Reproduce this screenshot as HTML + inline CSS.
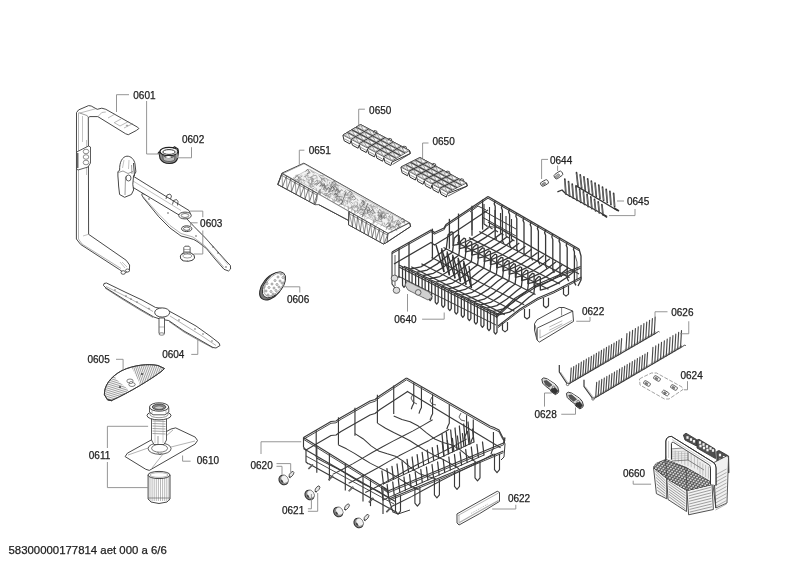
<!DOCTYPE html>
<html><head><meta charset="utf-8">
<style>
html,body{margin:0;padding:0;background:#fff;}
body{width:800px;height:566px;overflow:hidden;position:relative;}
svg{position:absolute;left:0;top:0;will-change:transform;}
text{font-family:"Liberation Sans",sans-serif;font-size:10px;fill:#222;stroke:#222;stroke-width:0.25px;}
.ft{font-size:11.4px;}
</style></head><body>
<svg width="800" height="566" viewBox="0 0 800 566">
<polygon points="76.5,112.6 78.6,109.9 88.6,105.6 91.2,106 97.2,109.3 101.8,108.2 105.8,109.3 137.6,127.2 138.9,128.5 136.3,130.5 128.3,134.7 125.7,133.8 97.8,116.6 89.9,116.6 88.3,117.5 88.6,234.3 126.2,260.3 129.6,265 129.4,271 124,273 119.8,269.8 80.6,244.4 76.4,239" stroke="#333" stroke-width="0.9" fill="#fff" stroke-linejoin="round" />
<polyline points="78.6,112.6 87.2,115.6 88.3,117.5" stroke="#555" stroke-width="0.6" fill="none" stroke-linejoin="round" />
<polyline points="80,113 96.5,108.5" stroke="#777" stroke-width="0.5" fill="none" stroke-linejoin="round" />
<polyline points="98,116.5 101.8,112.5 105.8,112" stroke="#777" stroke-width="0.5" fill="none" stroke-linejoin="round" />
<line x1="108" y1="118" x2="115" y2="114" stroke="#777" stroke-width="0.5" />
<line x1="114.5" y1="122.5" x2="121" y2="119" stroke="#777" stroke-width="0.5" />
<line x1="120" y1="126" x2="128.5" y2="121.5" stroke="#777" stroke-width="0.5" />
<line x1="114" y1="122.5" x2="120" y2="126" stroke="#777" stroke-width="0.5" />
<line x1="124" y1="128" x2="133" y2="123.5" stroke="#777" stroke-width="0.5" />
<ellipse cx="127" cy="125.5" rx="0.7" ry="0.5" stroke="#555" stroke-width="0.5" fill="none" />
<line x1="78.5" y1="113" x2="78.5" y2="239" stroke="#666" stroke-width="0.5" />
<line x1="82.5" y1="116" x2="82.5" y2="142" stroke="#888" stroke-width="0.5" />
<line x1="86.5" y1="140" x2="86.5" y2="175" stroke="#888" stroke-width="0.5" />
<polyline points="83,236 88.6,234.3" stroke="#888" stroke-width="0.5" fill="none" stroke-linejoin="round" />
<polyline points="78.5,239 82,244 121,268.5" stroke="#666" stroke-width="0.5" fill="none" stroke-linejoin="round" />
<line x1="120" y1="262" x2="125" y2="268" stroke="#888" stroke-width="0.5" />
<line x1="122" y1="262" x2="127" y2="267" stroke="#888" stroke-width="0.5" />
<ellipse cx="123.2" cy="272.5" rx="2.2" ry="1.8" stroke="#333" stroke-width="0.8" fill="#fff" />
<ellipse cx="127.5" cy="270.5" rx="2" ry="1.5" stroke="#333" stroke-width="0.7" fill="#fff" />
<polygon points="76.6,152 88.5,146 90.5,147 90.5,163 88,167 78,170 76.6,169" stroke="#333" stroke-width="0.8" fill="#fff" stroke-linejoin="round" />
<ellipse cx="86" cy="151.5" rx="2.8" ry="2.3" stroke="#444" stroke-width="0.6" fill="#fff" />
<ellipse cx="86" cy="157" rx="2.8" ry="2.3" stroke="#444" stroke-width="0.6" fill="#fff" />
<ellipse cx="86" cy="162.5" rx="2.8" ry="2.3" stroke="#444" stroke-width="0.6" fill="#fff" />
<line x1="77.8" y1="153" x2="77.8" y2="168" stroke="#444" stroke-width="1.2" />
<path d="M159,152.5 L160,158.5 C162,162.5 166,163.5 169.5,163.5 C173,163.5 176.5,162 177.5,158.5 L178.5,152 Z" stroke="#222" stroke-width="1.1" fill="#8a8a8a" stroke-linejoin="round" stroke-linecap="round" />
<ellipse cx="169" cy="151.5" rx="9" ry="4.2" stroke="#222" stroke-width="1.2" fill="#fff" />
<ellipse cx="169" cy="152" rx="6.2" ry="2.4" stroke="#333" stroke-width="1.0" fill="#fff" />
<path d="M163,155.5 C165,158.5 173,158.5 175,155.5 L174.5,160 C172,162 166,162 163.5,160 Z" stroke="#333" stroke-width="0.6" fill="#bbb" stroke-linejoin="round" stroke-linecap="round" />
<ellipse cx="168.5" cy="157" rx="2.5" ry="1" stroke="none" stroke-width="0" fill="#fff" />
<polyline points="173,148 174.5,146.8 178,149 178.5,152" stroke="#222" stroke-width="1.1" fill="none" stroke-linejoin="round" />
<polyline points="158,154 158.5,152 160.5,150.5" stroke="#222" stroke-width="1.0" fill="none" stroke-linejoin="round" />
<line x1="176" y1="149" x2="177.5" y2="158" stroke="#ccc" stroke-width="0.8" />
<polygon points="142.2,193.4 150.9,196.3 165,204 179.5,211.8 187,219 193.8,226.3 205,237.5 219.3,253.4 227,262 230.4,265.5 230.6,269 228.5,271 224,269.3 215,259 206.5,248.6 198,242 193.8,239.5 187,237.5 181,236 170,228 158.8,216.8 150,206 143.5,198 141.8,195" stroke="#333" stroke-width="0.9" fill="#fff" stroke-linejoin="round" />
<polyline points="143.5,197 150.5,205 159.5,215 170,225.5 181,233.5 193,237 205,246 214,256 224,267.5" stroke="#666" stroke-width="0.5" fill="none" stroke-linejoin="round" />
<polyline points="197,230 208,241 220,255 228,265" stroke="#888" stroke-width="0.45" fill="none" stroke-linejoin="round" />
<ellipse cx="149" cy="199" rx="0.7" ry="0.6" stroke="#555" stroke-width="0.5" fill="none" />
<ellipse cx="168" cy="213" rx="0.7" ry="0.6" stroke="#555" stroke-width="0.5" fill="none" />
<ellipse cx="196" cy="236" rx="0.7" ry="0.6" stroke="#555" stroke-width="0.5" fill="none" />
<ellipse cx="213" cy="247" rx="0.7" ry="0.6" stroke="#555" stroke-width="0.5" fill="none" />
<ellipse cx="218" cy="253" rx="0.7" ry="0.6" stroke="#555" stroke-width="0.5" fill="none" />
<ellipse cx="226" cy="267" rx="0.7" ry="0.6" stroke="#555" stroke-width="0.5" fill="none" />
<polygon points="131,174.8 146.1,184.2 189,210.5 190.5,214 187,217 178,214.4 129,185" stroke="#333" stroke-width="0.9" fill="#fff" stroke-linejoin="round" />
<line x1="133" y1="181" x2="181" y2="210.5" stroke="#888" stroke-width="0.5" />
<polyline points="166,199 167,195 170,194 171.5,196 170.5,199" stroke="#333" stroke-width="0.8" fill="none" stroke-linejoin="round" />
<polyline points="172.5,204.5 173.5,200.5 176.5,199.5 178,201.5 177.5,205.5" stroke="#333" stroke-width="0.8" fill="none" stroke-linejoin="round" />
<ellipse cx="185" cy="215.5" rx="6.3" ry="3.4" stroke="#333" stroke-width="0.9" fill="#fff" />
<ellipse cx="185" cy="215.5" rx="3.8" ry="2" stroke="#444" stroke-width="0.7" fill="#fff" />
<ellipse cx="186.7" cy="228.7" rx="5.2" ry="2.9" stroke="#333" stroke-width="0.9" fill="#fff" />
<ellipse cx="186.7" cy="228.7" rx="3.2" ry="1.7" stroke="#444" stroke-width="0.8" fill="#fff" />
<path d="M119.6,170 C119.3,162 122.5,156.5 126.9,156.2 C131,156 134.3,159.5 135,164 L135.9,172 L133.5,176 L132.8,184.4 L133.6,190 L131.4,194.5 L124.6,197.3 L119.6,194.5 L118.6,186 L118.4,182 L117.9,176 L117.9,172 Z" stroke="#333" stroke-width="0.9" fill="#fff" stroke-linejoin="round" stroke-linecap="round" />
<polyline points="118.2,172.5 123,171 128,173.5 133,171.5" stroke="#555" stroke-width="0.6" fill="none" stroke-linejoin="round" />
<polyline points="125.5,176.5 125,195" stroke="#555" stroke-width="0.6" fill="none" stroke-linejoin="round" />
<polyline points="124,160 122.5,168" stroke="#888" stroke-width="0.5" fill="none" stroke-linejoin="round" />
<polyline points="129,160 128.5,169" stroke="#888" stroke-width="0.5" fill="none" stroke-linejoin="round" />
<line x1="133.5" y1="163" x2="134.5" y2="176" stroke="#444" stroke-width="1.0" />
<line x1="131.5" y1="165" x2="132" y2="174" stroke="#666" stroke-width="0.6" />
<ellipse cx="128.5" cy="178" rx="2.5" ry="3" stroke="#333" stroke-width="0.8" fill="#fff" />
<polygon points="183.8,247.5 185,246.2 189,246.2 190.1,247.5 190.1,254 183.8,254" stroke="#333" stroke-width="0.8" fill="#fff" stroke-linejoin="round" />
<line x1="183.8" y1="249.5" x2="190.1" y2="249.5" stroke="#666" stroke-width="0.5" />
<line x1="183.8" y1="251.5" x2="190.1" y2="251.5" stroke="#666" stroke-width="0.5" />
<polygon points="180.3,256 182,253.5 186,252.8 191,253 194,255 194.6,258 192.5,260.3 188,261.3 183,260.8 180.8,259" stroke="#333" stroke-width="0.9" fill="#fff" stroke-linejoin="round" />
<ellipse cx="187.3" cy="256" rx="4.5" ry="2" stroke="#555" stroke-width="0.6" fill="#fff" />
<line x1="193.9" y1="257" x2="194.7" y2="257" stroke="#333" stroke-width="0.7" />
<line x1="192" y1="259.26" x2="192.56" y2="259.62" stroke="#333" stroke-width="0.7" />
<line x1="187.4" y1="260.2" x2="187.4" y2="260.7" stroke="#333" stroke-width="0.7" />
<line x1="182.8" y1="259.26" x2="182.24" y2="259.62" stroke="#333" stroke-width="0.7" />
<line x1="180.9" y1="257" x2="180.1" y2="257" stroke="#333" stroke-width="0.7" />
<line x1="182.8" y1="254.74" x2="182.24" y2="254.38" stroke="#333" stroke-width="0.7" />
<line x1="187.4" y1="253.8" x2="187.4" y2="253.3" stroke="#333" stroke-width="0.7" />
<line x1="192" y1="254.74" x2="192.56" y2="254.38" stroke="#333" stroke-width="0.7" />
<ellipse cx="272" cy="286.3" rx="16" ry="9.3" stroke="#2a2a2a" stroke-width="1.0" fill="#777" transform="rotate(-51 272 286.3)" />
<ellipse cx="274" cy="284.8" rx="15.2" ry="8.6" stroke="#333" stroke-width="0.9" fill="#fff" transform="rotate(-51 274 284.8)" />
<ellipse cx="274.3" cy="284.6" rx="13.6" ry="7.4" stroke="#666" stroke-width="0.5" fill="#fff" transform="rotate(-51 274.3 284.6)" />
<ellipse cx="266" cy="291" rx="1" ry="1" stroke="#555" stroke-width="0.55" fill="#fff" />
<ellipse cx="269" cy="287.5" rx="1" ry="1" stroke="#555" stroke-width="0.55" fill="#fff" />
<ellipse cx="272" cy="284" rx="1" ry="1" stroke="#555" stroke-width="0.55" fill="#fff" />
<ellipse cx="275" cy="280.5" rx="1" ry="1" stroke="#555" stroke-width="0.55" fill="#fff" />
<ellipse cx="278" cy="277" rx="1" ry="1" stroke="#555" stroke-width="0.55" fill="#fff" />
<ellipse cx="281" cy="274" rx="1" ry="1" stroke="#555" stroke-width="0.55" fill="#fff" />
<ellipse cx="268" cy="295" rx="1" ry="1" stroke="#555" stroke-width="0.55" fill="#fff" />
<ellipse cx="271" cy="291.5" rx="1" ry="1" stroke="#555" stroke-width="0.55" fill="#fff" />
<ellipse cx="274" cy="288" rx="1" ry="1" stroke="#555" stroke-width="0.55" fill="#fff" />
<ellipse cx="277" cy="284.5" rx="1" ry="1" stroke="#555" stroke-width="0.55" fill="#fff" />
<ellipse cx="280" cy="281" rx="1" ry="1" stroke="#555" stroke-width="0.55" fill="#fff" />
<ellipse cx="283" cy="277.5" rx="1" ry="1" stroke="#555" stroke-width="0.55" fill="#fff" />
<ellipse cx="273" cy="294" rx="1" ry="1" stroke="#555" stroke-width="0.55" fill="#fff" />
<ellipse cx="276" cy="290.5" rx="1" ry="1" stroke="#555" stroke-width="0.55" fill="#fff" />
<ellipse cx="279" cy="287" rx="1" ry="1" stroke="#555" stroke-width="0.55" fill="#fff" />
<ellipse cx="282" cy="283" rx="1" ry="1" stroke="#555" stroke-width="0.55" fill="#fff" />
<ellipse cx="264" cy="287" rx="1" ry="1" stroke="#555" stroke-width="0.55" fill="#fff" />
<ellipse cx="267" cy="283.5" rx="1" ry="1" stroke="#555" stroke-width="0.55" fill="#fff" />
<polygon points="104,283.5 106.5,283 125,292 142,300 155.6,307.5 162,308.5 169,311 180,317 196,326 210,336 219,343 220,345.5 216,348 213,347.5 200,340 184,331 168.8,320.6 160,319 153.8,317 140,309 122,298 106,288 103.5,285.5" stroke="#333" stroke-width="0.9" fill="#fff" stroke-linejoin="round" />
<polyline points="106,286.5 124,295.5 140,304 153,311.5" stroke="#666" stroke-width="0.5" fill="none" stroke-linejoin="round" />
<polyline points="170,316 186,326 202,336 216,345.5" stroke="#666" stroke-width="0.5" fill="none" stroke-linejoin="round" />
<polyline points="105,288 122,299 140,310 153,317.5" stroke="#444" stroke-width="0.6" fill="none" stroke-linejoin="round" />
<polyline points="169,321.5 184,332 200,341 213,348" stroke="#444" stroke-width="0.6" fill="none" stroke-linejoin="round" />
<ellipse cx="115" cy="290" rx="0.6" ry="0.5" stroke="#555" stroke-width="0.5" fill="none" />
<ellipse cx="126" cy="296" rx="0.6" ry="0.5" stroke="#555" stroke-width="0.5" fill="none" />
<ellipse cx="131" cy="299" rx="0.6" ry="0.5" stroke="#555" stroke-width="0.5" fill="none" />
<ellipse cx="137" cy="302" rx="0.6" ry="0.5" stroke="#555" stroke-width="0.5" fill="none" />
<ellipse cx="149" cy="308.5" rx="0.6" ry="0.5" stroke="#555" stroke-width="0.5" fill="none" />
<ellipse cx="179" cy="320" rx="0.6" ry="0.5" stroke="#555" stroke-width="0.5" fill="none" />
<ellipse cx="195" cy="329" rx="0.6" ry="0.5" stroke="#555" stroke-width="0.5" fill="none" />
<ellipse cx="203" cy="334" rx="0.6" ry="0.5" stroke="#555" stroke-width="0.5" fill="none" />
<ellipse cx="212" cy="341" rx="0.6" ry="0.5" stroke="#555" stroke-width="0.5" fill="none" />
<ellipse cx="162.2" cy="312.5" rx="7.5" ry="4.6" stroke="#333" stroke-width="0.9" fill="#fff" />
<polygon points="159,318 164.5,318 164.5,333 163.5,334.5 160,334.5 159,333" stroke="#333" stroke-width="0.8" fill="#fff" stroke-linejoin="round" />
<line x1="159" y1="327" x2="164.5" y2="327" stroke="#666" stroke-width="0.5" />
<ellipse cx="161.7" cy="334" rx="2.7" ry="1.2" stroke="#333" stroke-width="0.6" fill="#fff" />
<path d="M104.4,394.4 C104,386 110,377 122,370.5 C134,365 148,363.5 158,365.5 L164.4,368.5 L162,371 C150,380 130,392 111.9,400.4 L108,400 Z" stroke="#333" stroke-width="0.9" fill="#fff" stroke-linejoin="round" stroke-linecap="round" />
<defs><clipPath id="fpclip"><path d="M104.4,394.4 C104,386 110,377 122,370.5 C134,365 148,363.5 158,365.5 L164.4,368.5 L162,371 C150,380 130,392 111.9,400.4 L108,400 Z"/></clipPath></defs>
<defs><clipPath id="fpR"><polygon points="128,360 170,360 170,400 143,400 139,382"/></clipPath><clipPath id="fpL"><polygon points="95,360 110,360 116,379 131,392 131,405 95,405"/></clipPath></defs>
<g clip-path="url(#fpclip)"><g clip-path="url(#fpR)">
<line x1="115" y1="362" x2="125" y2="392" stroke="#808080" stroke-width="0.75" />
<line x1="116.9" y1="362" x2="126.9" y2="392" stroke="#808080" stroke-width="0.75" />
<line x1="118.8" y1="362" x2="128.8" y2="392" stroke="#808080" stroke-width="0.75" />
<line x1="120.7" y1="362" x2="130.7" y2="392" stroke="#808080" stroke-width="0.75" />
<line x1="122.6" y1="362" x2="132.6" y2="392" stroke="#808080" stroke-width="0.75" />
<line x1="124.5" y1="362" x2="134.5" y2="392" stroke="#808080" stroke-width="0.75" />
<line x1="126.4" y1="362" x2="136.4" y2="392" stroke="#808080" stroke-width="0.75" />
<line x1="128.3" y1="362" x2="138.3" y2="392" stroke="#808080" stroke-width="0.75" />
<line x1="130.2" y1="362" x2="140.2" y2="392" stroke="#808080" stroke-width="0.75" />
<line x1="132.1" y1="362" x2="142.1" y2="392" stroke="#808080" stroke-width="0.75" />
<line x1="134" y1="362" x2="144" y2="392" stroke="#808080" stroke-width="0.75" />
<line x1="135.9" y1="362" x2="145.9" y2="392" stroke="#808080" stroke-width="0.75" />
<line x1="137.8" y1="362" x2="147.8" y2="392" stroke="#808080" stroke-width="0.75" />
<line x1="139.7" y1="362" x2="149.7" y2="392" stroke="#808080" stroke-width="0.75" />
<line x1="141.6" y1="362" x2="151.6" y2="392" stroke="#808080" stroke-width="0.75" />
<line x1="143.5" y1="362" x2="153.5" y2="392" stroke="#808080" stroke-width="0.75" />
<line x1="145.4" y1="362" x2="155.4" y2="392" stroke="#808080" stroke-width="0.75" />
<line x1="147.3" y1="362" x2="157.3" y2="392" stroke="#808080" stroke-width="0.75" />
<line x1="149.2" y1="362" x2="159.2" y2="392" stroke="#808080" stroke-width="0.75" />
<line x1="151.1" y1="362" x2="161.1" y2="392" stroke="#808080" stroke-width="0.75" />
<line x1="153" y1="362" x2="163" y2="392" stroke="#808080" stroke-width="0.75" />
<line x1="154.9" y1="362" x2="164.9" y2="392" stroke="#808080" stroke-width="0.75" />
<line x1="156.8" y1="362" x2="166.8" y2="392" stroke="#808080" stroke-width="0.75" />
<line x1="158.7" y1="362" x2="168.7" y2="392" stroke="#808080" stroke-width="0.75" />
<line x1="160.6" y1="362" x2="170.6" y2="392" stroke="#808080" stroke-width="0.75" />
<line x1="162.5" y1="362" x2="172.5" y2="392" stroke="#808080" stroke-width="0.75" />
<line x1="164.4" y1="362" x2="174.4" y2="392" stroke="#808080" stroke-width="0.75" />
<line x1="166.3" y1="362" x2="176.3" y2="392" stroke="#808080" stroke-width="0.75" />
<line x1="168.2" y1="362" x2="178.2" y2="392" stroke="#808080" stroke-width="0.75" />
<line x1="170.1" y1="362" x2="180.1" y2="392" stroke="#808080" stroke-width="0.75" />
<line x1="172" y1="362" x2="182" y2="392" stroke="#808080" stroke-width="0.75" />
<line x1="173.9" y1="362" x2="183.9" y2="392" stroke="#808080" stroke-width="0.75" />
<line x1="175.8" y1="362" x2="185.8" y2="392" stroke="#808080" stroke-width="0.75" />
<line x1="177.7" y1="362" x2="187.7" y2="392" stroke="#808080" stroke-width="0.75" />
<line x1="179.6" y1="362" x2="189.6" y2="392" stroke="#808080" stroke-width="0.75" />
<line x1="181.5" y1="362" x2="191.5" y2="392" stroke="#808080" stroke-width="0.75" />
<line x1="183.4" y1="362" x2="193.4" y2="392" stroke="#808080" stroke-width="0.75" />
<line x1="185.3" y1="362" x2="195.3" y2="392" stroke="#808080" stroke-width="0.75" />
<line x1="187.2" y1="362" x2="197.2" y2="392" stroke="#808080" stroke-width="0.75" />
<line x1="189.1" y1="362" x2="199.1" y2="392" stroke="#808080" stroke-width="0.75" />
</g><g clip-path="url(#fpL)">
<line x1="100" y1="362.5" x2="128" y2="354.5" stroke="#808080" stroke-width="0.75" />
<line x1="100" y1="364.4" x2="128" y2="356.4" stroke="#808080" stroke-width="0.75" />
<line x1="100" y1="366.3" x2="128" y2="358.3" stroke="#808080" stroke-width="0.75" />
<line x1="100" y1="368.2" x2="128" y2="360.2" stroke="#808080" stroke-width="0.75" />
<line x1="100" y1="370.1" x2="128" y2="362.1" stroke="#808080" stroke-width="0.75" />
<line x1="100" y1="372" x2="128" y2="364" stroke="#808080" stroke-width="0.75" />
<line x1="100" y1="373.9" x2="128" y2="365.9" stroke="#808080" stroke-width="0.75" />
<line x1="100" y1="375.8" x2="128" y2="367.8" stroke="#808080" stroke-width="0.75" />
<line x1="100" y1="377.7" x2="128" y2="369.7" stroke="#808080" stroke-width="0.75" />
<line x1="100" y1="379.6" x2="128" y2="371.6" stroke="#808080" stroke-width="0.75" />
<line x1="100" y1="381.5" x2="128" y2="373.5" stroke="#808080" stroke-width="0.75" />
<line x1="100" y1="383.4" x2="128" y2="375.4" stroke="#808080" stroke-width="0.75" />
<line x1="100" y1="385.3" x2="128" y2="377.3" stroke="#808080" stroke-width="0.75" />
<line x1="100" y1="387.2" x2="128" y2="379.2" stroke="#808080" stroke-width="0.75" />
<line x1="100" y1="389.1" x2="128" y2="381.1" stroke="#808080" stroke-width="0.75" />
<line x1="100" y1="391" x2="128" y2="383" stroke="#808080" stroke-width="0.75" />
<line x1="100" y1="392.9" x2="128" y2="384.9" stroke="#808080" stroke-width="0.75" />
<line x1="100" y1="394.8" x2="128" y2="386.8" stroke="#808080" stroke-width="0.75" />
<line x1="100" y1="396.7" x2="128" y2="388.7" stroke="#808080" stroke-width="0.75" />
<line x1="100" y1="398.6" x2="128" y2="390.6" stroke="#808080" stroke-width="0.75" />
<line x1="100" y1="400.5" x2="128" y2="392.5" stroke="#808080" stroke-width="0.75" />
<line x1="100" y1="402.4" x2="128" y2="394.4" stroke="#808080" stroke-width="0.75" />
<line x1="100" y1="404.3" x2="128" y2="396.3" stroke="#808080" stroke-width="0.75" />
<line x1="100" y1="406.2" x2="128" y2="398.2" stroke="#808080" stroke-width="0.75" />
<line x1="100" y1="408.1" x2="128" y2="400.1" stroke="#808080" stroke-width="0.75" />
<line x1="100" y1="410" x2="128" y2="402" stroke="#808080" stroke-width="0.75" />
<line x1="100" y1="411.9" x2="128" y2="403.9" stroke="#808080" stroke-width="0.75" />
<line x1="100" y1="413.8" x2="128" y2="405.8" stroke="#808080" stroke-width="0.75" />
<line x1="100" y1="415.7" x2="128" y2="407.7" stroke="#808080" stroke-width="0.75" />
<line x1="100" y1="417.6" x2="128" y2="409.6" stroke="#808080" stroke-width="0.75" />
</g></g>
<path d="M104.4,394.4 C104,386 110,377 122,370.5 C134,365 148,363.5 158,365.5 L164.4,368.5 L162,371 C150,380 130,392 111.9,400.4 L108,400 Z" stroke="#333" stroke-width="0.9" fill="none" stroke-linejoin="round" stroke-linecap="round" />
<ellipse cx="130" cy="381" rx="3.2" ry="2" stroke="#333" stroke-width="0.6" fill="#fff" />
<ellipse cx="132" cy="384.5" rx="3.2" ry="2" stroke="#333" stroke-width="0.6" fill="#fff" />
<ellipse cx="131" cy="382.5" rx="1.5" ry="1" stroke="#333" stroke-width="0.5" fill="#fff" />
<ellipse cx="142" cy="374" rx="0.8" ry="0.6" stroke="#333" stroke-width="0.6" fill="#333" />
<ellipse cx="120" cy="387" rx="0.8" ry="0.6" stroke="#333" stroke-width="0.6" fill="#333" />
<polyline points="108,399.5 112,401" stroke="#333" stroke-width="1" fill="none" stroke-linejoin="round" />
<polygon points="125.1,456.6 127.4,453.2 171,429 175.7,427.9 195.2,437.1 197.5,440.5 195.2,444 149.3,470.4 145.8,469.3" stroke="#333" stroke-width="0.9" fill="#fff" stroke-linejoin="round" />
<ellipse cx="159.6" cy="448.6" rx="11.5" ry="5.7" stroke="#333" stroke-width="0.8" fill="#fff" />
<ellipse cx="159.6" cy="448.3" rx="8" ry="3.9" stroke="#444" stroke-width="0.7" fill="#fff" />
<line x1="128" y1="455" x2="148" y2="448" stroke="#666" stroke-width="0.5" />
<line x1="171" y1="447" x2="195" y2="441" stroke="#666" stroke-width="0.5" />
<line x1="163" y1="454" x2="152" y2="468" stroke="#666" stroke-width="0.5" />
<line x1="158" y1="443" x2="173" y2="430" stroke="#666" stroke-width="0.5" />
<polyline points="157.5,452 160,455 161.5,453" stroke="#444" stroke-width="0.6" fill="none" stroke-linejoin="round" />
<polygon points="151.5,418 166.5,418 166.5,440 164,444.5 154,444.5 151.5,440" stroke="#333" stroke-width="0.8" fill="#fff" stroke-linejoin="round" />
<line x1="152.5" y1="421" x2="165.5" y2="421.5" stroke="#666" stroke-width="0.6" />
<line x1="152.5" y1="423.5" x2="165.5" y2="424" stroke="#666" stroke-width="0.6" />
<line x1="152.5" y1="426" x2="165.5" y2="426.5" stroke="#666" stroke-width="0.6" />
<line x1="152.5" y1="428.5" x2="165.5" y2="429" stroke="#666" stroke-width="0.6" />
<line x1="152.5" y1="431" x2="165.5" y2="431.5" stroke="#666" stroke-width="0.6" />
<line x1="152.5" y1="433.5" x2="165.5" y2="434" stroke="#666" stroke-width="0.6" />
<line x1="155" y1="418" x2="155" y2="443" stroke="#999" stroke-width="0.5" />
<line x1="163" y1="418" x2="163" y2="443" stroke="#999" stroke-width="0.5" />
<polyline points="158,436 158,444" stroke="#555" stroke-width="0.6" fill="none" stroke-linejoin="round" />
<ellipse cx="159" cy="415.5" rx="12" ry="4.4" stroke="#333" stroke-width="0.9" fill="#fff" />
<ellipse cx="159" cy="414.5" rx="9" ry="3.2" stroke="#555" stroke-width="0.6" fill="#fff" />
<polygon points="149.5,407.5 149.5,412 153,414.8 165,414.8 168.8,412 168.8,407.5" stroke="#333" stroke-width="0.8" fill="#fff" stroke-linejoin="round" />
<line x1="152" y1="409" x2="152" y2="413.5" stroke="#777" stroke-width="0.5" />
<line x1="166" y1="409" x2="166" y2="413.5" stroke="#777" stroke-width="0.5" />
<ellipse cx="159.1" cy="407" rx="9.6" ry="4.2" stroke="#333" stroke-width="0.9" fill="#fff" />
<ellipse cx="159.1" cy="407" rx="6.8" ry="2.9" stroke="#333" stroke-width="0.8" fill="#888" />
<ellipse cx="159.1" cy="407.6" rx="4.2" ry="1.7" stroke="#444" stroke-width="0.5" fill="#ccc" />
<polygon points="148.1,475 148.1,499 151,502 159,503.5 167,502 170,499 170,475" stroke="#333" stroke-width="0.9" fill="#fff" stroke-linejoin="round" />
<line x1="150" y1="476" x2="150" y2="501" stroke="#888" stroke-width="0.6" />
<line x1="152.1" y1="476" x2="152.1" y2="501" stroke="#888" stroke-width="0.6" />
<line x1="154.2" y1="476" x2="154.2" y2="501" stroke="#888" stroke-width="0.6" />
<line x1="156.3" y1="476" x2="156.3" y2="501" stroke="#888" stroke-width="0.6" />
<line x1="158.4" y1="476" x2="158.4" y2="501" stroke="#888" stroke-width="0.6" />
<line x1="160.5" y1="476" x2="160.5" y2="501" stroke="#888" stroke-width="0.6" />
<line x1="162.6" y1="476" x2="162.6" y2="501" stroke="#888" stroke-width="0.6" />
<line x1="164.7" y1="476" x2="164.7" y2="501" stroke="#888" stroke-width="0.6" />
<line x1="166.8" y1="476" x2="166.8" y2="501" stroke="#888" stroke-width="0.6" />
<line x1="168.9" y1="476" x2="168.9" y2="501" stroke="#888" stroke-width="0.6" />
<ellipse cx="159" cy="475" rx="11" ry="3.6" stroke="#333" stroke-width="0.9" fill="#fff" />
<ellipse cx="159" cy="475" rx="9" ry="2.4" stroke="#666" stroke-width="0.5" fill="#fff" />
<line x1="148.1" y1="498" x2="170" y2="498" stroke="#555" stroke-width="0.6" />
<polygon points="343,135 360.5,124.5 409.5,150.5 410.3,153.5 392,162 390.77,165.55 385.06,162.52 383.83,157.67 383.83,157.67 382.61,161.22 376.89,158.18 375.67,153.33 375.67,153.33 374.44,156.88 368.73,153.85 367.5,149 367.5,149 366.27,152.55 360.56,149.52 359.33,144.67 359.33,144.67 358.11,148.22 352.39,145.18 351.17,140.33 351.17,140.33 349.94,143.88 344.23,140.85 343,136" stroke="#2e2e2e" stroke-width="1.0" fill="#fff" stroke-linejoin="round" />
<polygon points="343,135 360.5,124.5 409.5,150.5 392,161" stroke="#444" stroke-width="0.8" fill="#fafafa" stroke-linejoin="round" />
<polygon points="344.88,135.26 350.6,138.29 347.94,133.42" stroke="#777" stroke-width="0.5" fill="#ececec" stroke-linejoin="round" />
<polygon points="353.66,136.45 350.6,138.29 347.94,133.42" stroke="#777" stroke-width="0.5" fill="#fff" stroke-linejoin="round" />
<polygon points="349.26,132.63 354.97,135.66 352.32,130.79" stroke="#777" stroke-width="0.5" fill="#ececec" stroke-linejoin="round" />
<polygon points="358.04,133.83 354.97,135.66 352.32,130.79" stroke="#777" stroke-width="0.5" fill="#fff" stroke-linejoin="round" />
<polygon points="353.63,130.01 359.35,133.04 356.69,128.17" stroke="#777" stroke-width="0.5" fill="#ececec" stroke-linejoin="round" />
<polygon points="362.41,131.2 359.35,133.04 356.69,128.17" stroke="#777" stroke-width="0.5" fill="#fff" stroke-linejoin="round" />
<polygon points="358.01,127.38 363.72,130.41 361.07,125.54" stroke="#777" stroke-width="0.5" fill="#ececec" stroke-linejoin="round" />
<polygon points="366.79,128.58 363.72,130.41 361.07,125.54" stroke="#777" stroke-width="0.5" fill="#fff" stroke-linejoin="round" />
<polygon points="353.05,139.59 358.76,142.62 356.11,137.75" stroke="#777" stroke-width="0.5" fill="#ececec" stroke-linejoin="round" />
<polygon points="361.83,140.79 358.76,142.62 356.11,137.75" stroke="#777" stroke-width="0.5" fill="#fff" stroke-linejoin="round" />
<polygon points="357.42,136.96 363.14,140 360.49,135.13" stroke="#777" stroke-width="0.5" fill="#ececec" stroke-linejoin="round" />
<polygon points="366.2,138.16 363.14,140 360.49,135.13" stroke="#777" stroke-width="0.5" fill="#fff" stroke-linejoin="round" />
<polygon points="361.8,134.34 367.51,137.37 364.86,132.5" stroke="#777" stroke-width="0.5" fill="#ececec" stroke-linejoin="round" />
<polygon points="370.58,135.54 367.51,137.37 364.86,132.5" stroke="#777" stroke-width="0.5" fill="#fff" stroke-linejoin="round" />
<polygon points="366.17,131.71 371.89,134.75 369.24,129.88" stroke="#777" stroke-width="0.5" fill="#ececec" stroke-linejoin="round" />
<polygon points="374.95,132.91 371.89,134.75 369.24,129.88" stroke="#777" stroke-width="0.5" fill="#fff" stroke-linejoin="round" />
<polygon points="361.21,143.92 366.93,146.96 364.28,142.09" stroke="#777" stroke-width="0.5" fill="#ececec" stroke-linejoin="round" />
<polygon points="369.99,145.12 366.93,146.96 364.28,142.09" stroke="#777" stroke-width="0.5" fill="#fff" stroke-linejoin="round" />
<polygon points="365.59,141.3 371.31,144.33 368.65,139.46" stroke="#777" stroke-width="0.5" fill="#ececec" stroke-linejoin="round" />
<polygon points="374.37,142.49 371.31,144.33 368.65,139.46" stroke="#777" stroke-width="0.5" fill="#fff" stroke-linejoin="round" />
<polygon points="369.96,138.67 375.68,141.71 373.03,136.84" stroke="#777" stroke-width="0.5" fill="#ececec" stroke-linejoin="round" />
<polygon points="378.74,139.87 375.68,141.71 373.03,136.84" stroke="#777" stroke-width="0.5" fill="#fff" stroke-linejoin="round" />
<polygon points="374.34,136.05 380.06,139.08 377.4,134.21" stroke="#777" stroke-width="0.5" fill="#ececec" stroke-linejoin="round" />
<polygon points="383.12,137.24 380.06,139.08 377.4,134.21" stroke="#777" stroke-width="0.5" fill="#fff" stroke-linejoin="round" />
<polygon points="369.38,148.26 375.1,151.29 372.44,146.42" stroke="#777" stroke-width="0.5" fill="#ececec" stroke-linejoin="round" />
<polygon points="378.16,149.45 375.1,151.29 372.44,146.42" stroke="#777" stroke-width="0.5" fill="#fff" stroke-linejoin="round" />
<polygon points="373.76,145.63 379.47,148.66 376.82,143.79" stroke="#777" stroke-width="0.5" fill="#ececec" stroke-linejoin="round" />
<polygon points="382.54,146.83 379.47,148.66 376.82,143.79" stroke="#777" stroke-width="0.5" fill="#fff" stroke-linejoin="round" />
<polygon points="378.13,143.01 383.85,146.04 381.19,141.17" stroke="#777" stroke-width="0.5" fill="#ececec" stroke-linejoin="round" />
<polygon points="386.91,144.2 383.85,146.04 381.19,141.17" stroke="#777" stroke-width="0.5" fill="#fff" stroke-linejoin="round" />
<polygon points="382.51,140.38 388.22,143.41 385.57,138.54" stroke="#777" stroke-width="0.5" fill="#ececec" stroke-linejoin="round" />
<polygon points="391.29,141.58 388.22,143.41 385.57,138.54" stroke="#777" stroke-width="0.5" fill="#fff" stroke-linejoin="round" />
<polygon points="377.55,152.59 383.26,155.62 380.61,150.75" stroke="#777" stroke-width="0.5" fill="#ececec" stroke-linejoin="round" />
<polygon points="386.33,153.79 383.26,155.62 380.61,150.75" stroke="#777" stroke-width="0.5" fill="#fff" stroke-linejoin="round" />
<polygon points="381.92,149.96 387.64,153 384.99,148.13" stroke="#777" stroke-width="0.5" fill="#ececec" stroke-linejoin="round" />
<polygon points="390.7,151.16 387.64,153 384.99,148.13" stroke="#777" stroke-width="0.5" fill="#fff" stroke-linejoin="round" />
<polygon points="386.3,147.34 392.01,150.37 389.36,145.5" stroke="#777" stroke-width="0.5" fill="#ececec" stroke-linejoin="round" />
<polygon points="395.08,148.54 392.01,150.37 389.36,145.5" stroke="#777" stroke-width="0.5" fill="#fff" stroke-linejoin="round" />
<polygon points="390.67,144.71 396.39,147.75 393.74,142.88" stroke="#777" stroke-width="0.5" fill="#ececec" stroke-linejoin="round" />
<polygon points="399.45,145.91 396.39,147.75 393.74,142.88" stroke="#777" stroke-width="0.5" fill="#fff" stroke-linejoin="round" />
<polygon points="385.71,156.92 391.43,159.96 388.78,155.09" stroke="#777" stroke-width="0.5" fill="#ececec" stroke-linejoin="round" />
<polygon points="394.49,158.12 391.43,159.96 388.78,155.09" stroke="#777" stroke-width="0.5" fill="#fff" stroke-linejoin="round" />
<polygon points="390.09,154.3 395.81,157.33 393.15,152.46" stroke="#777" stroke-width="0.5" fill="#ececec" stroke-linejoin="round" />
<polygon points="398.87,155.49 395.81,157.33 393.15,152.46" stroke="#777" stroke-width="0.5" fill="#fff" stroke-linejoin="round" />
<polygon points="394.46,151.67 400.18,154.71 397.53,149.84" stroke="#777" stroke-width="0.5" fill="#ececec" stroke-linejoin="round" />
<polygon points="403.24,152.87 400.18,154.71 397.53,149.84" stroke="#777" stroke-width="0.5" fill="#fff" stroke-linejoin="round" />
<polygon points="398.84,149.05 404.56,152.08 401.9,147.21" stroke="#777" stroke-width="0.5" fill="#ececec" stroke-linejoin="round" />
<polygon points="407.62,150.24 404.56,152.08 401.9,147.21" stroke="#777" stroke-width="0.5" fill="#fff" stroke-linejoin="round" />
<line x1="351.17" y1="139.33" x2="368.67" y2="128.83" stroke="#3a3a3a" stroke-width="1.05" />
<line x1="359.33" y1="143.67" x2="376.83" y2="133.17" stroke="#3a3a3a" stroke-width="1.05" />
<line x1="367.5" y1="148" x2="385" y2="137.5" stroke="#3a3a3a" stroke-width="1.05" />
<line x1="375.67" y1="152.33" x2="393.17" y2="141.83" stroke="#3a3a3a" stroke-width="1.05" />
<line x1="383.83" y1="156.67" x2="401.33" y2="146.17" stroke="#3a3a3a" stroke-width="1.05" />
<line x1="347.38" y1="132.38" x2="396.38" y2="158.38" stroke="#3a3a3a" stroke-width="1.05" />
<line x1="351.75" y1="129.75" x2="400.75" y2="155.75" stroke="#3a3a3a" stroke-width="1.05" />
<line x1="356.12" y1="127.12" x2="405.12" y2="153.12" stroke="#3a3a3a" stroke-width="1.05" />
<polyline points="344.63,138.87 349.53,141.47" stroke="#555" stroke-width="0.6" fill="none" stroke-linejoin="round" />
<polyline points="352.8,143.2 357.7,145.8" stroke="#555" stroke-width="0.6" fill="none" stroke-linejoin="round" />
<polyline points="360.97,147.53 365.87,150.13" stroke="#555" stroke-width="0.6" fill="none" stroke-linejoin="round" />
<polyline points="369.13,151.87 374.03,154.47" stroke="#555" stroke-width="0.6" fill="none" stroke-linejoin="round" />
<polyline points="377.3,156.2 382.2,158.8" stroke="#555" stroke-width="0.6" fill="none" stroke-linejoin="round" />
<polyline points="385.47,160.53 390.37,163.13" stroke="#555" stroke-width="0.6" fill="none" stroke-linejoin="round" />
<polyline points="373.2,132.8 374.2,130.5 376.7,131.1 377.2,133.1" stroke="#333" stroke-width="0.8" fill="none" stroke-linejoin="round" />
<polyline points="387.9,140.6 388.9,138.3 391.4,138.9 391.9,140.9" stroke="#333" stroke-width="0.8" fill="none" stroke-linejoin="round" />
<polyline points="402.6,148.4 403.6,146.1 406.1,146.7 406.6,148.7" stroke="#333" stroke-width="0.8" fill="none" stroke-linejoin="round" />
<polyline points="409.5,150.5 410.3,153.5 392.5,164.5" stroke="#333" stroke-width="0.8" fill="none" stroke-linejoin="round" />
<polygon points="401,167 420,157.5 466.5,183 467.3,186 447.5,193.5 446.34,197.06 440.91,194.09 439.75,189.25 439.75,189.25 438.59,192.81 433.16,189.84 432,185 432,185 430.84,188.56 425.41,185.59 424.25,180.75 424.25,180.75 423.09,184.31 417.66,181.34 416.5,176.5 416.5,176.5 415.34,180.06 409.91,177.09 408.75,172.25 408.75,172.25 407.59,175.81 402.16,172.84 401,168" stroke="#2e2e2e" stroke-width="1.0" fill="#fff" stroke-linejoin="round" />
<polygon points="401,167 420,157.5 466.5,183 447.5,192.5" stroke="#444" stroke-width="0.8" fill="#fafafa" stroke-linejoin="round" />
<polygon points="402.88,167.28 408.3,170.26 406.2,165.62" stroke="#777" stroke-width="0.5" fill="#ececec" stroke-linejoin="round" />
<polygon points="411.62,168.59 408.3,170.26 406.2,165.62" stroke="#777" stroke-width="0.5" fill="#fff" stroke-linejoin="round" />
<polygon points="407.62,164.91 413.05,167.88 410.95,163.24" stroke="#777" stroke-width="0.5" fill="#ececec" stroke-linejoin="round" />
<polygon points="416.38,166.22 413.05,167.88 410.95,163.24" stroke="#777" stroke-width="0.5" fill="#fff" stroke-linejoin="round" />
<polygon points="412.38,162.53 417.8,165.51 415.7,160.87" stroke="#777" stroke-width="0.5" fill="#ececec" stroke-linejoin="round" />
<polygon points="421.12,163.84 417.8,165.51 415.7,160.87" stroke="#777" stroke-width="0.5" fill="#fff" stroke-linejoin="round" />
<polygon points="417.12,160.16 422.55,163.13 420.45,158.49" stroke="#777" stroke-width="0.5" fill="#ececec" stroke-linejoin="round" />
<polygon points="425.88,161.47 422.55,163.13 420.45,158.49" stroke="#777" stroke-width="0.5" fill="#fff" stroke-linejoin="round" />
<polygon points="410.62,171.53 416.05,174.51 413.95,169.87" stroke="#777" stroke-width="0.5" fill="#ececec" stroke-linejoin="round" />
<polygon points="419.38,172.84 416.05,174.51 413.95,169.87" stroke="#777" stroke-width="0.5" fill="#fff" stroke-linejoin="round" />
<polygon points="415.38,169.16 420.8,172.13 418.7,167.49" stroke="#777" stroke-width="0.5" fill="#ececec" stroke-linejoin="round" />
<polygon points="424.12,170.47 420.8,172.13 418.7,167.49" stroke="#777" stroke-width="0.5" fill="#fff" stroke-linejoin="round" />
<polygon points="420.12,166.78 425.55,169.76 423.45,165.12" stroke="#777" stroke-width="0.5" fill="#ececec" stroke-linejoin="round" />
<polygon points="428.88,168.09 425.55,169.76 423.45,165.12" stroke="#777" stroke-width="0.5" fill="#fff" stroke-linejoin="round" />
<polygon points="424.88,164.41 430.3,167.38 428.2,162.74" stroke="#777" stroke-width="0.5" fill="#ececec" stroke-linejoin="round" />
<polygon points="433.62,165.72 430.3,167.38 428.2,162.74" stroke="#777" stroke-width="0.5" fill="#fff" stroke-linejoin="round" />
<polygon points="418.38,175.78 423.8,178.76 421.7,174.12" stroke="#777" stroke-width="0.5" fill="#ececec" stroke-linejoin="round" />
<polygon points="427.12,177.09 423.8,178.76 421.7,174.12" stroke="#777" stroke-width="0.5" fill="#fff" stroke-linejoin="round" />
<polygon points="423.12,173.41 428.55,176.38 426.45,171.74" stroke="#777" stroke-width="0.5" fill="#ececec" stroke-linejoin="round" />
<polygon points="431.88,174.72 428.55,176.38 426.45,171.74" stroke="#777" stroke-width="0.5" fill="#fff" stroke-linejoin="round" />
<polygon points="427.88,171.03 433.3,174.01 431.2,169.37" stroke="#777" stroke-width="0.5" fill="#ececec" stroke-linejoin="round" />
<polygon points="436.62,172.34 433.3,174.01 431.2,169.37" stroke="#777" stroke-width="0.5" fill="#fff" stroke-linejoin="round" />
<polygon points="432.62,168.66 438.05,171.63 435.95,166.99" stroke="#777" stroke-width="0.5" fill="#ececec" stroke-linejoin="round" />
<polygon points="441.38,169.97 438.05,171.63 435.95,166.99" stroke="#777" stroke-width="0.5" fill="#fff" stroke-linejoin="round" />
<polygon points="426.12,180.03 431.55,183.01 429.45,178.37" stroke="#777" stroke-width="0.5" fill="#ececec" stroke-linejoin="round" />
<polygon points="434.88,181.34 431.55,183.01 429.45,178.37" stroke="#777" stroke-width="0.5" fill="#fff" stroke-linejoin="round" />
<polygon points="430.88,177.66 436.3,180.63 434.2,175.99" stroke="#777" stroke-width="0.5" fill="#ececec" stroke-linejoin="round" />
<polygon points="439.62,178.97 436.3,180.63 434.2,175.99" stroke="#777" stroke-width="0.5" fill="#fff" stroke-linejoin="round" />
<polygon points="435.62,175.28 441.05,178.26 438.95,173.62" stroke="#777" stroke-width="0.5" fill="#ececec" stroke-linejoin="round" />
<polygon points="444.38,176.59 441.05,178.26 438.95,173.62" stroke="#777" stroke-width="0.5" fill="#fff" stroke-linejoin="round" />
<polygon points="440.38,172.91 445.8,175.88 443.7,171.24" stroke="#777" stroke-width="0.5" fill="#ececec" stroke-linejoin="round" />
<polygon points="449.12,174.22 445.8,175.88 443.7,171.24" stroke="#777" stroke-width="0.5" fill="#fff" stroke-linejoin="round" />
<polygon points="433.88,184.28 439.3,187.26 437.2,182.62" stroke="#777" stroke-width="0.5" fill="#ececec" stroke-linejoin="round" />
<polygon points="442.62,185.59 439.3,187.26 437.2,182.62" stroke="#777" stroke-width="0.5" fill="#fff" stroke-linejoin="round" />
<polygon points="438.62,181.91 444.05,184.88 441.95,180.24" stroke="#777" stroke-width="0.5" fill="#ececec" stroke-linejoin="round" />
<polygon points="447.38,183.22 444.05,184.88 441.95,180.24" stroke="#777" stroke-width="0.5" fill="#fff" stroke-linejoin="round" />
<polygon points="443.38,179.53 448.8,182.51 446.7,177.87" stroke="#777" stroke-width="0.5" fill="#ececec" stroke-linejoin="round" />
<polygon points="452.12,180.84 448.8,182.51 446.7,177.87" stroke="#777" stroke-width="0.5" fill="#fff" stroke-linejoin="round" />
<polygon points="448.12,177.16 453.55,180.13 451.45,175.49" stroke="#777" stroke-width="0.5" fill="#ececec" stroke-linejoin="round" />
<polygon points="456.88,178.47 453.55,180.13 451.45,175.49" stroke="#777" stroke-width="0.5" fill="#fff" stroke-linejoin="round" />
<polygon points="441.62,188.53 447.05,191.51 444.95,186.87" stroke="#777" stroke-width="0.5" fill="#ececec" stroke-linejoin="round" />
<polygon points="450.38,189.84 447.05,191.51 444.95,186.87" stroke="#777" stroke-width="0.5" fill="#fff" stroke-linejoin="round" />
<polygon points="446.38,186.16 451.8,189.13 449.7,184.49" stroke="#777" stroke-width="0.5" fill="#ececec" stroke-linejoin="round" />
<polygon points="455.12,187.47 451.8,189.13 449.7,184.49" stroke="#777" stroke-width="0.5" fill="#fff" stroke-linejoin="round" />
<polygon points="451.12,183.78 456.55,186.76 454.45,182.12" stroke="#777" stroke-width="0.5" fill="#ececec" stroke-linejoin="round" />
<polygon points="459.88,185.09 456.55,186.76 454.45,182.12" stroke="#777" stroke-width="0.5" fill="#fff" stroke-linejoin="round" />
<polygon points="455.88,181.41 461.3,184.38 459.2,179.74" stroke="#777" stroke-width="0.5" fill="#ececec" stroke-linejoin="round" />
<polygon points="464.62,182.72 461.3,184.38 459.2,179.74" stroke="#777" stroke-width="0.5" fill="#fff" stroke-linejoin="round" />
<line x1="408.75" y1="171.25" x2="427.75" y2="161.75" stroke="#3a3a3a" stroke-width="1.05" />
<line x1="416.5" y1="175.5" x2="435.5" y2="166" stroke="#3a3a3a" stroke-width="1.05" />
<line x1="424.25" y1="179.75" x2="443.25" y2="170.25" stroke="#3a3a3a" stroke-width="1.05" />
<line x1="432" y1="184" x2="451" y2="174.5" stroke="#3a3a3a" stroke-width="1.05" />
<line x1="439.75" y1="188.25" x2="458.75" y2="178.75" stroke="#3a3a3a" stroke-width="1.05" />
<line x1="405.75" y1="164.62" x2="452.25" y2="190.12" stroke="#3a3a3a" stroke-width="1.05" />
<line x1="410.5" y1="162.25" x2="457" y2="187.75" stroke="#3a3a3a" stroke-width="1.05" />
<line x1="415.25" y1="159.88" x2="461.75" y2="185.38" stroke="#3a3a3a" stroke-width="1.05" />
<polyline points="402.55,170.85 407.2,173.4" stroke="#555" stroke-width="0.6" fill="none" stroke-linejoin="round" />
<polyline points="410.3,175.1 414.95,177.65" stroke="#555" stroke-width="0.6" fill="none" stroke-linejoin="round" />
<polyline points="418.05,179.35 422.7,181.9" stroke="#555" stroke-width="0.6" fill="none" stroke-linejoin="round" />
<polyline points="425.8,183.6 430.45,186.15" stroke="#555" stroke-width="0.6" fill="none" stroke-linejoin="round" />
<polyline points="433.55,187.85 438.2,190.4" stroke="#555" stroke-width="0.6" fill="none" stroke-linejoin="round" />
<polyline points="441.3,192.1 445.95,194.65" stroke="#555" stroke-width="0.6" fill="none" stroke-linejoin="round" />
<polyline points="431.95,165.65 432.95,163.35 435.45,163.95 435.95,165.95" stroke="#333" stroke-width="0.8" fill="none" stroke-linejoin="round" />
<polyline points="445.9,173.3 446.9,171 449.4,171.6 449.9,173.6" stroke="#333" stroke-width="0.8" fill="none" stroke-linejoin="round" />
<polyline points="459.85,180.95 460.85,178.65 463.35,179.25 463.85,181.25" stroke="#333" stroke-width="0.8" fill="none" stroke-linejoin="round" />
<polyline points="466.5,183 467.3,186 448,196" stroke="#333" stroke-width="0.8" fill="none" stroke-linejoin="round" />
<polygon points="277.6,184.5 282,173.1 303.9,163.15 409.75,223 410.6,226.5 387,242.25 383.5,244 348.5,224.75 348.5,220.4 318.75,204.6 315.25,204.6 313.5,203.75" stroke="#333" stroke-width="0.9" fill="#fff" stroke-linejoin="round" />
<polygon points="283,173.5 304,163.7 409,222.8 388,233.5" stroke="#666" stroke-width="0.6" fill="#fff" stroke-linejoin="round" />
<polygon points="293,178 309,169 405,221 391,230" stroke="#999" stroke-width="0.5" fill="#f2f2f2" stroke-linejoin="round" />
<line x1="327.05" y1="193.48" x2="326.04" y2="195.45" stroke="#777" stroke-width="0.6" />
<line x1="329.72" y1="196.49" x2="329.67" y2="198.61" stroke="#aaa" stroke-width="0.6" />
<line x1="337.63" y1="197.58" x2="337.28" y2="199.73" stroke="#777" stroke-width="0.6" />
<line x1="394.75" y1="221.59" x2="394.18" y2="223.7" stroke="#aaa" stroke-width="0.6" />
<line x1="301.38" y1="178.59" x2="300.95" y2="180.95" stroke="#aaa" stroke-width="0.6" />
<line x1="308.99" y1="184.44" x2="311.51" y2="188.11" stroke="#888" stroke-width="0.6" />
<line x1="312.12" y1="178.22" x2="314.03" y2="179.49" stroke="#777" stroke-width="0.6" />
<line x1="357.51" y1="201.78" x2="357.55" y2="205.37" stroke="#999" stroke-width="0.6" />
<line x1="352.54" y1="193.9" x2="353.7" y2="196.39" stroke="#888" stroke-width="0.6" />
<line x1="365.07" y1="212.15" x2="364.24" y2="215.63" stroke="#999" stroke-width="0.6" />
<line x1="368.67" y1="213.34" x2="366.32" y2="213.49" stroke="#aaa" stroke-width="0.6" />
<line x1="314.53" y1="183.5" x2="311.33" y2="184.18" stroke="#777" stroke-width="0.6" />
<line x1="376.22" y1="212.6" x2="373.5" y2="213.72" stroke="#999" stroke-width="0.6" />
<line x1="359.84" y1="203.69" x2="360.46" y2="208.17" stroke="#999" stroke-width="0.6" />
<line x1="349.46" y1="196.68" x2="353.49" y2="197.45" stroke="#aaa" stroke-width="0.6" />
<line x1="326.84" y1="189.33" x2="325.8" y2="191.11" stroke="#aaa" stroke-width="0.6" />
<line x1="337.18" y1="190.99" x2="337.23" y2="193.64" stroke="#999" stroke-width="0.6" />
<line x1="309.57" y1="182.5" x2="311.12" y2="186.84" stroke="#777" stroke-width="0.6" />
<line x1="315.6" y1="183.04" x2="317.15" y2="184.88" stroke="#aaa" stroke-width="0.6" />
<line x1="381.64" y1="220.42" x2="382.45" y2="223.39" stroke="#aaa" stroke-width="0.6" />
<line x1="388.98" y1="226.44" x2="391.28" y2="227.86" stroke="#888" stroke-width="0.6" />
<line x1="307.46" y1="171.15" x2="309.85" y2="172.69" stroke="#888" stroke-width="0.6" />
<line x1="339.66" y1="196.46" x2="338.65" y2="201.22" stroke="#777" stroke-width="0.6" />
<line x1="350.89" y1="193.91" x2="346.9" y2="194.52" stroke="#aaa" stroke-width="0.6" />
<line x1="338" y1="195.15" x2="338.19" y2="198.35" stroke="#888" stroke-width="0.6" />
<line x1="302.91" y1="179.62" x2="305.55" y2="181.1" stroke="#777" stroke-width="0.6" />
<line x1="311.99" y1="178.22" x2="311.43" y2="183.04" stroke="#777" stroke-width="0.6" />
<line x1="303.19" y1="179.78" x2="304.67" y2="183.4" stroke="#999" stroke-width="0.6" />
<line x1="359.04" y1="205.05" x2="362.28" y2="206.28" stroke="#aaa" stroke-width="0.6" />
<line x1="344.77" y1="200.17" x2="348.59" y2="202.03" stroke="#999" stroke-width="0.6" />
<line x1="350.32" y1="196.66" x2="350.18" y2="199.27" stroke="#999" stroke-width="0.6" />
<line x1="315.9" y1="180.73" x2="319.47" y2="181.04" stroke="#777" stroke-width="0.6" />
<line x1="365.04" y1="211.85" x2="366.06" y2="214.14" stroke="#888" stroke-width="0.6" />
<line x1="356.83" y1="198.68" x2="358.19" y2="200.98" stroke="#888" stroke-width="0.6" />
<line x1="383.77" y1="212.55" x2="381.94" y2="214.51" stroke="#aaa" stroke-width="0.6" />
<line x1="328.29" y1="196.23" x2="331.12" y2="196.48" stroke="#999" stroke-width="0.6" />
<line x1="321.43" y1="182.62" x2="323.5" y2="186.53" stroke="#999" stroke-width="0.6" />
<line x1="391.73" y1="224.38" x2="393.79" y2="226.09" stroke="#888" stroke-width="0.6" />
<line x1="333.49" y1="191.22" x2="329.67" y2="191.4" stroke="#777" stroke-width="0.6" />
<line x1="349.81" y1="197.06" x2="347.99" y2="198.38" stroke="#777" stroke-width="0.6" />
<line x1="393.25" y1="218.27" x2="390.82" y2="220.69" stroke="#888" stroke-width="0.6" />
<line x1="345.15" y1="194.84" x2="349.81" y2="196.14" stroke="#aaa" stroke-width="0.6" />
<line x1="349.59" y1="195.39" x2="351.98" y2="196.05" stroke="#888" stroke-width="0.6" />
<line x1="305.12" y1="174.12" x2="305.55" y2="178.06" stroke="#aaa" stroke-width="0.6" />
<line x1="362.56" y1="209.02" x2="362.19" y2="211.39" stroke="#777" stroke-width="0.6" />
<line x1="381.8" y1="213.03" x2="385.83" y2="214.38" stroke="#888" stroke-width="0.6" />
<line x1="348.7" y1="192.71" x2="346.45" y2="194.08" stroke="#999" stroke-width="0.6" />
<line x1="321.66" y1="184.55" x2="319.46" y2="186.57" stroke="#aaa" stroke-width="0.6" />
<line x1="375.62" y1="220.83" x2="372.41" y2="224.25" stroke="#aaa" stroke-width="0.6" />
<line x1="386.66" y1="213.11" x2="388.91" y2="214.09" stroke="#777" stroke-width="0.6" />
<line x1="389.6" y1="216.4" x2="388.16" y2="220.48" stroke="#888" stroke-width="0.6" />
<line x1="317.3" y1="182.7" x2="314.92" y2="185.49" stroke="#999" stroke-width="0.6" />
<line x1="367.64" y1="208.7" x2="367.87" y2="213.03" stroke="#777" stroke-width="0.6" />
<line x1="321.65" y1="188.43" x2="318.99" y2="190.74" stroke="#777" stroke-width="0.6" />
<line x1="380.69" y1="209.31" x2="381.37" y2="213.08" stroke="#888" stroke-width="0.6" />
<line x1="367.5" y1="209.95" x2="367.14" y2="213.37" stroke="#888" stroke-width="0.6" />
<line x1="374.32" y1="206.47" x2="371.59" y2="206.97" stroke="#888" stroke-width="0.6" />
<line x1="377.28" y1="220.45" x2="380.37" y2="221.69" stroke="#777" stroke-width="0.6" />
<line x1="365.05" y1="209.05" x2="367.33" y2="210.85" stroke="#777" stroke-width="0.6" />
<line x1="383.1" y1="223.26" x2="380.6" y2="226.35" stroke="#888" stroke-width="0.6" />
<line x1="319.93" y1="189.93" x2="320.36" y2="194.14" stroke="#777" stroke-width="0.6" />
<line x1="339.44" y1="194.32" x2="334.94" y2="194.47" stroke="#888" stroke-width="0.6" />
<line x1="376.72" y1="205.78" x2="377.69" y2="208.9" stroke="#999" stroke-width="0.6" />
<line x1="335.31" y1="188.06" x2="338.97" y2="188.29" stroke="#aaa" stroke-width="0.6" />
<line x1="367.52" y1="211.1" x2="367.36" y2="213.99" stroke="#777" stroke-width="0.6" />
<line x1="318.55" y1="175.6" x2="322.04" y2="178.65" stroke="#777" stroke-width="0.6" />
<line x1="319.64" y1="191.45" x2="317.48" y2="193.25" stroke="#888" stroke-width="0.6" />
<line x1="385.54" y1="212.98" x2="383" y2="217.1" stroke="#aaa" stroke-width="0.6" />
<line x1="322.07" y1="177.49" x2="321.17" y2="181.5" stroke="#777" stroke-width="0.6" />
<line x1="332.7" y1="185.31" x2="336.63" y2="187.87" stroke="#999" stroke-width="0.6" />
<line x1="393.92" y1="221.08" x2="392.09" y2="222.4" stroke="#888" stroke-width="0.6" />
<line x1="313.22" y1="173.7" x2="313.66" y2="176.69" stroke="#aaa" stroke-width="0.6" />
<line x1="387.6" y1="223.78" x2="390.89" y2="225.19" stroke="#888" stroke-width="0.6" />
<line x1="398.63" y1="218.06" x2="400.36" y2="219.92" stroke="#999" stroke-width="0.6" />
<line x1="362.44" y1="205.91" x2="365.1" y2="207.92" stroke="#888" stroke-width="0.6" />
<line x1="331.94" y1="184.83" x2="329.82" y2="184.87" stroke="#777" stroke-width="0.6" />
<line x1="372.85" y1="211.16" x2="375.69" y2="213.08" stroke="#aaa" stroke-width="0.6" />
<line x1="316.34" y1="176.16" x2="317.08" y2="179.56" stroke="#aaa" stroke-width="0.6" />
<line x1="392.42" y1="225.69" x2="394.52" y2="227.37" stroke="#888" stroke-width="0.6" />
<line x1="384.7" y1="214.92" x2="383.36" y2="217.84" stroke="#999" stroke-width="0.6" />
<line x1="400.97" y1="221.52" x2="404.85" y2="221.7" stroke="#999" stroke-width="0.6" />
<line x1="336.05" y1="199.9" x2="334.49" y2="202.63" stroke="#999" stroke-width="0.6" />
<line x1="361.93" y1="202.9" x2="364.46" y2="203.26" stroke="#999" stroke-width="0.6" />
<line x1="340.67" y1="198.81" x2="335.79" y2="199.4" stroke="#999" stroke-width="0.6" />
<line x1="331.93" y1="182.02" x2="333.66" y2="184.56" stroke="#777" stroke-width="0.6" />
<line x1="327.15" y1="194.68" x2="329.69" y2="197.73" stroke="#888" stroke-width="0.6" />
<line x1="342.54" y1="204.2" x2="344.07" y2="205.88" stroke="#aaa" stroke-width="0.6" />
<line x1="356.35" y1="204.97" x2="358.64" y2="208.11" stroke="#777" stroke-width="0.6" />
<line x1="358.23" y1="203.69" x2="355.42" y2="206.49" stroke="#aaa" stroke-width="0.6" />
<line x1="378.33" y1="211.26" x2="378.38" y2="214.11" stroke="#888" stroke-width="0.6" />
<line x1="310.58" y1="172.76" x2="306.92" y2="174.05" stroke="#888" stroke-width="0.6" />
<line x1="392.84" y1="218.54" x2="391.9" y2="222.87" stroke="#777" stroke-width="0.6" />
<line x1="382.37" y1="215.72" x2="378.55" y2="217.05" stroke="#888" stroke-width="0.6" />
<line x1="302" y1="182.05" x2="299.96" y2="186.48" stroke="#aaa" stroke-width="0.6" />
<line x1="382.91" y1="216.44" x2="381.4" y2="220.01" stroke="#888" stroke-width="0.6" />
<line x1="341" y1="203.41" x2="337.58" y2="205.93" stroke="#777" stroke-width="0.6" />
<line x1="358.58" y1="211.69" x2="356.71" y2="213.72" stroke="#777" stroke-width="0.6" />
<line x1="379.28" y1="219.89" x2="377.34" y2="221.75" stroke="#aaa" stroke-width="0.6" />
<line x1="347.15" y1="200.24" x2="347.42" y2="204.28" stroke="#777" stroke-width="0.6" />
<line x1="362.95" y1="204.3" x2="365.32" y2="204.89" stroke="#999" stroke-width="0.6" />
<line x1="367.03" y1="205.64" x2="366.14" y2="207.87" stroke="#aaa" stroke-width="0.6" />
<line x1="303.21" y1="178.74" x2="301.12" y2="182.23" stroke="#aaa" stroke-width="0.6" />
<line x1="329.47" y1="188.48" x2="329.84" y2="191.85" stroke="#777" stroke-width="0.6" />
<line x1="398.04" y1="224.71" x2="399.3" y2="226.58" stroke="#aaa" stroke-width="0.6" />
<line x1="302.04" y1="174.78" x2="297.9" y2="177.41" stroke="#aaa" stroke-width="0.6" />
<line x1="395.83" y1="226.2" x2="391.2" y2="227.45" stroke="#777" stroke-width="0.6" />
<line x1="352.09" y1="206.96" x2="351.72" y2="211.81" stroke="#888" stroke-width="0.6" />
<line x1="361.47" y1="203.69" x2="362.97" y2="205.49" stroke="#999" stroke-width="0.6" />
<line x1="329.62" y1="181.95" x2="329.71" y2="184.03" stroke="#777" stroke-width="0.6" />
<line x1="395.71" y1="221.26" x2="396.93" y2="225.26" stroke="#aaa" stroke-width="0.6" />
<line x1="331.55" y1="193.04" x2="329.79" y2="194.01" stroke="#999" stroke-width="0.6" />
<line x1="376.95" y1="220.55" x2="372.92" y2="221.5" stroke="#999" stroke-width="0.6" />
<line x1="318.82" y1="190.58" x2="320.38" y2="194.92" stroke="#777" stroke-width="0.6" />
<line x1="334.89" y1="192.9" x2="336.28" y2="194.54" stroke="#777" stroke-width="0.6" />
<line x1="308.58" y1="174.73" x2="307.58" y2="176.96" stroke="#999" stroke-width="0.6" />
<line x1="340.53" y1="197.84" x2="337.23" y2="200.69" stroke="#aaa" stroke-width="0.6" />
<line x1="391.21" y1="216.67" x2="389.32" y2="221.02" stroke="#888" stroke-width="0.6" />
<line x1="364.24" y1="214.97" x2="362" y2="217.47" stroke="#888" stroke-width="0.6" />
<line x1="360.37" y1="208.94" x2="365.09" y2="209.67" stroke="#888" stroke-width="0.6" />
<line x1="316.23" y1="183.15" x2="317.98" y2="185.29" stroke="#999" stroke-width="0.6" />
<line x1="336.43" y1="196.97" x2="336.64" y2="200.98" stroke="#777" stroke-width="0.6" />
<line x1="311.93" y1="185.25" x2="315.68" y2="188.11" stroke="#aaa" stroke-width="0.6" />
<line x1="353.69" y1="202.54" x2="355.83" y2="206.24" stroke="#aaa" stroke-width="0.6" />
<line x1="309.71" y1="183.53" x2="312.61" y2="184.38" stroke="#777" stroke-width="0.6" />
<line x1="329.95" y1="191.29" x2="327.8" y2="192.76" stroke="#777" stroke-width="0.6" />
<line x1="372.45" y1="213.27" x2="373.41" y2="216.71" stroke="#aaa" stroke-width="0.6" />
<line x1="331.11" y1="185.28" x2="331.13" y2="189.01" stroke="#999" stroke-width="0.6" />
<line x1="313.26" y1="180.01" x2="311.45" y2="184.23" stroke="#888" stroke-width="0.6" />
<line x1="316.26" y1="174.74" x2="317.65" y2="178.43" stroke="#aaa" stroke-width="0.6" />
<line x1="398.45" y1="219.97" x2="396.54" y2="220.77" stroke="#777" stroke-width="0.6" />
<line x1="346.24" y1="193.24" x2="342.23" y2="196.07" stroke="#aaa" stroke-width="0.6" />
<line x1="299.28" y1="174.49" x2="294.92" y2="175.51" stroke="#aaa" stroke-width="0.6" />
<line x1="391.77" y1="226.32" x2="394.09" y2="227.15" stroke="#777" stroke-width="0.6" />
<line x1="395.45" y1="220.46" x2="393.54" y2="224.3" stroke="#aaa" stroke-width="0.6" />
<line x1="313.63" y1="175.43" x2="316" y2="175.44" stroke="#777" stroke-width="0.6" />
<line x1="360.73" y1="208.83" x2="363.26" y2="209.91" stroke="#aaa" stroke-width="0.6" />
<line x1="363.1" y1="213.32" x2="366.58" y2="214.1" stroke="#888" stroke-width="0.6" />
<line x1="334.44" y1="196.17" x2="333.8" y2="198.1" stroke="#999" stroke-width="0.6" />
<line x1="394.55" y1="227.3" x2="397.01" y2="231.09" stroke="#888" stroke-width="0.6" />
<line x1="343.11" y1="200.6" x2="346.6" y2="204.02" stroke="#999" stroke-width="0.6" />
<line x1="301.5" y1="179.13" x2="297.82" y2="180.52" stroke="#777" stroke-width="0.6" />
<line x1="328.55" y1="185.37" x2="325.94" y2="186" stroke="#777" stroke-width="0.6" />
<line x1="371.68" y1="207.72" x2="373.02" y2="210.61" stroke="#777" stroke-width="0.6" />
<line x1="381.76" y1="212.8" x2="381.72" y2="215.41" stroke="#888" stroke-width="0.6" />
<line x1="336.16" y1="186.83" x2="338.15" y2="188.6" stroke="#999" stroke-width="0.6" />
<line x1="313.52" y1="178.06" x2="311.93" y2="182.47" stroke="#aaa" stroke-width="0.6" />
<line x1="343.96" y1="193.7" x2="341.55" y2="194.09" stroke="#aaa" stroke-width="0.6" />
<line x1="298.7" y1="180.61" x2="297.74" y2="183.71" stroke="#777" stroke-width="0.6" />
<line x1="318.07" y1="183.53" x2="316.25" y2="185.84" stroke="#777" stroke-width="0.6" />
<line x1="403.8" y1="221.49" x2="405.11" y2="223.68" stroke="#aaa" stroke-width="0.6" />
<line x1="306.71" y1="173.68" x2="307.88" y2="176.58" stroke="#999" stroke-width="0.6" />
<line x1="338.01" y1="200.03" x2="340.18" y2="200.57" stroke="#aaa" stroke-width="0.6" />
<line x1="388.38" y1="226.57" x2="385.78" y2="226.87" stroke="#999" stroke-width="0.6" />
<line x1="372.8" y1="215.2" x2="370.95" y2="216.5" stroke="#aaa" stroke-width="0.6" />
<line x1="320.63" y1="183.3" x2="321.13" y2="186.23" stroke="#aaa" stroke-width="0.6" />
<line x1="302.52" y1="175.88" x2="298.95" y2="178.27" stroke="#777" stroke-width="0.6" />
<line x1="336.88" y1="193.35" x2="335.1" y2="194.62" stroke="#888" stroke-width="0.6" />
<line x1="379.27" y1="208.77" x2="380.63" y2="211.24" stroke="#777" stroke-width="0.6" />
<line x1="329.78" y1="185.18" x2="331.32" y2="187.55" stroke="#777" stroke-width="0.6" />
<line x1="372.38" y1="210.16" x2="368.42" y2="212.94" stroke="#777" stroke-width="0.6" />
<line x1="299.11" y1="177.16" x2="299.49" y2="182.01" stroke="#aaa" stroke-width="0.6" />
<line x1="383.57" y1="210.85" x2="381.57" y2="212.17" stroke="#aaa" stroke-width="0.6" />
<line x1="323.48" y1="180.29" x2="320.43" y2="183.56" stroke="#888" stroke-width="0.6" />
<line x1="357.36" y1="206.63" x2="359.01" y2="209.23" stroke="#777" stroke-width="0.6" />
<line x1="349.03" y1="201.09" x2="351.86" y2="202.65" stroke="#777" stroke-width="0.6" />
<line x1="348.39" y1="198.15" x2="351.27" y2="199.73" stroke="#777" stroke-width="0.6" />
<line x1="393.52" y1="226.98" x2="395.73" y2="227.58" stroke="#aaa" stroke-width="0.6" />
<line x1="403.5" y1="220.65" x2="405.55" y2="221.89" stroke="#aaa" stroke-width="0.6" />
<line x1="363.74" y1="204.19" x2="360.55" y2="207.42" stroke="#777" stroke-width="0.6" />
<line x1="373.66" y1="215.9" x2="375.45" y2="218.06" stroke="#999" stroke-width="0.6" />
<line x1="368.22" y1="214.59" x2="370.17" y2="216.51" stroke="#888" stroke-width="0.6" />
<line x1="334.58" y1="184.46" x2="336.4" y2="185.69" stroke="#999" stroke-width="0.6" />
<line x1="397.37" y1="225.04" x2="400.68" y2="227.98" stroke="#aaa" stroke-width="0.6" />
<line x1="391.55" y1="228.61" x2="391.9" y2="233.05" stroke="#aaa" stroke-width="0.6" />
<line x1="383.18" y1="225.18" x2="384.6" y2="227.06" stroke="#888" stroke-width="0.6" />
<line x1="364.1" y1="201.77" x2="365.92" y2="203.05" stroke="#888" stroke-width="0.6" />
<line x1="340.94" y1="199.01" x2="337.23" y2="202.12" stroke="#777" stroke-width="0.6" />
<line x1="365.92" y1="204.76" x2="366.88" y2="206.64" stroke="#999" stroke-width="0.6" />
<line x1="310.06" y1="183.52" x2="312.7" y2="186.24" stroke="#888" stroke-width="0.6" />
<line x1="384.61" y1="213" x2="385.49" y2="215.99" stroke="#999" stroke-width="0.6" />
<line x1="301.14" y1="181.77" x2="301.18" y2="185.22" stroke="#aaa" stroke-width="0.6" />
<line x1="309.18" y1="179.71" x2="308.57" y2="183.58" stroke="#777" stroke-width="0.6" />
<line x1="362.84" y1="208.38" x2="366.11" y2="212.12" stroke="#999" stroke-width="0.6" />
<line x1="334.73" y1="199.27" x2="331.49" y2="202.6" stroke="#aaa" stroke-width="0.6" />
<line x1="346.92" y1="191.88" x2="343.83" y2="191.91" stroke="#888" stroke-width="0.6" />
<line x1="337.45" y1="194.67" x2="334.21" y2="195.27" stroke="#888" stroke-width="0.6" />
<line x1="346.96" y1="192.65" x2="348.31" y2="197.1" stroke="#aaa" stroke-width="0.6" />
<line x1="370.64" y1="217.03" x2="373.03" y2="217.42" stroke="#aaa" stroke-width="0.6" />
<line x1="311.57" y1="177.03" x2="312.96" y2="180.26" stroke="#888" stroke-width="0.6" />
<line x1="329.58" y1="194.64" x2="331.46" y2="195.77" stroke="#aaa" stroke-width="0.6" />
<line x1="353.16" y1="196.26" x2="350.58" y2="196.53" stroke="#888" stroke-width="0.6" />
<line x1="375.68" y1="221.15" x2="372.84" y2="221.94" stroke="#aaa" stroke-width="0.6" />
<line x1="312.73" y1="176.08" x2="310.13" y2="179.96" stroke="#888" stroke-width="0.6" />
<line x1="362.94" y1="204.76" x2="365.73" y2="206.74" stroke="#888" stroke-width="0.6" />
<line x1="312.03" y1="171.72" x2="314.74" y2="173.17" stroke="#888" stroke-width="0.6" />
<line x1="328.45" y1="184.32" x2="326.44" y2="185" stroke="#777" stroke-width="0.6" />
<line x1="363.21" y1="209.81" x2="364.35" y2="212.98" stroke="#999" stroke-width="0.6" />
<line x1="361.14" y1="208.98" x2="363.38" y2="211.21" stroke="#999" stroke-width="0.6" />
<line x1="343.41" y1="197.29" x2="347.25" y2="197.57" stroke="#aaa" stroke-width="0.6" />
<line x1="345.33" y1="198.17" x2="343.71" y2="202.32" stroke="#888" stroke-width="0.6" />
<line x1="378.19" y1="216.54" x2="381.2" y2="217.19" stroke="#999" stroke-width="0.6" />
<line x1="308.98" y1="178.79" x2="308.91" y2="180.91" stroke="#888" stroke-width="0.6" />
<line x1="312.67" y1="175.68" x2="309.97" y2="177.95" stroke="#777" stroke-width="0.6" />
<line x1="379.67" y1="209.05" x2="377.66" y2="212.91" stroke="#777" stroke-width="0.6" />
<line x1="391.22" y1="213.6" x2="388.26" y2="216.92" stroke="#888" stroke-width="0.6" />
<line x1="319.84" y1="176.87" x2="322.58" y2="180.36" stroke="#888" stroke-width="0.6" />
<line x1="370.79" y1="207.19" x2="374.25" y2="210.07" stroke="#999" stroke-width="0.6" />
<line x1="322.62" y1="178.19" x2="325.51" y2="181.57" stroke="#888" stroke-width="0.6" />
<line x1="332.85" y1="182.54" x2="333.08" y2="186.31" stroke="#888" stroke-width="0.6" />
<line x1="324.84" y1="194.26" x2="326.92" y2="195.61" stroke="#999" stroke-width="0.6" />
<line x1="372.72" y1="205.28" x2="376.47" y2="207.49" stroke="#777" stroke-width="0.6" />
<line x1="368.99" y1="217.51" x2="364.57" y2="219.62" stroke="#aaa" stroke-width="0.6" />
<line x1="356.04" y1="201.65" x2="353.89" y2="202.48" stroke="#aaa" stroke-width="0.6" />
<line x1="370.71" y1="213.03" x2="371.89" y2="215.9" stroke="#888" stroke-width="0.6" />
<line x1="339.99" y1="189.85" x2="340.44" y2="192.34" stroke="#777" stroke-width="0.6" />
<line x1="330" y1="188.77" x2="332.75" y2="192.82" stroke="#999" stroke-width="0.6" />
<line x1="375.7" y1="209.39" x2="377.9" y2="211.24" stroke="#aaa" stroke-width="0.6" />
<line x1="339.45" y1="196.44" x2="342.88" y2="196.96" stroke="#777" stroke-width="0.6" />
<line x1="295.23" y1="179.14" x2="296.25" y2="181.22" stroke="#999" stroke-width="0.6" />
<line x1="351.51" y1="202.05" x2="352.92" y2="204" stroke="#999" stroke-width="0.6" />
<line x1="361.15" y1="206.17" x2="365.54" y2="208.15" stroke="#888" stroke-width="0.6" />
<line x1="368.91" y1="210.73" x2="371.29" y2="211.21" stroke="#999" stroke-width="0.6" />
<line x1="336.41" y1="196.52" x2="340.34" y2="196.67" stroke="#999" stroke-width="0.6" />
<line x1="359.85" y1="203.72" x2="358.73" y2="207.09" stroke="#aaa" stroke-width="0.6" />
<line x1="331.36" y1="182.79" x2="334.92" y2="183.29" stroke="#aaa" stroke-width="0.6" />
<line x1="313.68" y1="186.22" x2="311.46" y2="186.85" stroke="#888" stroke-width="0.6" />
<line x1="310.08" y1="183.6" x2="308.9" y2="186.92" stroke="#aaa" stroke-width="0.6" />
<line x1="375.22" y1="218.72" x2="376.86" y2="221.12" stroke="#777" stroke-width="0.6" />
<line x1="400.57" y1="223.17" x2="400.82" y2="226.78" stroke="#aaa" stroke-width="0.6" />
<line x1="386.42" y1="215.2" x2="386.88" y2="219.4" stroke="#aaa" stroke-width="0.6" />
<line x1="325.78" y1="178.15" x2="328.46" y2="181.03" stroke="#777" stroke-width="0.6" />
<line x1="337.37" y1="188.7" x2="334.76" y2="192.41" stroke="#777" stroke-width="0.6" />
<line x1="327.63" y1="186.85" x2="328.5" y2="191.12" stroke="#999" stroke-width="0.6" />
<line x1="336.28" y1="185.01" x2="334.15" y2="185.75" stroke="#777" stroke-width="0.6" />
<line x1="323.81" y1="178.69" x2="321.51" y2="179.93" stroke="#888" stroke-width="0.6" />
<line x1="370.86" y1="213.86" x2="368.09" y2="214.96" stroke="#888" stroke-width="0.6" />
<line x1="343.17" y1="190.06" x2="338.37" y2="191.27" stroke="#aaa" stroke-width="0.6" />
<line x1="347.26" y1="197.78" x2="349.34" y2="197.82" stroke="#888" stroke-width="0.6" />
<line x1="353.47" y1="204.89" x2="356.51" y2="207.28" stroke="#777" stroke-width="0.6" />
<line x1="350.94" y1="205.85" x2="353.26" y2="206.09" stroke="#888" stroke-width="0.6" />
<line x1="328.97" y1="194.66" x2="331.08" y2="194.85" stroke="#777" stroke-width="0.6" />
<line x1="372.07" y1="207.61" x2="375.76" y2="208.39" stroke="#999" stroke-width="0.6" />
<line x1="327.43" y1="179.77" x2="327" y2="183.74" stroke="#aaa" stroke-width="0.6" />
<line x1="306.74" y1="181.72" x2="308.72" y2="182.44" stroke="#777" stroke-width="0.6" />
<line x1="382.92" y1="215.22" x2="384.34" y2="217.02" stroke="#777" stroke-width="0.6" />
<line x1="379.93" y1="213.37" x2="381.74" y2="215.77" stroke="#999" stroke-width="0.6" />
<line x1="299.15" y1="176.78" x2="301.76" y2="179.99" stroke="#999" stroke-width="0.6" />
<line x1="393.12" y1="218.41" x2="392.04" y2="221.67" stroke="#999" stroke-width="0.6" />
<line x1="354.05" y1="209.87" x2="354.94" y2="213.06" stroke="#777" stroke-width="0.6" />
<line x1="337.77" y1="189.69" x2="337.46" y2="192.32" stroke="#777" stroke-width="0.6" />
<line x1="353.57" y1="205.29" x2="354.28" y2="208.79" stroke="#999" stroke-width="0.6" />
<line x1="381.85" y1="208.83" x2="385.32" y2="208.88" stroke="#aaa" stroke-width="0.6" />
<line x1="373.19" y1="206.72" x2="369.43" y2="207.11" stroke="#999" stroke-width="0.6" />
<line x1="352" y1="206.63" x2="347.98" y2="209.27" stroke="#888" stroke-width="0.6" />
<line x1="343.48" y1="202.92" x2="342.55" y2="204.96" stroke="#777" stroke-width="0.6" />
<line x1="359.78" y1="207.45" x2="360.75" y2="210.48" stroke="#777" stroke-width="0.6" />
<line x1="344.16" y1="194.14" x2="345.3" y2="196.82" stroke="#aaa" stroke-width="0.6" />
<line x1="388.43" y1="220.35" x2="390.16" y2="224.67" stroke="#888" stroke-width="0.6" />
<line x1="387.29" y1="225.94" x2="386.11" y2="229.83" stroke="#777" stroke-width="0.6" />
<line x1="332.15" y1="193.18" x2="336.15" y2="195.3" stroke="#999" stroke-width="0.6" />
<line x1="316.49" y1="182.87" x2="313.66" y2="185.31" stroke="#888" stroke-width="0.6" />
<line x1="335.59" y1="189.59" x2="333.55" y2="192.46" stroke="#999" stroke-width="0.6" />
<line x1="333.37" y1="187.35" x2="331.2" y2="188.51" stroke="#888" stroke-width="0.6" />
<line x1="398.69" y1="222.18" x2="397.72" y2="225.07" stroke="#888" stroke-width="0.6" />
<line x1="328.06" y1="193.36" x2="323.88" y2="193.68" stroke="#777" stroke-width="0.6" />
<line x1="319.44" y1="180.64" x2="321.45" y2="182.05" stroke="#888" stroke-width="0.6" />
<line x1="381.47" y1="212.73" x2="381.99" y2="215.27" stroke="#777" stroke-width="0.6" />
<line x1="334.19" y1="184.63" x2="334.42" y2="186.66" stroke="#aaa" stroke-width="0.6" />
<line x1="368.27" y1="209.55" x2="366.9" y2="212.66" stroke="#888" stroke-width="0.6" />
<line x1="329.64" y1="184.73" x2="332.37" y2="184.78" stroke="#aaa" stroke-width="0.6" />
<line x1="370.29" y1="209.17" x2="368.26" y2="213.23" stroke="#888" stroke-width="0.6" />
<line x1="368.99" y1="207.57" x2="369.42" y2="210.47" stroke="#777" stroke-width="0.6" />
<line x1="384.13" y1="222.35" x2="385.41" y2="226.28" stroke="#888" stroke-width="0.6" />
<line x1="324.07" y1="187.19" x2="324.61" y2="191.02" stroke="#aaa" stroke-width="0.6" />
<line x1="353.68" y1="199" x2="349.37" y2="200.82" stroke="#999" stroke-width="0.6" />
<line x1="374.88" y1="214.97" x2="375.03" y2="219.89" stroke="#777" stroke-width="0.6" />
<line x1="321" y1="189.1" x2="317.95" y2="192.88" stroke="#888" stroke-width="0.6" />
<line x1="345.4" y1="204.09" x2="344.56" y2="207.61" stroke="#aaa" stroke-width="0.6" />
<line x1="352.77" y1="198.88" x2="349.71" y2="200.71" stroke="#aaa" stroke-width="0.6" />
<line x1="372.36" y1="212.48" x2="369.81" y2="212.56" stroke="#777" stroke-width="0.6" />
<line x1="373.38" y1="210.39" x2="372.23" y2="212.89" stroke="#aaa" stroke-width="0.6" />
<line x1="332.37" y1="198.66" x2="333.2" y2="201.82" stroke="#999" stroke-width="0.6" />
<line x1="351.48" y1="207.19" x2="353.33" y2="209.8" stroke="#888" stroke-width="0.6" />
<line x1="403.9" y1="221.05" x2="404.19" y2="223.53" stroke="#777" stroke-width="0.6" />
<line x1="381.46" y1="214.39" x2="381.82" y2="218.06" stroke="#888" stroke-width="0.6" />
<line x1="374.94" y1="219.04" x2="372.7" y2="222.94" stroke="#aaa" stroke-width="0.6" />
<line x1="343.31" y1="199.69" x2="342.95" y2="202.04" stroke="#aaa" stroke-width="0.6" />
<line x1="340.77" y1="188.79" x2="342.86" y2="191.12" stroke="#999" stroke-width="0.6" />
<line x1="398.85" y1="223" x2="399.11" y2="227.41" stroke="#999" stroke-width="0.6" />
<line x1="338.08" y1="190.73" x2="339.93" y2="193.64" stroke="#777" stroke-width="0.6" />
<line x1="362.93" y1="209.02" x2="358.48" y2="210.03" stroke="#777" stroke-width="0.6" />
<line x1="310.29" y1="177.35" x2="312.82" y2="181.47" stroke="#999" stroke-width="0.6" />
<line x1="355.27" y1="210.79" x2="360.12" y2="210.96" stroke="#999" stroke-width="0.6" />
<line x1="319.08" y1="190.09" x2="321.51" y2="191.26" stroke="#aaa" stroke-width="0.6" />
<line x1="329.29" y1="194.64" x2="325.11" y2="195.94" stroke="#888" stroke-width="0.6" />
<line x1="362.9" y1="203.5" x2="360.64" y2="203.67" stroke="#999" stroke-width="0.6" />
<line x1="323.15" y1="182.03" x2="322.75" y2="186.23" stroke="#aaa" stroke-width="0.6" />
<line x1="360.5" y1="211.85" x2="363.53" y2="213.04" stroke="#888" stroke-width="0.6" />
<line x1="347.77" y1="197.59" x2="348" y2="202.3" stroke="#aaa" stroke-width="0.6" />
<line x1="319.72" y1="189.34" x2="318.42" y2="193.34" stroke="#888" stroke-width="0.6" />
<line x1="382.1" y1="217.51" x2="381.32" y2="221.43" stroke="#aaa" stroke-width="0.6" />
<line x1="336.13" y1="193.73" x2="333.92" y2="194" stroke="#999" stroke-width="0.6" />
<line x1="355.76" y1="210.82" x2="354.39" y2="214.63" stroke="#999" stroke-width="0.6" />
<line x1="373.59" y1="219.2" x2="373.81" y2="223.47" stroke="#888" stroke-width="0.6" />
<line x1="307.76" y1="173.3" x2="306.61" y2="176.08" stroke="#999" stroke-width="0.6" />
<line x1="338.37" y1="188.74" x2="337.57" y2="193.41" stroke="#999" stroke-width="0.6" />
<line x1="342.04" y1="196.83" x2="341.28" y2="201.24" stroke="#999" stroke-width="0.6" />
<line x1="335.36" y1="192.03" x2="337.83" y2="196.32" stroke="#999" stroke-width="0.6" />
<line x1="397.75" y1="222.81" x2="395.37" y2="224.63" stroke="#999" stroke-width="0.6" />
<line x1="364.75" y1="213.94" x2="362.5" y2="214.13" stroke="#777" stroke-width="0.6" />
<line x1="340.52" y1="193.75" x2="341.6" y2="197.31" stroke="#aaa" stroke-width="0.6" />
<line x1="322.54" y1="193.57" x2="326.48" y2="196.24" stroke="#777" stroke-width="0.6" />
<line x1="383.45" y1="210.84" x2="382.12" y2="214.46" stroke="#777" stroke-width="0.6" />
<line x1="324.21" y1="183.05" x2="324.78" y2="187.3" stroke="#777" stroke-width="0.6" />
<line x1="370.79" y1="204.69" x2="371.35" y2="206.92" stroke="#777" stroke-width="0.6" />
<line x1="341.7" y1="189.78" x2="338.82" y2="192.07" stroke="#999" stroke-width="0.6" />
<line x1="380.16" y1="221.18" x2="382.21" y2="221.41" stroke="#777" stroke-width="0.6" />
<line x1="349.62" y1="199.18" x2="345.93" y2="201.45" stroke="#aaa" stroke-width="0.6" />
<line x1="363.02" y1="199.65" x2="363.36" y2="201.66" stroke="#aaa" stroke-width="0.6" />
<line x1="365.91" y1="199.94" x2="364.73" y2="202.11" stroke="#aaa" stroke-width="0.6" />
<line x1="348.02" y1="205.79" x2="348.43" y2="210.46" stroke="#777" stroke-width="0.6" />
<line x1="334.99" y1="200.12" x2="332.47" y2="204.39" stroke="#777" stroke-width="0.6" />
<line x1="316.28" y1="188.26" x2="316.52" y2="191.07" stroke="#888" stroke-width="0.6" />
<line x1="348.41" y1="194.74" x2="345.41" y2="195.49" stroke="#888" stroke-width="0.6" />
<line x1="365.74" y1="215.19" x2="364.12" y2="218.98" stroke="#aaa" stroke-width="0.6" />
<line x1="371.66" y1="204.81" x2="369.58" y2="205.39" stroke="#777" stroke-width="0.6" />
<line x1="294.35" y1="178.46" x2="292.32" y2="182.42" stroke="#777" stroke-width="0.6" />
<line x1="335.87" y1="195.41" x2="334.37" y2="200.05" stroke="#aaa" stroke-width="0.6" />
<line x1="357.35" y1="206.82" x2="353.22" y2="207.49" stroke="#aaa" stroke-width="0.6" />
<line x1="361.46" y1="211.89" x2="358.97" y2="213.73" stroke="#888" stroke-width="0.6" />
<line x1="360.87" y1="206.98" x2="362.4" y2="211.06" stroke="#999" stroke-width="0.6" />
<line x1="378.07" y1="213.7" x2="379.4" y2="215.43" stroke="#999" stroke-width="0.6" />
<line x1="388.57" y1="216.69" x2="391.02" y2="216.81" stroke="#999" stroke-width="0.6" />
<line x1="364.78" y1="199.62" x2="367.04" y2="201.82" stroke="#aaa" stroke-width="0.6" />
<line x1="365.23" y1="201.23" x2="362.89" y2="202.85" stroke="#777" stroke-width="0.6" />
<line x1="328.63" y1="192.31" x2="332.82" y2="194.57" stroke="#777" stroke-width="0.6" />
<line x1="323.44" y1="191.74" x2="318.76" y2="193.41" stroke="#888" stroke-width="0.6" />
<line x1="332.99" y1="184.58" x2="329.66" y2="186.89" stroke="#aaa" stroke-width="0.6" />
<line x1="328.29" y1="195.27" x2="327.56" y2="199.6" stroke="#888" stroke-width="0.6" />
<line x1="380.61" y1="212.46" x2="377.69" y2="212.62" stroke="#777" stroke-width="0.6" />
<line x1="366.23" y1="209.05" x2="368.43" y2="210.72" stroke="#777" stroke-width="0.6" />
<line x1="377.21" y1="215.03" x2="381.46" y2="216.23" stroke="#777" stroke-width="0.6" />
<line x1="324.82" y1="184.89" x2="320.41" y2="186.37" stroke="#999" stroke-width="0.6" />
<line x1="348.57" y1="197.48" x2="350.71" y2="198.92" stroke="#888" stroke-width="0.6" />
<line x1="376.14" y1="217.3" x2="375.4" y2="220.28" stroke="#888" stroke-width="0.6" />
<line x1="331.45" y1="182.5" x2="331.54" y2="187.1" stroke="#999" stroke-width="0.6" />
<line x1="366.61" y1="203.82" x2="369.95" y2="205.6" stroke="#999" stroke-width="0.6" />
<line x1="329.87" y1="187.12" x2="332.37" y2="187.89" stroke="#aaa" stroke-width="0.6" />
<line x1="353.66" y1="206.59" x2="350.9" y2="207.25" stroke="#777" stroke-width="0.6" />
<line x1="396.58" y1="220.31" x2="392.46" y2="222.95" stroke="#999" stroke-width="0.6" />
<line x1="380.54" y1="218.83" x2="377.4" y2="218.88" stroke="#777" stroke-width="0.6" />
<line x1="306.86" y1="175.64" x2="303.76" y2="176.97" stroke="#777" stroke-width="0.6" />
<line x1="386.7" y1="217.12" x2="382.71" y2="218.11" stroke="#777" stroke-width="0.6" />
<line x1="326.95" y1="186.29" x2="324.86" y2="190.7" stroke="#aaa" stroke-width="0.6" />
<line x1="324.19" y1="179.85" x2="325.25" y2="182.34" stroke="#888" stroke-width="0.6" />
<line x1="324.61" y1="178.48" x2="322.47" y2="178.88" stroke="#777" stroke-width="0.6" />
<line x1="375.72" y1="221.11" x2="372.49" y2="223.68" stroke="#aaa" stroke-width="0.6" />
<line x1="300.77" y1="179.6" x2="297.31" y2="182.95" stroke="#999" stroke-width="0.6" />
<line x1="357.34" y1="204.7" x2="355.77" y2="207.73" stroke="#999" stroke-width="0.6" />
<line x1="320.11" y1="190.25" x2="320.26" y2="192.75" stroke="#888" stroke-width="0.6" />
<line x1="385.29" y1="211.76" x2="382.08" y2="212.9" stroke="#888" stroke-width="0.6" />
<line x1="373.55" y1="218.13" x2="371.62" y2="219.25" stroke="#999" stroke-width="0.6" />
<line x1="382.08" y1="222.95" x2="382.46" y2="225.21" stroke="#aaa" stroke-width="0.6" />
<line x1="384.54" y1="216.14" x2="384.99" y2="219.13" stroke="#888" stroke-width="0.6" />
<line x1="349.25" y1="197.18" x2="351.65" y2="198.33" stroke="#777" stroke-width="0.6" />
<line x1="317.72" y1="183.31" x2="314.6" y2="184.44" stroke="#888" stroke-width="0.6" />
<line x1="325.48" y1="188.15" x2="327.96" y2="189.47" stroke="#999" stroke-width="0.6" />
<line x1="328.35" y1="193.88" x2="328.44" y2="196.84" stroke="#aaa" stroke-width="0.6" />
<line x1="319.62" y1="175.13" x2="324.23" y2="175.96" stroke="#888" stroke-width="0.6" />
<line x1="360.3" y1="199.6" x2="364.27" y2="201.16" stroke="#999" stroke-width="0.6" />
<line x1="339.3" y1="198.11" x2="341.29" y2="199.96" stroke="#aaa" stroke-width="0.6" />
<line x1="335.18" y1="184.98" x2="339.3" y2="185.74" stroke="#999" stroke-width="0.6" />
<line x1="317.2" y1="179.75" x2="317.84" y2="183.21" stroke="#888" stroke-width="0.6" />
<line x1="348.35" y1="193.93" x2="345.53" y2="194.43" stroke="#999" stroke-width="0.6" />
<line x1="349.45" y1="192.43" x2="352.33" y2="194.78" stroke="#888" stroke-width="0.6" />
<line x1="383.12" y1="217.16" x2="385.01" y2="218.83" stroke="#777" stroke-width="0.6" />
<line x1="386.99" y1="213.1" x2="384.15" y2="216.31" stroke="#888" stroke-width="0.6" />
<line x1="322.74" y1="183.2" x2="320.04" y2="186.72" stroke="#999" stroke-width="0.6" />
<line x1="313.85" y1="187.93" x2="311.7" y2="190.33" stroke="#777" stroke-width="0.6" />
<line x1="349.01" y1="201.83" x2="351.49" y2="204.86" stroke="#aaa" stroke-width="0.6" />
<line x1="308.33" y1="179.01" x2="306.57" y2="180.64" stroke="#999" stroke-width="0.6" />
<line x1="326.07" y1="185.85" x2="323.96" y2="185.94" stroke="#999" stroke-width="0.6" />
<line x1="362.08" y1="200.17" x2="364.18" y2="204.49" stroke="#777" stroke-width="0.6" />
<line x1="316.1" y1="177.85" x2="312.24" y2="180.35" stroke="#999" stroke-width="0.6" />
<line x1="381.89" y1="210.7" x2="380.78" y2="215.26" stroke="#999" stroke-width="0.6" />
<line x1="392.13" y1="214.8" x2="392.19" y2="218.34" stroke="#888" stroke-width="0.6" />
<line x1="310.47" y1="170.37" x2="312.41" y2="172.02" stroke="#777" stroke-width="0.6" />
<line x1="332.11" y1="189.22" x2="330.07" y2="189.51" stroke="#888" stroke-width="0.6" />
<line x1="331.58" y1="184.06" x2="330.17" y2="187.14" stroke="#888" stroke-width="0.6" />
<line x1="363.36" y1="213.61" x2="359.55" y2="215.27" stroke="#777" stroke-width="0.6" />
<line x1="326.94" y1="188.01" x2="325.8" y2="192.14" stroke="#777" stroke-width="0.6" />
<line x1="311.35" y1="180.7" x2="314.78" y2="182.27" stroke="#888" stroke-width="0.6" />
<line x1="316.42" y1="180.5" x2="314.68" y2="182.28" stroke="#777" stroke-width="0.6" />
<line x1="390.37" y1="223.26" x2="391.49" y2="227.63" stroke="#777" stroke-width="0.6" />
<line x1="346.09" y1="190.1" x2="343.78" y2="192.05" stroke="#888" stroke-width="0.6" />
<line x1="385.43" y1="215.17" x2="382.17" y2="216.91" stroke="#999" stroke-width="0.6" />
<line x1="385.05" y1="212.75" x2="388.56" y2="213.35" stroke="#999" stroke-width="0.6" />
<line x1="323.97" y1="187.16" x2="322.72" y2="189.99" stroke="#888" stroke-width="0.6" />
<line x1="306.66" y1="177.7" x2="306.63" y2="179.77" stroke="#888" stroke-width="0.6" />
<line x1="340.25" y1="196.3" x2="336.89" y2="196.33" stroke="#777" stroke-width="0.6" />
<line x1="385.03" y1="212.12" x2="383.06" y2="212.87" stroke="#999" stroke-width="0.6" />
<line x1="391.79" y1="220.12" x2="390.06" y2="224.19" stroke="#777" stroke-width="0.6" />
<line x1="357.58" y1="208.05" x2="357.37" y2="211.34" stroke="#777" stroke-width="0.6" />
<line x1="325.89" y1="190.2" x2="324.83" y2="192.31" stroke="#999" stroke-width="0.6" />
<line x1="310.62" y1="177.08" x2="307.38" y2="177.79" stroke="#888" stroke-width="0.6" />
<line x1="392.78" y1="215.79" x2="392.1" y2="218.53" stroke="#777" stroke-width="0.6" />
<line x1="369.73" y1="213.92" x2="370.32" y2="217.96" stroke="#888" stroke-width="0.6" />
<line x1="359.69" y1="210.01" x2="357.62" y2="212.68" stroke="#999" stroke-width="0.6" />
<line x1="359.98" y1="205.64" x2="361.51" y2="207.9" stroke="#888" stroke-width="0.6" />
<line x1="320.03" y1="182.9" x2="316.86" y2="183.21" stroke="#999" stroke-width="0.6" />
<line x1="323.83" y1="177.87" x2="325.39" y2="180.4" stroke="#999" stroke-width="0.6" />
<line x1="336.15" y1="183.92" x2="338.74" y2="187.38" stroke="#888" stroke-width="0.6" />
<line x1="356.04" y1="201.21" x2="357.86" y2="204.73" stroke="#aaa" stroke-width="0.6" />
<line x1="379.84" y1="218.2" x2="377.22" y2="220.61" stroke="#888" stroke-width="0.6" />
<line x1="343.98" y1="193.66" x2="346.33" y2="194.77" stroke="#999" stroke-width="0.6" />
<line x1="380.91" y1="216.04" x2="378.03" y2="219.14" stroke="#aaa" stroke-width="0.6" />
<line x1="329.08" y1="186.3" x2="327.42" y2="190.06" stroke="#aaa" stroke-width="0.6" />
<line x1="378.4" y1="223.24" x2="375.62" y2="225.77" stroke="#aaa" stroke-width="0.6" />
<line x1="347.05" y1="189.73" x2="351.11" y2="191.79" stroke="#999" stroke-width="0.6" />
<line x1="387.19" y1="217.92" x2="388.43" y2="221.04" stroke="#aaa" stroke-width="0.6" />
<polyline points="326.67,189.81 328.67,187.31 330.67,190.31 328.17,191.81" stroke="#555" stroke-width="0.6" fill="none" stroke-linejoin="round" />
<polyline points="335.64,191.62 337.64,189.12 339.64,192.12 337.14,193.62" stroke="#555" stroke-width="0.6" fill="none" stroke-linejoin="round" />
<polyline points="360.95,203.13 362.95,200.63 364.95,203.63 362.45,205.13" stroke="#555" stroke-width="0.6" fill="none" stroke-linejoin="round" />
<polyline points="305.59,171.64 307.59,169.14 309.59,172.14 307.09,173.64" stroke="#555" stroke-width="0.6" fill="none" stroke-linejoin="round" />
<polyline points="395.33,226.04 397.33,223.54 399.33,226.54 396.83,228.04" stroke="#555" stroke-width="0.6" fill="none" stroke-linejoin="round" />
<polyline points="330.67,188.77 332.67,186.27 334.67,189.27 332.17,190.77" stroke="#555" stroke-width="0.6" fill="none" stroke-linejoin="round" />
<polyline points="377.96,215.83 379.96,213.33 381.96,216.33 379.46,217.83" stroke="#555" stroke-width="0.6" fill="none" stroke-linejoin="round" />
<polyline points="333.48,195.52 335.48,193.02 337.48,196.02 334.98,197.52" stroke="#555" stroke-width="0.6" fill="none" stroke-linejoin="round" />
<polyline points="378.26,217.75 380.26,215.25 382.26,218.25 379.76,219.75" stroke="#555" stroke-width="0.6" fill="none" stroke-linejoin="round" />
<polyline points="396.51,222.91 398.51,220.41 400.51,223.41 398.01,224.91" stroke="#555" stroke-width="0.6" fill="none" stroke-linejoin="round" />
<polyline points="321.83,187.69 323.83,185.19 325.83,188.19 323.33,189.69" stroke="#555" stroke-width="0.6" fill="none" stroke-linejoin="round" />
<polyline points="400.8,220.53 402.8,218.03 404.8,221.03 402.3,222.53" stroke="#555" stroke-width="0.6" fill="none" stroke-linejoin="round" />
<polyline points="387.04,227.48 389.04,224.98 391.04,227.98 388.54,229.48" stroke="#555" stroke-width="0.6" fill="none" stroke-linejoin="round" />
<polyline points="332.02,183.28 334.02,180.78 336.02,183.78 333.52,185.28" stroke="#555" stroke-width="0.6" fill="none" stroke-linejoin="round" />
<polyline points="330.64,188.76 332.64,186.26 334.64,189.26 332.14,190.76" stroke="#555" stroke-width="0.6" fill="none" stroke-linejoin="round" />
<polyline points="333.15,188.67 335.15,186.17 337.15,189.17 334.65,190.67" stroke="#555" stroke-width="0.6" fill="none" stroke-linejoin="round" />
<polyline points="348.33,193.3 350.33,190.8 352.33,193.8 349.83,195.3" stroke="#555" stroke-width="0.6" fill="none" stroke-linejoin="round" />
<polyline points="370.51,211.94 372.51,209.44 374.51,212.44 372.01,213.94" stroke="#555" stroke-width="0.6" fill="none" stroke-linejoin="round" />
<polyline points="339.11,201.77 341.11,199.27 343.11,202.27 340.61,203.77" stroke="#555" stroke-width="0.6" fill="none" stroke-linejoin="round" />
<polyline points="365.91,209.09 367.91,206.59 369.91,209.59 367.41,211.09" stroke="#555" stroke-width="0.6" fill="none" stroke-linejoin="round" />
<polyline points="295.11,177.93 297.11,175.43 299.11,178.43 296.61,179.93" stroke="#555" stroke-width="0.6" fill="none" stroke-linejoin="round" />
<polyline points="321.83,186.24 323.83,183.74 325.83,186.74 323.33,188.24" stroke="#555" stroke-width="0.6" fill="none" stroke-linejoin="round" />
<polyline points="351.82,198.21 353.82,195.71 355.82,198.71 353.32,200.21" stroke="#555" stroke-width="0.6" fill="none" stroke-linejoin="round" />
<polyline points="386.17,224.89 388.17,222.39 390.17,225.39 387.67,226.89" stroke="#555" stroke-width="0.6" fill="none" stroke-linejoin="round" />
<polyline points="318.03,184 320.03,181.5 322.03,184.5 319.53,186" stroke="#555" stroke-width="0.6" fill="none" stroke-linejoin="round" />
<line x1="346" y1="192" x2="341" y2="205" stroke="#555" stroke-width="0.7" />
<line x1="368" y1="203" x2="362" y2="217" stroke="#555" stroke-width="0.7" />
<polygon points="278,184.5 282,173.5 317.5,193.5 317,199 315.3,204.6 313.5,203.8" stroke="#333" stroke-width="0.85" fill="#fff" stroke-linejoin="round" />
<line x1="282" y1="173.5" x2="278" y2="184.5" stroke="#444" stroke-width="0.7" />
<line x1="282" y1="173.5" x2="282.5" y2="186.94" stroke="#555" stroke-width="0.6" />
<line x1="286.44" y1="176" x2="282.5" y2="186.94" stroke="#444" stroke-width="0.7" />
<line x1="286.44" y1="176" x2="287" y2="189.38" stroke="#555" stroke-width="0.6" />
<line x1="290.88" y1="178.5" x2="287" y2="189.38" stroke="#444" stroke-width="0.7" />
<line x1="290.88" y1="178.5" x2="291.5" y2="191.81" stroke="#555" stroke-width="0.6" />
<line x1="295.31" y1="181" x2="291.5" y2="191.81" stroke="#444" stroke-width="0.7" />
<line x1="295.31" y1="181" x2="296" y2="194.25" stroke="#555" stroke-width="0.6" />
<line x1="299.75" y1="183.5" x2="296" y2="194.25" stroke="#444" stroke-width="0.7" />
<line x1="299.75" y1="183.5" x2="300.5" y2="196.69" stroke="#555" stroke-width="0.6" />
<line x1="304.19" y1="186" x2="300.5" y2="196.69" stroke="#444" stroke-width="0.7" />
<line x1="304.19" y1="186" x2="305" y2="199.12" stroke="#555" stroke-width="0.6" />
<line x1="308.62" y1="188.5" x2="305" y2="199.12" stroke="#444" stroke-width="0.7" />
<line x1="308.62" y1="188.5" x2="309.5" y2="201.56" stroke="#555" stroke-width="0.6" />
<line x1="313.06" y1="191" x2="309.5" y2="201.56" stroke="#444" stroke-width="0.7" />
<line x1="313.06" y1="191" x2="314" y2="204" stroke="#555" stroke-width="0.6" />
<line x1="317.5" y1="193.5" x2="314" y2="204" stroke="#444" stroke-width="0.7" />
<polyline points="281.4,175.15 316.98,195.07" stroke="#444" stroke-width="0.6" fill="none" stroke-linejoin="round" />
<polygon points="317.5,193.5 349,211.5 348.5,220.4 318.75,204.6 315.3,204.6 317,199" stroke="#555" stroke-width="0.6" fill="#fff" stroke-linejoin="round" />
<line x1="318.75" y1="204.6" x2="348.5" y2="220.4" stroke="#333" stroke-width="0.8" />
<polygon points="349,211.5 388,233.5 387,242.25 383.5,244 348.5,224.75" stroke="#333" stroke-width="0.85" fill="#fff" stroke-linejoin="round" />
<line x1="349" y1="211.5" x2="348.5" y2="224.75" stroke="#444" stroke-width="0.7" />
<line x1="349" y1="211.5" x2="352.44" y2="226.89" stroke="#555" stroke-width="0.6" />
<line x1="353.33" y1="213.94" x2="352.44" y2="226.89" stroke="#444" stroke-width="0.7" />
<line x1="353.33" y1="213.94" x2="356.39" y2="229.03" stroke="#555" stroke-width="0.6" />
<line x1="357.67" y1="216.39" x2="356.39" y2="229.03" stroke="#444" stroke-width="0.7" />
<line x1="357.67" y1="216.39" x2="360.33" y2="231.17" stroke="#555" stroke-width="0.6" />
<line x1="362" y1="218.83" x2="360.33" y2="231.17" stroke="#444" stroke-width="0.7" />
<line x1="362" y1="218.83" x2="364.28" y2="233.31" stroke="#555" stroke-width="0.6" />
<line x1="366.33" y1="221.28" x2="364.28" y2="233.31" stroke="#444" stroke-width="0.7" />
<line x1="366.33" y1="221.28" x2="368.22" y2="235.44" stroke="#555" stroke-width="0.6" />
<line x1="370.67" y1="223.72" x2="368.22" y2="235.44" stroke="#444" stroke-width="0.7" />
<line x1="370.67" y1="223.72" x2="372.17" y2="237.58" stroke="#555" stroke-width="0.6" />
<line x1="375" y1="226.17" x2="372.17" y2="237.58" stroke="#444" stroke-width="0.7" />
<line x1="375" y1="226.17" x2="376.11" y2="239.72" stroke="#555" stroke-width="0.6" />
<line x1="379.33" y1="228.61" x2="376.11" y2="239.72" stroke="#444" stroke-width="0.7" />
<line x1="379.33" y1="228.61" x2="380.06" y2="241.86" stroke="#555" stroke-width="0.6" />
<line x1="383.67" y1="231.06" x2="380.06" y2="241.86" stroke="#444" stroke-width="0.7" />
<line x1="383.67" y1="231.06" x2="384" y2="244" stroke="#555" stroke-width="0.6" />
<line x1="388" y1="233.5" x2="384" y2="244" stroke="#444" stroke-width="0.7" />
<polyline points="348.93,213.49 387.4,235.07" stroke="#444" stroke-width="0.6" fill="none" stroke-linejoin="round" />
<polyline points="388,233.5 409.5,222.8" stroke="#333" stroke-width="0.8" fill="none" stroke-linejoin="round" />
<polyline points="387,242 410.6,226.5" stroke="#333" stroke-width="0.8" fill="none" stroke-linejoin="round" />
<line x1="409.75" y1="223" x2="410.6" y2="226.5" stroke="#333" stroke-width="0.8" />
<polyline points="392,252 431,230 434.5,232.5 444,228 446,224.5 488,196.5" stroke="#383838" stroke-width="1.3" fill="none" stroke-linejoin="round" />
<polyline points="392,253.6 431,231.6 434.5,234.1 444,229.6 446,226.1 488,198.1" stroke="#383838" stroke-width="1.04" fill="none" stroke-linejoin="round" />
<polyline points="394,264 431,242.5 434.5,245 446,238 488,210" stroke="#383838" stroke-width="1.3" fill="none" stroke-linejoin="round" />
<polyline points="399,247.95 399,277.95" stroke="#383838" stroke-width="1.3" fill="none" stroke-linejoin="round" />
<polyline points="409,242.17 409,272.17" stroke="#383838" stroke-width="1.3" fill="none" stroke-linejoin="round" />
<polyline points="432.4,228.64 432.4,258.64" stroke="#383838" stroke-width="1.3" fill="none" stroke-linejoin="round" />
<polyline points="449.4,218.82 449.4,248.82" stroke="#383838" stroke-width="1.3" fill="none" stroke-linejoin="round" />
<polyline points="458.5,213.55 458.5,243.55" stroke="#383838" stroke-width="1.3" fill="none" stroke-linejoin="round" />
<polyline points="472,205.75 472,235.75" stroke="#383838" stroke-width="1.3" fill="none" stroke-linejoin="round" />
<polyline points="482.6,199.62 482.6,229.62" stroke="#383838" stroke-width="1.3" fill="none" stroke-linejoin="round" />
<polyline points="488,196.5 579,249" stroke="#383838" stroke-width="1.3" fill="none" stroke-linejoin="round" />
<polyline points="488,198.1 579,250.6" stroke="#383838" stroke-width="1.04" fill="none" stroke-linejoin="round" />
<polyline points="488,222 579,274" stroke="#383838" stroke-width="1.3" fill="none" stroke-linejoin="round" />
<polyline points="495.2,200.65 494.2,203.65 495.2,206.15 495.2,236.65 496.7,239.65" stroke="#383838" stroke-width="1.3" fill="none" stroke-linejoin="round" />
<polyline points="502.4,204.81 501.4,207.81 502.4,210.31 502.4,240.81 503.9,243.81" stroke="#383838" stroke-width="1.3" fill="none" stroke-linejoin="round" />
<polyline points="509.6,208.96 508.6,211.96 509.6,214.46 509.6,244.96 511.1,247.96" stroke="#383838" stroke-width="1.3" fill="none" stroke-linejoin="round" />
<polyline points="516.8,213.12 515.8,216.12 516.8,218.62 516.8,249.12 518.3,252.12" stroke="#383838" stroke-width="1.3" fill="none" stroke-linejoin="round" />
<polyline points="524,217.27 523,220.27 524,222.77 524,253.27 525.5,256.27" stroke="#383838" stroke-width="1.3" fill="none" stroke-linejoin="round" />
<polyline points="531.2,221.42 530.2,224.42 531.2,226.92 531.2,257.42 532.7,260.42" stroke="#383838" stroke-width="1.3" fill="none" stroke-linejoin="round" />
<polyline points="538.4,225.58 537.4,228.58 538.4,231.08 538.4,261.58 539.9,264.58" stroke="#383838" stroke-width="1.3" fill="none" stroke-linejoin="round" />
<polyline points="545.6,229.73 544.6,232.73 545.6,235.23 545.6,265.73 547.1,268.73" stroke="#383838" stroke-width="1.3" fill="none" stroke-linejoin="round" />
<polyline points="552.8,233.88 551.8,236.88 552.8,239.38 552.8,269.88 554.3,272.88" stroke="#383838" stroke-width="1.3" fill="none" stroke-linejoin="round" />
<polyline points="560,238.04 559,241.04 560,243.54 560,274.04 561.5,277.04" stroke="#383838" stroke-width="1.3" fill="none" stroke-linejoin="round" />
<polyline points="567.2,242.19 566.2,245.19 567.2,247.69 567.2,278.19 568.7,281.19" stroke="#383838" stroke-width="1.3" fill="none" stroke-linejoin="round" />
<polyline points="574.4,246.35 573.4,249.35 574.4,251.85 574.4,282.35 575.9,285.35" stroke="#383838" stroke-width="1.3" fill="none" stroke-linejoin="round" />
<polyline points="579,249 581,256 581,280 578,286" stroke="#383838" stroke-width="1.3" fill="none" stroke-linejoin="round" />
<polyline points="575,255 577,262 577,279" stroke="#383838" stroke-width="0.8" fill="none" stroke-linejoin="round" />
<polyline points="484,204 484,224 487,226" stroke="#3a3a3a" stroke-width="1.1" fill="none" stroke-linejoin="round" />
<polyline points="489.5,207 489.5,227 492.5,229" stroke="#3a3a3a" stroke-width="1.1" fill="none" stroke-linejoin="round" />
<polyline points="495,210 495,230 498,232" stroke="#3a3a3a" stroke-width="1.1" fill="none" stroke-linejoin="round" />
<polyline points="500.5,213 500.5,233 503.5,235" stroke="#3a3a3a" stroke-width="1.1" fill="none" stroke-linejoin="round" />
<polyline points="506,216 506,236 509,238" stroke="#3a3a3a" stroke-width="1.1" fill="none" stroke-linejoin="round" />
<polyline points="511.5,219 511.5,239 514.5,241" stroke="#3a3a3a" stroke-width="1.1" fill="none" stroke-linejoin="round" />
<polyline points="482,210 516,229" stroke="#3a3a3a" stroke-width="1.0" fill="none" stroke-linejoin="round" />
<polyline points="482,217 516,236" stroke="#3a3a3a" stroke-width="1.0" fill="none" stroke-linejoin="round" />
<polyline points="486,226 500,228 512,236" stroke="#444" stroke-width="0.9" fill="none" stroke-linejoin="round" />
<polyline points="470,212 478,206 486,210" stroke="#3a3a3a" stroke-width="1.0" fill="none" stroke-linejoin="round" />
<polyline points="472,212 472,230" stroke="#3a3a3a" stroke-width="1.0" fill="none" stroke-linejoin="round" />
<polyline points="403.82,266.44 410.61,269 420.8,266.83 430.98,260.66 441.17,252.49 446.26,248.91 447.96,235.05 451.35,231.83 453.05,232.47 453.05,245.47 459.84,244.02 471.72,238.99 480.21,233.69 488.7,227.38" stroke="#383838" stroke-width="1.3" fill="none" stroke-linejoin="round" />
<polyline points="410.21,269.7 416.98,272.25 427.13,270.06 437.29,263.88 447.44,255.7 452.52,252.11 454.21,238.24 457.59,235.01 459.28,235.65 459.28,248.65 466.05,247.19 477.9,242.15 486.36,236.83 494.82,230.51" stroke="#383838" stroke-width="1.3" fill="none" stroke-linejoin="round" />
<polyline points="416.6,272.97 423.35,275.5 433.47,273.3 443.59,267.1 453.71,258.9 458.77,255.3 460.46,241.44 463.83,238.2 465.52,238.84 465.52,251.84 472.27,250.37 484.07,245.3 492.51,239.97 500.94,233.64" stroke="#383838" stroke-width="1.3" fill="none" stroke-linejoin="round" />
<polyline points="423,276.23 429.72,278.75 439.81,276.54 449.9,270.32 459.98,262.11 465.03,258.5 466.71,244.63 470.07,241.39 471.75,242.02 471.75,255.02 478.48,253.54 490.25,248.46 498.65,243.11 507.06,236.76" stroke="#383838" stroke-width="1.3" fill="none" stroke-linejoin="round" />
<polyline points="429.39,279.5 436.09,282.01 446.15,279.78 456.2,273.54 466.26,265.31 471.28,261.69 472.96,247.82 476.31,244.58 477.99,245.21 477.99,258.21 484.69,256.72 496.42,251.61 504.8,246.25 513.18,239.89" stroke="#383838" stroke-width="1.3" fill="none" stroke-linejoin="round" />
<polyline points="435.78,282.76 442.46,285.26 452.48,283.01 462.51,276.76 472.53,268.51 477.54,264.89 479.21,251.02 482.55,247.77 484.22,248.39 484.22,261.39 490.9,259.89 502.6,254.77 510.95,249.39 519.3,243.02" stroke="#383838" stroke-width="1.3" fill="none" stroke-linejoin="round" />
<polyline points="442.17,286.02 448.83,288.51 458.82,286.25 468.81,279.98 478.8,271.72 483.8,268.09 485.46,254.21 488.79,250.95 490.46,251.58 490.46,264.58 497.12,263.07 508.77,257.92 517.1,252.54 525.42,246.15" stroke="#383838" stroke-width="1.3" fill="none" stroke-linejoin="round" />
<polyline points="448.56,289.29 455.2,291.77 465.16,289.49 475.12,283.2 485.07,274.92 490.05,271.28 491.71,257.4 495.03,254.14 496.69,254.76 496.69,267.76 503.33,266.24 514.94,261.08 523.24,255.68 531.54,249.28" stroke="#383838" stroke-width="1.3" fill="none" stroke-linejoin="round" />
<polyline points="454.96,292.55 461.57,295.02 471.5,292.72 481.42,286.42 491.35,278.13 496.31,274.48 497.96,260.6 501.27,257.33 502.92,257.95 502.92,270.95 509.54,269.41 521.12,264.23 529.39,258.82 537.66,252.4" stroke="#383838" stroke-width="1.3" fill="none" stroke-linejoin="round" />
<polyline points="461.35,295.82 467.94,298.27 477.83,295.96 487.73,289.65 497.62,281.33 502.56,277.67 504.21,263.79 507.51,260.52 509.16,261.13 509.16,274.13 515.75,272.59 527.29,267.39 535.54,261.96 543.78,255.53" stroke="#383838" stroke-width="1.3" fill="none" stroke-linejoin="round" />
<polyline points="467.74,299.08 474.31,301.53 484.17,299.2 494.03,292.87 503.89,284.54 508.82,280.87 510.46,266.98 513.75,263.7 515.39,264.32 515.39,277.32 521.97,275.76 533.47,270.54 541.68,265.1 549.9,258.66" stroke="#383838" stroke-width="1.3" fill="none" stroke-linejoin="round" />
<polyline points="474.13,302.34 480.68,304.78 490.51,302.43 500.34,296.09 510.16,287.74 515.08,284.07 516.71,270.17 519.99,266.89 521.63,267.5 521.63,280.5 528.18,278.94 539.64,273.7 547.83,268.24 556.02,261.79" stroke="#383838" stroke-width="1.3" fill="none" stroke-linejoin="round" />
<polyline points="480.52,305.61 487.05,308.03 496.85,305.67 506.64,299.31 516.44,290.94 521.33,287.26 522.96,273.37 526.23,270.08 527.86,270.69 527.86,283.69 534.39,282.11 545.82,276.85 553.98,271.39 562.14,264.92" stroke="#383838" stroke-width="1.3" fill="none" stroke-linejoin="round" />
<polyline points="486.92,308.87 493.42,311.29 503.18,308.91 512.95,302.53 522.71,294.15 527.59,290.46 529.21,276.56 532.47,273.27 534.1,273.87 534.1,286.87 540.6,285.29 551.99,280.01 560.13,274.53 568.26,268.04" stroke="#383838" stroke-width="1.3" fill="none" stroke-linejoin="round" />
<polyline points="493.31,312.14 499.79,314.54 509.52,312.14 519.25,305.75 528.98,297.35 533.84,293.65 535.47,279.75 538.71,276.46 540.33,277.06 540.33,290.06 546.82,288.46 558.17,283.16 566.27,277.67 574.38,271.17" stroke="#383838" stroke-width="1.3" fill="none" stroke-linejoin="round" />
<polyline points="411.2,266.84 504.72,314.6" stroke="#3a3a3a" stroke-width="1.2" fill="none" stroke-linejoin="round" />
<polyline points="421.4,263.68 514.44,311.2" stroke="#3a3a3a" stroke-width="1.2" fill="none" stroke-linejoin="round" />
<polyline points="431.6,257.52 524.16,304.8" stroke="#3a3a3a" stroke-width="1.2" fill="none" stroke-linejoin="round" />
<polyline points="443.5,247.5 535.5,294.5" stroke="#3a3a3a" stroke-width="1.2" fill="none" stroke-linejoin="round" />
<polyline points="457.1,242.62 548.46,289.3" stroke="#3a3a3a" stroke-width="1.2" fill="none" stroke-linejoin="round" />
<polyline points="469,237.6 559.8,284" stroke="#3a3a3a" stroke-width="1.2" fill="none" stroke-linejoin="round" />
<polyline points="479.2,231.44 569.52,277.6" stroke="#3a3a3a" stroke-width="1.2" fill="none" stroke-linejoin="round" />
<polyline points="436,245 444,272" stroke="#333" stroke-width="1.4" fill="none" stroke-linejoin="round" />
<polyline points="444,272 441.5,250" stroke="#333" stroke-width="1.3" fill="none" stroke-linejoin="round" />
<polyline points="441.5,248.2 449.5,275.2" stroke="#333" stroke-width="1.4" fill="none" stroke-linejoin="round" />
<polyline points="449.5,275.2 447,253.2" stroke="#333" stroke-width="1.3" fill="none" stroke-linejoin="round" />
<polyline points="447,251.4 455,278.4" stroke="#333" stroke-width="1.4" fill="none" stroke-linejoin="round" />
<polyline points="455,278.4 452.5,256.4" stroke="#333" stroke-width="1.3" fill="none" stroke-linejoin="round" />
<polyline points="452.5,254.6 460.5,281.6" stroke="#333" stroke-width="1.4" fill="none" stroke-linejoin="round" />
<polyline points="460.5,281.6 458,259.6" stroke="#333" stroke-width="1.3" fill="none" stroke-linejoin="round" />
<polyline points="458,257.8 466,284.8" stroke="#333" stroke-width="1.4" fill="none" stroke-linejoin="round" />
<polyline points="466,284.8 463.5,262.8" stroke="#333" stroke-width="1.3" fill="none" stroke-linejoin="round" />
<polyline points="463.5,261 471.5,288" stroke="#333" stroke-width="1.4" fill="none" stroke-linejoin="round" />
<polyline points="471.5,288 469,266" stroke="#333" stroke-width="1.3" fill="none" stroke-linejoin="round" />
<polyline points="402.53,266.83 402.53,285.33 404.03,287.33 405.53,285.33 405.53,268.33" stroke="#383838" stroke-width="1.25" fill="none" stroke-linejoin="round" />
<polyline points="409.07,270.17 409.07,288.67 410.57,290.67 412.07,288.67 412.07,271.67" stroke="#383838" stroke-width="1.25" fill="none" stroke-linejoin="round" />
<polyline points="415.6,273.5 415.6,292 417.1,294 418.6,292 418.6,275" stroke="#383838" stroke-width="1.25" fill="none" stroke-linejoin="round" />
<polyline points="422.13,276.83 422.13,295.33 423.63,297.33 425.13,295.33 425.13,278.33" stroke="#383838" stroke-width="1.25" fill="none" stroke-linejoin="round" />
<polyline points="428.67,280.17 428.67,298.67 430.17,300.67 431.67,298.67 431.67,281.67" stroke="#383838" stroke-width="1.25" fill="none" stroke-linejoin="round" />
<polyline points="435.2,283.5 435.2,302 436.7,304 438.2,302 438.2,285" stroke="#383838" stroke-width="1.25" fill="none" stroke-linejoin="round" />
<polyline points="441.73,286.83 441.73,305.33 443.23,307.33 444.73,305.33 444.73,288.33" stroke="#383838" stroke-width="1.25" fill="none" stroke-linejoin="round" />
<polyline points="448.27,290.17 448.27,308.67 449.77,310.67 451.27,308.67 451.27,291.67" stroke="#383838" stroke-width="1.25" fill="none" stroke-linejoin="round" />
<polyline points="454.8,293.5 454.8,312 456.3,314 457.8,312 457.8,295" stroke="#383838" stroke-width="1.25" fill="none" stroke-linejoin="round" />
<polyline points="461.33,296.83 461.33,315.33 462.83,317.33 464.33,315.33 464.33,298.33" stroke="#383838" stroke-width="1.25" fill="none" stroke-linejoin="round" />
<polyline points="467.87,300.17 467.87,318.67 469.37,320.67 470.87,318.67 470.87,301.67" stroke="#383838" stroke-width="1.25" fill="none" stroke-linejoin="round" />
<polyline points="474.4,303.5 474.4,322 475.9,324 477.4,322 477.4,305" stroke="#383838" stroke-width="1.25" fill="none" stroke-linejoin="round" />
<polyline points="480.93,306.83 480.93,325.33 482.43,327.33 483.93,325.33 483.93,308.33" stroke="#383838" stroke-width="1.25" fill="none" stroke-linejoin="round" />
<polyline points="487.47,310.17 487.47,328.67 488.97,330.67 490.47,328.67 490.47,311.67" stroke="#383838" stroke-width="1.25" fill="none" stroke-linejoin="round" />
<polyline points="494,313.5 494,332 495.5,334 497,332 497,315" stroke="#383838" stroke-width="1.25" fill="none" stroke-linejoin="round" />
<polyline points="398,276 496,325" stroke="#383838" stroke-width="1.0" fill="none" stroke-linejoin="round" />
<polyline points="399,265 497,315" stroke="#383838" stroke-width="1.4" fill="none" stroke-linejoin="round" />
<polyline points="399,267 497,317" stroke="#383838" stroke-width="1.1199999999999999" fill="none" stroke-linejoin="round" />
<polyline points="496,316 515,298.3 538,284 560,274.5 580.6,266.5" stroke="#383838" stroke-width="1.3" fill="none" stroke-linejoin="round" />
<polyline points="496,317.8 515,300.1 538,285.8 560,276.3 580.6,268.3" stroke="#383838" stroke-width="1.04" fill="none" stroke-linejoin="round" />
<polyline points="498,326 520,309 538,298 554,291.2 581.5,277" stroke="#383838" stroke-width="1.2" fill="none" stroke-linejoin="round" />
<polyline points="498,327.6 520,310.6 538,299.6 554,292.8 581.5,278.6" stroke="#383838" stroke-width="0.96" fill="none" stroke-linejoin="round" />
<polyline points="502.5,321.89 502.5,329.89 505,331.89 507.5,329.89 507.5,321.89" stroke="#383838" stroke-width="1.2" fill="none" stroke-linejoin="round" />
<polyline points="524.5,308.98 524.5,316.98 527,318.98 529.5,316.98 529.5,308.98" stroke="#383838" stroke-width="1.2" fill="none" stroke-linejoin="round" />
<polyline points="543.5,297.83 543.5,305.83 546,307.83 548.5,305.83 548.5,297.83" stroke="#383838" stroke-width="1.2" fill="none" stroke-linejoin="round" />
<polyline points="563.5,286.1 563.5,294.1 566,296.1 568.5,294.1 568.5,286.1" stroke="#383838" stroke-width="1.2" fill="none" stroke-linejoin="round" />
<polyline points="392,252 392,284 395,288" stroke="#383838" stroke-width="1.1" fill="none" stroke-linejoin="round" />
<polyline points="395,255 395,286" stroke="#383838" stroke-width="0.8" fill="none" stroke-linejoin="round" />
<polygon points="407,281 429,292 432.4,297 428,300 408,290 405,285" stroke="#444" stroke-width="0.7" fill="#d0d0d0" stroke-linejoin="round" />
<ellipse cx="394.5" cy="278.2" rx="3.3" ry="3.1" stroke="#444" stroke-width="0.8" fill="#ddd" />
<ellipse cx="396.5" cy="290.3" rx="3.3" ry="3.1" stroke="#444" stroke-width="0.8" fill="#ddd" />
<ellipse cx="418.2" cy="292.4" rx="2.8" ry="2.8" stroke="#444" stroke-width="0.8" fill="#ddd" />
<polygon points="534.5,323.8 537,319.9 559.2,307.5 564,307.5 572.7,311 573.5,321.4 539.3,342.1 537,340 534.5,330" stroke="#333" stroke-width="0.9" fill="#fff" stroke-linejoin="round" />
<polyline points="537.7,327.8 573,311" stroke="#333" stroke-width="0.85" fill="none" stroke-linejoin="round" />
<polyline points="561.6,308 561.6,315.5" stroke="#555" stroke-width="0.7" fill="none" stroke-linejoin="round" />
<polyline points="537.5,327.5 537.5,340" stroke="#555" stroke-width="0.7" fill="none" stroke-linejoin="round" />
<polyline points="539.7,338 572.2,320.3" stroke="#777" stroke-width="0.6" fill="none" stroke-linejoin="round" />
<polyline points="540,329.5 540,338" stroke="#888" stroke-width="0.6" fill="none" stroke-linejoin="round" />
<line x1="549.3" y1="327" x2="562.3" y2="320.7" stroke="#888" stroke-width="0.6" />
<line x1="549.3" y1="330.2" x2="562.3" y2="323.8" stroke="#888" stroke-width="0.6" />
<polyline points="535,325 536.5,331 536.5,337" stroke="#555" stroke-width="0.8" fill="none" stroke-linejoin="round" />
<rect x="540.5" y="180.75" width="8" height="4.5" rx="1.8" fill="#fff" stroke="#333" stroke-width="0.8" transform="rotate(-28 544.5 183)"/>
<rect x="541.8" y="182.8" width="4" height="2" rx="0.8" fill="#999" stroke="#555" stroke-width="0.5" transform="rotate(-28 543.8 183.8)"/>
<rect x="553.9" y="172.5" width="9" height="5" rx="2" fill="#fff" stroke="#333" stroke-width="0.8" transform="rotate(-35 558.4 175)"/>
<rect x="554.9" y="174.8" width="5" height="2.4" rx="0.96" fill="#aaa" stroke="#555" stroke-width="0.5" transform="rotate(-35 557.4 176)"/>
<polyline points="575.4,185.4 617.8,210.8" stroke="#333" stroke-width="1.3" fill="none" stroke-linejoin="round" />
<line x1="578" y1="186" x2="576.5" y2="172.7" stroke="#3a3a3a" stroke-width="1.7" stroke-linecap="round"/>
<line x1="578" y1="185.5" x2="576.5" y2="173.7" stroke="#bbb" stroke-width="0.4" />
<line x1="581.66" y1="188.06" x2="580.21" y2="174.77" stroke="#3a3a3a" stroke-width="1.7" stroke-linecap="round"/>
<line x1="581.66" y1="187.56" x2="580.21" y2="175.77" stroke="#bbb" stroke-width="0.4" />
<line x1="585.32" y1="190.12" x2="583.92" y2="176.84" stroke="#3a3a3a" stroke-width="1.7" stroke-linecap="round"/>
<line x1="585.32" y1="189.62" x2="583.92" y2="177.84" stroke="#bbb" stroke-width="0.4" />
<line x1="588.98" y1="192.18" x2="587.63" y2="178.91" stroke="#3a3a3a" stroke-width="1.7" stroke-linecap="round"/>
<line x1="588.98" y1="191.68" x2="587.63" y2="179.91" stroke="#bbb" stroke-width="0.4" />
<line x1="592.64" y1="194.24" x2="591.34" y2="180.98" stroke="#3a3a3a" stroke-width="1.7" stroke-linecap="round"/>
<line x1="592.64" y1="193.74" x2="591.34" y2="181.98" stroke="#bbb" stroke-width="0.4" />
<line x1="596.3" y1="196.3" x2="595.05" y2="183.05" stroke="#3a3a3a" stroke-width="1.7" stroke-linecap="round"/>
<line x1="596.3" y1="195.8" x2="595.05" y2="184.05" stroke="#bbb" stroke-width="0.4" />
<line x1="599.96" y1="198.36" x2="598.76" y2="185.12" stroke="#3a3a3a" stroke-width="1.7" stroke-linecap="round"/>
<line x1="599.96" y1="197.86" x2="598.76" y2="186.12" stroke="#bbb" stroke-width="0.4" />
<line x1="603.62" y1="200.42" x2="602.47" y2="187.19" stroke="#3a3a3a" stroke-width="1.7" stroke-linecap="round"/>
<line x1="603.62" y1="199.92" x2="602.47" y2="188.19" stroke="#bbb" stroke-width="0.4" />
<line x1="607.28" y1="202.48" x2="606.18" y2="189.26" stroke="#3a3a3a" stroke-width="1.7" stroke-linecap="round"/>
<line x1="607.28" y1="201.98" x2="606.18" y2="190.26" stroke="#bbb" stroke-width="0.4" />
<line x1="610.94" y1="204.54" x2="609.89" y2="191.33" stroke="#3a3a3a" stroke-width="1.7" stroke-linecap="round"/>
<line x1="610.94" y1="204.04" x2="609.89" y2="192.33" stroke="#bbb" stroke-width="0.4" />
<line x1="614.6" y1="206.6" x2="613.6" y2="193.4" stroke="#3a3a3a" stroke-width="1.7" stroke-linecap="round"/>
<line x1="614.6" y1="206.1" x2="613.6" y2="194.4" stroke="#bbb" stroke-width="0.4" />
<polyline points="614,208 619,211" stroke="#333" stroke-width="1.5" fill="none" stroke-linejoin="round" />
<polyline points="557.4,191.8 562,190 566,194 607.2,216.5" stroke="#333" stroke-width="1.3" fill="none" stroke-linejoin="round" />
<line x1="565.9" y1="194" x2="564.8" y2="179" stroke="#3a3a3a" stroke-width="1.7" stroke-linecap="round"/>
<line x1="565.9" y1="193.5" x2="564.8" y2="180" stroke="#bbb" stroke-width="0.4" />
<line x1="569.61" y1="196.1" x2="568.51" y2="181.55" stroke="#3a3a3a" stroke-width="1.7" stroke-linecap="round"/>
<line x1="569.61" y1="195.6" x2="568.51" y2="182.55" stroke="#bbb" stroke-width="0.4" />
<line x1="573.32" y1="198.2" x2="572.22" y2="184.1" stroke="#3a3a3a" stroke-width="1.7" stroke-linecap="round"/>
<line x1="573.32" y1="197.7" x2="572.22" y2="185.1" stroke="#bbb" stroke-width="0.4" />
<line x1="577.03" y1="200.3" x2="575.93" y2="186.65" stroke="#3a3a3a" stroke-width="1.7" stroke-linecap="round"/>
<line x1="577.03" y1="199.8" x2="575.93" y2="187.65" stroke="#bbb" stroke-width="0.4" />
<line x1="580.74" y1="202.4" x2="579.64" y2="189.2" stroke="#3a3a3a" stroke-width="1.7" stroke-linecap="round"/>
<line x1="580.74" y1="201.9" x2="579.64" y2="190.2" stroke="#bbb" stroke-width="0.4" />
<line x1="584.45" y1="204.5" x2="583.35" y2="191.75" stroke="#3a3a3a" stroke-width="1.7" stroke-linecap="round"/>
<line x1="584.45" y1="204" x2="583.35" y2="192.75" stroke="#bbb" stroke-width="0.4" />
<line x1="588.16" y1="206.6" x2="587.06" y2="194.3" stroke="#3a3a3a" stroke-width="1.7" stroke-linecap="round"/>
<line x1="588.16" y1="206.1" x2="587.06" y2="195.3" stroke="#bbb" stroke-width="0.4" />
<line x1="591.87" y1="208.7" x2="590.77" y2="196.85" stroke="#3a3a3a" stroke-width="1.7" stroke-linecap="round"/>
<line x1="591.87" y1="208.2" x2="590.77" y2="197.85" stroke="#bbb" stroke-width="0.4" />
<line x1="595.58" y1="210.8" x2="594.48" y2="199.4" stroke="#3a3a3a" stroke-width="1.7" stroke-linecap="round"/>
<line x1="595.58" y1="210.3" x2="594.48" y2="200.4" stroke="#bbb" stroke-width="0.4" />
<line x1="599.29" y1="212.9" x2="598.19" y2="201.95" stroke="#3a3a3a" stroke-width="1.7" stroke-linecap="round"/>
<line x1="599.29" y1="212.4" x2="598.19" y2="202.95" stroke="#bbb" stroke-width="0.4" />
<line x1="603" y1="215" x2="601.9" y2="204.5" stroke="#3a3a3a" stroke-width="1.7" stroke-linecap="round"/>
<line x1="603" y1="214.5" x2="601.9" y2="205.5" stroke="#bbb" stroke-width="0.4" />
<polyline points="602,214 607,217.5" stroke="#333" stroke-width="1.5" fill="none" stroke-linejoin="round" />
<polyline points="559.3,365.1 559.3,372 567.6,384.5 656,333" stroke="#3a3a3a" stroke-width="1.2" fill="none" stroke-linejoin="round" />
<polyline points="560.5,372 568.1,383 656,331.5" stroke="#777" stroke-width="0.5" fill="none" stroke-linejoin="round" />
<ellipse cx="567.6" cy="384.5" rx="1.3" ry="1.1" stroke="#444" stroke-width="0.7" fill="#fff" />
<polyline points="656,333 658.5,331.5 659.5,332" stroke="#444" stroke-width="1.0" fill="none" stroke-linejoin="round" />
<line x1="570.25" y1="382.95" x2="571.25" y2="367.95" stroke="#4a4a4a" stroke-width="1.15" stroke-linecap="round"/>
<line x1="572.77" y1="381.49" x2="573.77" y2="366.49" stroke="#4a4a4a" stroke-width="1.15" stroke-linecap="round"/>
<line x1="575.29" y1="380.02" x2="576.29" y2="365.02" stroke="#4a4a4a" stroke-width="1.15" stroke-linecap="round"/>
<line x1="577.81" y1="378.55" x2="578.81" y2="363.55" stroke="#4a4a4a" stroke-width="1.15" stroke-linecap="round"/>
<line x1="580.33" y1="377.08" x2="581.33" y2="362.08" stroke="#4a4a4a" stroke-width="1.15" stroke-linecap="round"/>
<line x1="582.85" y1="375.62" x2="583.85" y2="360.62" stroke="#4a4a4a" stroke-width="1.15" stroke-linecap="round"/>
<line x1="585.37" y1="374.15" x2="586.37" y2="359.15" stroke="#4a4a4a" stroke-width="1.15" stroke-linecap="round"/>
<line x1="587.89" y1="372.68" x2="588.89" y2="357.68" stroke="#4a4a4a" stroke-width="1.15" stroke-linecap="round"/>
<line x1="590.41" y1="371.21" x2="591.41" y2="356.21" stroke="#4a4a4a" stroke-width="1.15" stroke-linecap="round"/>
<line x1="592.93" y1="369.75" x2="593.93" y2="354.75" stroke="#4a4a4a" stroke-width="1.15" stroke-linecap="round"/>
<line x1="595.45" y1="368.28" x2="596.45" y2="353.28" stroke="#4a4a4a" stroke-width="1.15" stroke-linecap="round"/>
<line x1="597.97" y1="366.81" x2="598.97" y2="351.81" stroke="#4a4a4a" stroke-width="1.15" stroke-linecap="round"/>
<line x1="600.48" y1="365.34" x2="601.48" y2="350.34" stroke="#4a4a4a" stroke-width="1.15" stroke-linecap="round"/>
<line x1="603" y1="363.87" x2="604" y2="348.87" stroke="#4a4a4a" stroke-width="1.15" stroke-linecap="round"/>
<line x1="605.52" y1="362.41" x2="606.52" y2="347.41" stroke="#4a4a4a" stroke-width="1.15" stroke-linecap="round"/>
<line x1="608.04" y1="360.94" x2="609.04" y2="345.94" stroke="#4a4a4a" stroke-width="1.15" stroke-linecap="round"/>
<line x1="610.56" y1="359.47" x2="611.56" y2="344.47" stroke="#4a4a4a" stroke-width="1.15" stroke-linecap="round"/>
<line x1="613.08" y1="358" x2="614.08" y2="343" stroke="#4a4a4a" stroke-width="1.15" stroke-linecap="round"/>
<line x1="615.6" y1="356.54" x2="616.6" y2="341.54" stroke="#4a4a4a" stroke-width="1.15" stroke-linecap="round"/>
<line x1="618.12" y1="355.07" x2="619.12" y2="340.07" stroke="#4a4a4a" stroke-width="1.15" stroke-linecap="round"/>
<line x1="620.64" y1="353.6" x2="621.64" y2="338.6" stroke="#4a4a4a" stroke-width="1.15" stroke-linecap="round"/>
<line x1="625.94" y1="350.51" x2="626.94" y2="333.51" stroke="#4a4a4a" stroke-width="1.15" stroke-linecap="round"/>
<line x1="628.77" y1="348.86" x2="629.77" y2="331.86" stroke="#4a4a4a" stroke-width="1.15" stroke-linecap="round"/>
<line x1="631.6" y1="347.21" x2="632.6" y2="330.21" stroke="#4a4a4a" stroke-width="1.15" stroke-linecap="round"/>
<line x1="634.43" y1="345.57" x2="635.43" y2="328.57" stroke="#4a4a4a" stroke-width="1.15" stroke-linecap="round"/>
<line x1="637.26" y1="343.92" x2="638.26" y2="326.92" stroke="#4a4a4a" stroke-width="1.15" stroke-linecap="round"/>
<line x1="640.09" y1="342.27" x2="641.09" y2="325.27" stroke="#4a4a4a" stroke-width="1.15" stroke-linecap="round"/>
<line x1="642.92" y1="340.62" x2="643.92" y2="323.62" stroke="#4a4a4a" stroke-width="1.15" stroke-linecap="round"/>
<line x1="645.75" y1="338.97" x2="646.75" y2="321.97" stroke="#4a4a4a" stroke-width="1.15" stroke-linecap="round"/>
<line x1="648.57" y1="337.33" x2="649.57" y2="320.33" stroke="#4a4a4a" stroke-width="1.15" stroke-linecap="round"/>
<line x1="651.4" y1="335.68" x2="652.4" y2="318.68" stroke="#4a4a4a" stroke-width="1.15" stroke-linecap="round"/>
<line x1="654.23" y1="334.03" x2="655.23" y2="317.03" stroke="#4a4a4a" stroke-width="1.15" stroke-linecap="round"/>
<polyline points="584,379.7 584,386.5 593,399 682.3,346.6" stroke="#3a3a3a" stroke-width="1.2" fill="none" stroke-linejoin="round" />
<polyline points="585.2,386.5 593.5,397.5 682.3,345.1" stroke="#777" stroke-width="0.5" fill="none" stroke-linejoin="round" />
<ellipse cx="593" cy="399" rx="1.3" ry="1.1" stroke="#444" stroke-width="0.7" fill="#fff" />
<polyline points="682.3,346.6 684.8,345.1 685.8,345.6" stroke="#444" stroke-width="1.0" fill="none" stroke-linejoin="round" />
<line x1="595.68" y1="397.43" x2="596.68" y2="382.43" stroke="#4a4a4a" stroke-width="1.15" stroke-linecap="round"/>
<line x1="598.22" y1="395.93" x2="599.22" y2="380.93" stroke="#4a4a4a" stroke-width="1.15" stroke-linecap="round"/>
<line x1="600.77" y1="394.44" x2="601.77" y2="379.44" stroke="#4a4a4a" stroke-width="1.15" stroke-linecap="round"/>
<line x1="603.31" y1="392.95" x2="604.31" y2="377.95" stroke="#4a4a4a" stroke-width="1.15" stroke-linecap="round"/>
<line x1="605.86" y1="391.45" x2="606.86" y2="376.45" stroke="#4a4a4a" stroke-width="1.15" stroke-linecap="round"/>
<line x1="608.4" y1="389.96" x2="609.4" y2="374.96" stroke="#4a4a4a" stroke-width="1.15" stroke-linecap="round"/>
<line x1="610.95" y1="388.47" x2="611.95" y2="373.47" stroke="#4a4a4a" stroke-width="1.15" stroke-linecap="round"/>
<line x1="613.49" y1="386.97" x2="614.49" y2="371.97" stroke="#4a4a4a" stroke-width="1.15" stroke-linecap="round"/>
<line x1="616.04" y1="385.48" x2="617.04" y2="370.48" stroke="#4a4a4a" stroke-width="1.15" stroke-linecap="round"/>
<line x1="618.58" y1="383.99" x2="619.58" y2="368.99" stroke="#4a4a4a" stroke-width="1.15" stroke-linecap="round"/>
<line x1="621.13" y1="382.49" x2="622.13" y2="367.49" stroke="#4a4a4a" stroke-width="1.15" stroke-linecap="round"/>
<line x1="623.67" y1="381" x2="624.67" y2="366" stroke="#4a4a4a" stroke-width="1.15" stroke-linecap="round"/>
<line x1="626.22" y1="379.51" x2="627.22" y2="364.51" stroke="#4a4a4a" stroke-width="1.15" stroke-linecap="round"/>
<line x1="628.76" y1="378.01" x2="629.76" y2="363.01" stroke="#4a4a4a" stroke-width="1.15" stroke-linecap="round"/>
<line x1="631.31" y1="376.52" x2="632.31" y2="361.52" stroke="#4a4a4a" stroke-width="1.15" stroke-linecap="round"/>
<line x1="633.85" y1="375.03" x2="634.85" y2="360.03" stroke="#4a4a4a" stroke-width="1.15" stroke-linecap="round"/>
<line x1="636.4" y1="373.53" x2="637.4" y2="358.53" stroke="#4a4a4a" stroke-width="1.15" stroke-linecap="round"/>
<line x1="638.94" y1="372.04" x2="639.94" y2="357.04" stroke="#4a4a4a" stroke-width="1.15" stroke-linecap="round"/>
<line x1="641.49" y1="370.55" x2="642.49" y2="355.55" stroke="#4a4a4a" stroke-width="1.15" stroke-linecap="round"/>
<line x1="644.03" y1="369.05" x2="645.03" y2="354.05" stroke="#4a4a4a" stroke-width="1.15" stroke-linecap="round"/>
<line x1="646.58" y1="367.56" x2="647.58" y2="352.56" stroke="#4a4a4a" stroke-width="1.15" stroke-linecap="round"/>
<line x1="651.94" y1="364.42" x2="652.94" y2="347.42" stroke="#4a4a4a" stroke-width="1.15" stroke-linecap="round"/>
<line x1="654.8" y1="362.74" x2="655.8" y2="345.74" stroke="#4a4a4a" stroke-width="1.15" stroke-linecap="round"/>
<line x1="657.65" y1="361.06" x2="658.65" y2="344.06" stroke="#4a4a4a" stroke-width="1.15" stroke-linecap="round"/>
<line x1="660.51" y1="359.39" x2="661.51" y2="342.39" stroke="#4a4a4a" stroke-width="1.15" stroke-linecap="round"/>
<line x1="663.37" y1="357.71" x2="664.37" y2="340.71" stroke="#4a4a4a" stroke-width="1.15" stroke-linecap="round"/>
<line x1="666.23" y1="356.03" x2="667.23" y2="339.03" stroke="#4a4a4a" stroke-width="1.15" stroke-linecap="round"/>
<line x1="669.08" y1="354.36" x2="670.08" y2="337.36" stroke="#4a4a4a" stroke-width="1.15" stroke-linecap="round"/>
<line x1="671.94" y1="352.68" x2="672.94" y2="335.68" stroke="#4a4a4a" stroke-width="1.15" stroke-linecap="round"/>
<line x1="674.8" y1="351" x2="675.8" y2="334" stroke="#4a4a4a" stroke-width="1.15" stroke-linecap="round"/>
<line x1="677.66" y1="349.32" x2="678.66" y2="332.32" stroke="#4a4a4a" stroke-width="1.15" stroke-linecap="round"/>
<line x1="680.51" y1="347.65" x2="681.51" y2="330.65" stroke="#4a4a4a" stroke-width="1.15" stroke-linecap="round"/>
<polygon points="541.8,379.1 543.7,377.9 546.9,378.7 554.9,383.9 557.7,387.1 558.8,391.1 558,393 555.3,394.6 550.9,391.5 550.5,389.9 545.3,385.9 542.6,383.1" stroke="#2a2a2a" stroke-width="0.9" fill="#d8d8d8" stroke-linejoin="round" />
<polygon points="544,381 547,380.5 552,385 549,387 545.5,384.5" stroke="#333" stroke-width="0.5" fill="#555" stroke-linejoin="round" />
<polygon points="551,389 555,387.5 558,391 555.5,394 551.5,391.5" stroke="#222" stroke-width="0.5" fill="#333" stroke-linejoin="round" />
<polyline points="547,379.5 555,385" stroke="#fff" stroke-width="0.8" fill="none" stroke-linejoin="round" />
<ellipse cx="553.5" cy="387.2" rx="1.2" ry="1" stroke="#222" stroke-width="0.5" fill="#eee" />
<polygon points="566.4,393.4 568.3,392.2 571.5,393 579.5,398.2 582.3,401.4 583.4,405.4 582.6,407.3 579.9,408.9 575.5,405.8 575.1,404.2 569.9,400.2 567.2,397.4" stroke="#2a2a2a" stroke-width="0.9" fill="#d8d8d8" stroke-linejoin="round" />
<polygon points="568.6,395.3 571.6,394.8 576.6,399.3 573.6,401.3 570.1,398.8" stroke="#333" stroke-width="0.5" fill="#555" stroke-linejoin="round" />
<polygon points="575.6,403.3 579.6,401.8 582.6,405.3 580.1,408.3 576.1,405.8" stroke="#222" stroke-width="0.5" fill="#333" stroke-linejoin="round" />
<polyline points="571.6,393.8 579.6,399.3" stroke="#fff" stroke-width="0.8" fill="none" stroke-linejoin="round" />
<ellipse cx="578.1" cy="401.5" rx="1.2" ry="1" stroke="#222" stroke-width="0.5" fill="#eee" />
<polygon points="639.5,379 642,377.5 651.5,373 656.5,373 682,387 683,389.5 669,399 664.5,399 640,385" stroke="#666" stroke-width="0.6" fill="#fff" stroke-linejoin="round" stroke-dasharray="4,1.5"/>
<rect x="653.5" y="376.7" width="7" height="3.6" rx="1.44" fill="#fff" stroke="#333" stroke-width="0.7" transform="rotate(30 657 378.5)"/>
<rect x="655" y="377.7" width="3" height="1.6" rx="0.64" fill="#777" stroke="#444" stroke-width="0.4" transform="rotate(30 656.5 378.5)"/>
<rect x="643.5" y="381.7" width="7" height="3.6" rx="1.44" fill="#fff" stroke="#333" stroke-width="0.7" transform="rotate(30 647 383.5)"/>
<rect x="645" y="382.7" width="3" height="1.6" rx="0.64" fill="#777" stroke="#444" stroke-width="0.4" transform="rotate(30 646.5 383.5)"/>
<rect x="670.5" y="385.7" width="7" height="3.6" rx="1.44" fill="#fff" stroke="#333" stroke-width="0.7" transform="rotate(30 674 387.5)"/>
<rect x="672" y="386.7" width="3" height="1.6" rx="0.64" fill="#777" stroke="#444" stroke-width="0.4" transform="rotate(30 673.5 387.5)"/>
<rect x="662" y="391.2" width="7" height="3.6" rx="1.44" fill="#fff" stroke="#333" stroke-width="0.7" transform="rotate(30 665.5 393)"/>
<rect x="663.5" y="392.2" width="3" height="1.6" rx="0.64" fill="#777" stroke="#444" stroke-width="0.4" transform="rotate(30 665 393)"/>
<polygon points="683.4,435 686,433.2 696.5,439.5 696.5,446 685,440" stroke="#2e2e2e" stroke-width="0.8" fill="#505050" stroke-linejoin="round" />
<rect x="686.4" y="436.2" width="2.2" height="2.6" fill="#f4f4f4"/>
<rect x="689.9" y="438.2" width="2.2" height="2.6" fill="#f4f4f4"/>
<rect x="692.9" y="440" width="2.2" height="2.6" fill="#f4f4f4"/>
<polygon points="696.9,440 699,439.3 715,449 715.5,458.6 697,448" stroke="#2e2e2e" stroke-width="0.8" fill="#505050" stroke-linejoin="round" />
<rect x="698.9" y="441.2" width="2.2" height="2.6" fill="#f4f4f4"/>
<rect x="702.4" y="443.2" width="2.2" height="2.6" fill="#f4f4f4"/>
<rect x="705.9" y="445.2" width="2.2" height="2.6" fill="#f4f4f4"/>
<rect x="709.4" y="447.2" width="2.2" height="2.6" fill="#f4f4f4"/>
<rect x="711.9" y="449.2" width="2.2" height="2.6" fill="#f4f4f4"/>
<rect x="699.4" y="444.7" width="2.2" height="2.6" fill="#f4f4f4"/>
<rect x="702.9" y="446.7" width="2.2" height="2.6" fill="#f4f4f4"/>
<rect x="706.4" y="448.7" width="2.2" height="2.6" fill="#f4f4f4"/>
<polygon points="716.7,451.5 719,450.5 728.6,456 729,472.9 717,466" stroke="#2e2e2e" stroke-width="0.8" fill="#505050" stroke-linejoin="round" />
<rect x="718.9" y="453.7" width="2.2" height="2.6" fill="#f4f4f4"/>
<rect x="722.9" y="456" width="2.2" height="2.6" fill="#f4f4f4"/>
<rect x="718.9" y="458.7" width="2.2" height="2.6" fill="#f4f4f4"/>
<rect x="722.9" y="461" width="2.2" height="2.6" fill="#f4f4f4"/>
<rect x="718.9" y="463.7" width="2.2" height="2.6" fill="#f4f4f4"/>
<rect x="722.9" y="466.2" width="2.2" height="2.6" fill="#f4f4f4"/>
<polygon points="665.5,459.5 670,449 689,447.5 703,456 713,463 713,483 699,475 686,467.5" stroke="#444" stroke-width="0.6" fill="#ededed" stroke-linejoin="round" />
<line x1="672" y1="450" x2="672" y2="460" stroke="#999" stroke-width="0.55" />
<line x1="675.2" y1="450.6" x2="675.2" y2="461.2" stroke="#999" stroke-width="0.55" />
<line x1="678.4" y1="451.2" x2="678.4" y2="462.4" stroke="#999" stroke-width="0.55" />
<line x1="681.6" y1="451.8" x2="681.6" y2="463.6" stroke="#999" stroke-width="0.55" />
<line x1="684.8" y1="452.4" x2="684.8" y2="464.8" stroke="#999" stroke-width="0.55" />
<line x1="688" y1="453" x2="688" y2="466" stroke="#999" stroke-width="0.55" />
<line x1="691.2" y1="453.6" x2="691.2" y2="467.2" stroke="#999" stroke-width="0.55" />
<line x1="694.4" y1="454.2" x2="694.4" y2="468.4" stroke="#999" stroke-width="0.55" />
<line x1="697.6" y1="454.8" x2="697.6" y2="469.6" stroke="#999" stroke-width="0.55" />
<line x1="671" y1="452" x2="688" y2="451" stroke="#aaa" stroke-width="0.5" />
<line x1="671" y1="454.2" x2="688" y2="453.2" stroke="#aaa" stroke-width="0.5" />
<line x1="671" y1="456.4" x2="688" y2="455.4" stroke="#aaa" stroke-width="0.5" />
<line x1="671" y1="458.6" x2="688" y2="457.6" stroke="#aaa" stroke-width="0.5" />
<polyline points="688,448 688,460 704,470" stroke="#555" stroke-width="0.7" fill="none" stroke-linejoin="round" />
<polyline points="688,460 672,461" stroke="#555" stroke-width="0.7" fill="none" stroke-linejoin="round" />
<line x1="700" y1="462" x2="700" y2="474" stroke="#999" stroke-width="0.55" />
<line x1="702.8" y1="463.5" x2="702.8" y2="475.5" stroke="#999" stroke-width="0.55" />
<line x1="705.6" y1="465" x2="705.6" y2="477" stroke="#999" stroke-width="0.55" />
<line x1="708.4" y1="466.5" x2="708.4" y2="478.5" stroke="#999" stroke-width="0.55" />
<line x1="711.2" y1="468" x2="711.2" y2="480" stroke="#999" stroke-width="0.55" />
<polygon points="713,463 727.5,455.5 728.5,458 727,503 715.8,508 713,485" stroke="#333" stroke-width="0.8" fill="#f0f0f0" stroke-linejoin="round" />
<line x1="715.5" y1="475" x2="726.5" y2="469" stroke="#888" stroke-width="0.65" />
<line x1="715.5" y1="478.5" x2="726.5" y2="472.5" stroke="#888" stroke-width="0.65" />
<line x1="715.5" y1="482" x2="726.5" y2="476" stroke="#888" stroke-width="0.65" />
<line x1="715.5" y1="485.5" x2="726.5" y2="479.5" stroke="#888" stroke-width="0.65" />
<line x1="715.5" y1="489" x2="726.5" y2="483" stroke="#888" stroke-width="0.65" />
<line x1="715.5" y1="492.5" x2="726.5" y2="486.5" stroke="#888" stroke-width="0.65" />
<line x1="715.5" y1="496" x2="726.5" y2="490" stroke="#888" stroke-width="0.65" />
<line x1="715.5" y1="499.5" x2="726.5" y2="493.5" stroke="#888" stroke-width="0.65" />
<line x1="715.5" y1="503" x2="726.5" y2="497" stroke="#888" stroke-width="0.65" />
<line x1="715.5" y1="506.5" x2="726.5" y2="500.5" stroke="#888" stroke-width="0.65" />
<line x1="715.5" y1="510" x2="726.5" y2="504" stroke="#888" stroke-width="0.65" />
<polygon points="653.5,467.5 666.8,478.5 666.7,498.8 661.55,496.2 656.4,493.6" stroke="#333" stroke-width="0.85" fill="#f3f3f3" stroke-linejoin="round" />
<line x1="655.16" y1="470.76" x2="665.49" y2="481.04" stroke="#777" stroke-width="0.7" />
<line x1="655.52" y1="474.02" x2="665.48" y2="483.57" stroke="#777" stroke-width="0.7" />
<line x1="655.89" y1="477.29" x2="665.46" y2="486.11" stroke="#777" stroke-width="0.7" />
<line x1="656.25" y1="480.55" x2="665.45" y2="488.65" stroke="#777" stroke-width="0.7" />
<line x1="656.61" y1="483.81" x2="665.44" y2="491.19" stroke="#777" stroke-width="0.7" />
<line x1="656.97" y1="487.08" x2="665.43" y2="493.73" stroke="#777" stroke-width="0.7" />
<line x1="657.34" y1="490.34" x2="665.41" y2="496.26" stroke="#777" stroke-width="0.7" />
<polygon points="666.8,478.5 687,490.5 686.5,511.5 677.25,505.5 668,499.5" stroke="#333" stroke-width="0.85" fill="#f3f3f3" stroke-linejoin="round" />
<line x1="668.25" y1="481.12" x2="685.64" y2="493.12" stroke="#777" stroke-width="0.7" />
<line x1="668.4" y1="483.75" x2="685.58" y2="495.75" stroke="#777" stroke-width="0.7" />
<line x1="668.55" y1="486.38" x2="685.51" y2="498.38" stroke="#777" stroke-width="0.7" />
<line x1="668.7" y1="489" x2="685.45" y2="501" stroke="#777" stroke-width="0.7" />
<line x1="668.85" y1="491.62" x2="685.39" y2="503.62" stroke="#777" stroke-width="0.7" />
<line x1="669" y1="494.25" x2="685.33" y2="506.25" stroke="#777" stroke-width="0.7" />
<line x1="669.15" y1="496.88" x2="685.26" y2="508.88" stroke="#777" stroke-width="0.7" />
<polygon points="687,490.5 712,484.5 713.4,509.5 701,512.15 688.6,514.8" stroke="#333" stroke-width="0.85" fill="#f3f3f3" stroke-linejoin="round" />
<line x1="688.48" y1="493.2" x2="710.86" y2="487.28" stroke="#777" stroke-width="0.7" />
<line x1="688.66" y1="495.9" x2="711.01" y2="490.06" stroke="#777" stroke-width="0.7" />
<line x1="688.83" y1="498.6" x2="711.17" y2="492.83" stroke="#777" stroke-width="0.7" />
<line x1="689.01" y1="501.3" x2="711.32" y2="495.61" stroke="#777" stroke-width="0.7" />
<line x1="689.19" y1="504" x2="711.48" y2="498.39" stroke="#777" stroke-width="0.7" />
<line x1="689.37" y1="506.7" x2="711.63" y2="501.17" stroke="#777" stroke-width="0.7" />
<line x1="689.54" y1="509.4" x2="711.79" y2="503.94" stroke="#777" stroke-width="0.7" />
<line x1="689.72" y1="512.1" x2="711.94" y2="506.72" stroke="#777" stroke-width="0.7" />
<polyline points="714.5,485 715.8,508" stroke="#333" stroke-width="0.9" fill="none" stroke-linejoin="round" />
<polygon points="653.5,467 656,463.5 665.5,459.5 686,467.5 699,475 712,483 712,484.5 687,490.5 666.8,478.5 653.5,467.5" stroke="#2e2e2e" stroke-width="0.8" fill="#5e5e5e" stroke-linejoin="round" />
<defs><clipPath id="lidclip"><polygon points="653.5,467 656,463.5 665.5,459.5 686,467.5 699,475 712,483 712,484.5 687,490.5 666.8,478.5 653.5,467.5"/></clipPath></defs>
<g clip-path="url(#lidclip)">
<ellipse cx="625.8" cy="426.8" rx="1" ry="0.85" stroke="none" stroke-width="0" fill="#d8d8d8" />
<ellipse cx="627" cy="429.6" rx="1" ry="0.85" stroke="none" stroke-width="0" fill="#d8d8d8" />
<ellipse cx="628.2" cy="432.4" rx="1" ry="0.85" stroke="none" stroke-width="0" fill="#d8d8d8" />
<ellipse cx="629.4" cy="435.2" rx="1" ry="0.85" stroke="none" stroke-width="0" fill="#d8d8d8" />
<ellipse cx="630.6" cy="438" rx="1" ry="0.85" stroke="none" stroke-width="0" fill="#d8d8d8" />
<ellipse cx="631.8" cy="440.8" rx="1" ry="0.85" stroke="none" stroke-width="0" fill="#d8d8d8" />
<ellipse cx="633" cy="443.6" rx="1" ry="0.85" stroke="none" stroke-width="0" fill="#d8d8d8" />
<ellipse cx="634.2" cy="446.4" rx="1" ry="0.85" stroke="none" stroke-width="0" fill="#d8d8d8" />
<ellipse cx="635.4" cy="449.2" rx="1" ry="0.85" stroke="none" stroke-width="0" fill="#d8d8d8" />
<ellipse cx="636.6" cy="452" rx="1" ry="0.85" stroke="none" stroke-width="0" fill="#d8d8d8" />
<ellipse cx="637.8" cy="454.8" rx="1" ry="0.85" stroke="none" stroke-width="0" fill="#d8d8d8" />
<ellipse cx="639" cy="457.6" rx="1" ry="0.85" stroke="none" stroke-width="0" fill="#d8d8d8" />
<ellipse cx="640.2" cy="460.4" rx="1" ry="0.85" stroke="none" stroke-width="0" fill="#d8d8d8" />
<ellipse cx="641.4" cy="463.2" rx="1" ry="0.85" stroke="none" stroke-width="0" fill="#d8d8d8" />
<ellipse cx="642.6" cy="466" rx="1" ry="0.85" stroke="none" stroke-width="0" fill="#d8d8d8" />
<ellipse cx="643.8" cy="468.8" rx="1" ry="0.85" stroke="none" stroke-width="0" fill="#d8d8d8" />
<ellipse cx="645" cy="471.6" rx="1" ry="0.85" stroke="none" stroke-width="0" fill="#d8d8d8" />
<ellipse cx="646.2" cy="474.4" rx="1" ry="0.85" stroke="none" stroke-width="0" fill="#d8d8d8" />
<ellipse cx="647.4" cy="477.2" rx="1" ry="0.85" stroke="none" stroke-width="0" fill="#d8d8d8" />
<ellipse cx="648.6" cy="480" rx="1" ry="0.85" stroke="none" stroke-width="0" fill="#d8d8d8" />
<ellipse cx="649.8" cy="482.8" rx="1" ry="0.85" stroke="none" stroke-width="0" fill="#d8d8d8" />
<ellipse cx="628.7" cy="427.8" rx="1" ry="0.85" stroke="none" stroke-width="0" fill="#d8d8d8" />
<ellipse cx="629.9" cy="430.6" rx="1" ry="0.85" stroke="none" stroke-width="0" fill="#d8d8d8" />
<ellipse cx="631.1" cy="433.4" rx="1" ry="0.85" stroke="none" stroke-width="0" fill="#d8d8d8" />
<ellipse cx="632.3" cy="436.2" rx="1" ry="0.85" stroke="none" stroke-width="0" fill="#d8d8d8" />
<ellipse cx="633.5" cy="439" rx="1" ry="0.85" stroke="none" stroke-width="0" fill="#d8d8d8" />
<ellipse cx="634.7" cy="441.8" rx="1" ry="0.85" stroke="none" stroke-width="0" fill="#d8d8d8" />
<ellipse cx="635.9" cy="444.6" rx="1" ry="0.85" stroke="none" stroke-width="0" fill="#d8d8d8" />
<ellipse cx="637.1" cy="447.4" rx="1" ry="0.85" stroke="none" stroke-width="0" fill="#d8d8d8" />
<ellipse cx="638.3" cy="450.2" rx="1" ry="0.85" stroke="none" stroke-width="0" fill="#d8d8d8" />
<ellipse cx="639.5" cy="453" rx="1" ry="0.85" stroke="none" stroke-width="0" fill="#d8d8d8" />
<ellipse cx="640.7" cy="455.8" rx="1" ry="0.85" stroke="none" stroke-width="0" fill="#d8d8d8" />
<ellipse cx="641.9" cy="458.6" rx="1" ry="0.85" stroke="none" stroke-width="0" fill="#d8d8d8" />
<ellipse cx="643.1" cy="461.4" rx="1" ry="0.85" stroke="none" stroke-width="0" fill="#d8d8d8" />
<ellipse cx="644.3" cy="464.2" rx="1" ry="0.85" stroke="none" stroke-width="0" fill="#d8d8d8" />
<ellipse cx="645.5" cy="467" rx="1" ry="0.85" stroke="none" stroke-width="0" fill="#d8d8d8" />
<ellipse cx="646.7" cy="469.8" rx="1" ry="0.85" stroke="none" stroke-width="0" fill="#d8d8d8" />
<ellipse cx="647.9" cy="472.6" rx="1" ry="0.85" stroke="none" stroke-width="0" fill="#d8d8d8" />
<ellipse cx="649.1" cy="475.4" rx="1" ry="0.85" stroke="none" stroke-width="0" fill="#d8d8d8" />
<ellipse cx="650.3" cy="478.2" rx="1" ry="0.85" stroke="none" stroke-width="0" fill="#d8d8d8" />
<ellipse cx="651.5" cy="481" rx="1" ry="0.85" stroke="none" stroke-width="0" fill="#d8d8d8" />
<ellipse cx="652.7" cy="483.8" rx="1" ry="0.85" stroke="none" stroke-width="0" fill="#d8d8d8" />
<ellipse cx="631.6" cy="428.8" rx="1" ry="0.85" stroke="none" stroke-width="0" fill="#d8d8d8" />
<ellipse cx="632.8" cy="431.6" rx="1" ry="0.85" stroke="none" stroke-width="0" fill="#d8d8d8" />
<ellipse cx="634" cy="434.4" rx="1" ry="0.85" stroke="none" stroke-width="0" fill="#d8d8d8" />
<ellipse cx="635.2" cy="437.2" rx="1" ry="0.85" stroke="none" stroke-width="0" fill="#d8d8d8" />
<ellipse cx="636.4" cy="440" rx="1" ry="0.85" stroke="none" stroke-width="0" fill="#d8d8d8" />
<ellipse cx="637.6" cy="442.8" rx="1" ry="0.85" stroke="none" stroke-width="0" fill="#d8d8d8" />
<ellipse cx="638.8" cy="445.6" rx="1" ry="0.85" stroke="none" stroke-width="0" fill="#d8d8d8" />
<ellipse cx="640" cy="448.4" rx="1" ry="0.85" stroke="none" stroke-width="0" fill="#d8d8d8" />
<ellipse cx="641.2" cy="451.2" rx="1" ry="0.85" stroke="none" stroke-width="0" fill="#d8d8d8" />
<ellipse cx="642.4" cy="454" rx="1" ry="0.85" stroke="none" stroke-width="0" fill="#d8d8d8" />
<ellipse cx="643.6" cy="456.8" rx="1" ry="0.85" stroke="none" stroke-width="0" fill="#d8d8d8" />
<ellipse cx="644.8" cy="459.6" rx="1" ry="0.85" stroke="none" stroke-width="0" fill="#d8d8d8" />
<ellipse cx="646" cy="462.4" rx="1" ry="0.85" stroke="none" stroke-width="0" fill="#d8d8d8" />
<ellipse cx="647.2" cy="465.2" rx="1" ry="0.85" stroke="none" stroke-width="0" fill="#d8d8d8" />
<ellipse cx="648.4" cy="468" rx="1" ry="0.85" stroke="none" stroke-width="0" fill="#d8d8d8" />
<ellipse cx="649.6" cy="470.8" rx="1" ry="0.85" stroke="none" stroke-width="0" fill="#d8d8d8" />
<ellipse cx="650.8" cy="473.6" rx="1" ry="0.85" stroke="none" stroke-width="0" fill="#d8d8d8" />
<ellipse cx="652" cy="476.4" rx="1" ry="0.85" stroke="none" stroke-width="0" fill="#d8d8d8" />
<ellipse cx="653.2" cy="479.2" rx="1" ry="0.85" stroke="none" stroke-width="0" fill="#d8d8d8" />
<ellipse cx="654.4" cy="482" rx="1" ry="0.85" stroke="none" stroke-width="0" fill="#d8d8d8" />
<ellipse cx="655.6" cy="484.8" rx="1" ry="0.85" stroke="none" stroke-width="0" fill="#d8d8d8" />
<ellipse cx="634.5" cy="429.8" rx="1" ry="0.85" stroke="none" stroke-width="0" fill="#d8d8d8" />
<ellipse cx="635.7" cy="432.6" rx="1" ry="0.85" stroke="none" stroke-width="0" fill="#d8d8d8" />
<ellipse cx="636.9" cy="435.4" rx="1" ry="0.85" stroke="none" stroke-width="0" fill="#d8d8d8" />
<ellipse cx="638.1" cy="438.2" rx="1" ry="0.85" stroke="none" stroke-width="0" fill="#d8d8d8" />
<ellipse cx="639.3" cy="441" rx="1" ry="0.85" stroke="none" stroke-width="0" fill="#d8d8d8" />
<ellipse cx="640.5" cy="443.8" rx="1" ry="0.85" stroke="none" stroke-width="0" fill="#d8d8d8" />
<ellipse cx="641.7" cy="446.6" rx="1" ry="0.85" stroke="none" stroke-width="0" fill="#d8d8d8" />
<ellipse cx="642.9" cy="449.4" rx="1" ry="0.85" stroke="none" stroke-width="0" fill="#d8d8d8" />
<ellipse cx="644.1" cy="452.2" rx="1" ry="0.85" stroke="none" stroke-width="0" fill="#d8d8d8" />
<ellipse cx="645.3" cy="455" rx="1" ry="0.85" stroke="none" stroke-width="0" fill="#d8d8d8" />
<ellipse cx="646.5" cy="457.8" rx="1" ry="0.85" stroke="none" stroke-width="0" fill="#d8d8d8" />
<ellipse cx="647.7" cy="460.6" rx="1" ry="0.85" stroke="none" stroke-width="0" fill="#d8d8d8" />
<ellipse cx="648.9" cy="463.4" rx="1" ry="0.85" stroke="none" stroke-width="0" fill="#d8d8d8" />
<ellipse cx="650.1" cy="466.2" rx="1" ry="0.85" stroke="none" stroke-width="0" fill="#d8d8d8" />
<ellipse cx="651.3" cy="469" rx="1" ry="0.85" stroke="none" stroke-width="0" fill="#d8d8d8" />
<ellipse cx="652.5" cy="471.8" rx="1" ry="0.85" stroke="none" stroke-width="0" fill="#d8d8d8" />
<ellipse cx="653.7" cy="474.6" rx="1" ry="0.85" stroke="none" stroke-width="0" fill="#d8d8d8" />
<ellipse cx="654.9" cy="477.4" rx="1" ry="0.85" stroke="none" stroke-width="0" fill="#d8d8d8" />
<ellipse cx="656.1" cy="480.2" rx="1" ry="0.85" stroke="none" stroke-width="0" fill="#d8d8d8" />
<ellipse cx="657.3" cy="483" rx="1" ry="0.85" stroke="none" stroke-width="0" fill="#d8d8d8" />
<ellipse cx="658.5" cy="485.8" rx="1" ry="0.85" stroke="none" stroke-width="0" fill="#d8d8d8" />
<ellipse cx="637.4" cy="430.8" rx="1" ry="0.85" stroke="none" stroke-width="0" fill="#d8d8d8" />
<ellipse cx="638.6" cy="433.6" rx="1" ry="0.85" stroke="none" stroke-width="0" fill="#d8d8d8" />
<ellipse cx="639.8" cy="436.4" rx="1" ry="0.85" stroke="none" stroke-width="0" fill="#d8d8d8" />
<ellipse cx="641" cy="439.2" rx="1" ry="0.85" stroke="none" stroke-width="0" fill="#d8d8d8" />
<ellipse cx="642.2" cy="442" rx="1" ry="0.85" stroke="none" stroke-width="0" fill="#d8d8d8" />
<ellipse cx="643.4" cy="444.8" rx="1" ry="0.85" stroke="none" stroke-width="0" fill="#d8d8d8" />
<ellipse cx="644.6" cy="447.6" rx="1" ry="0.85" stroke="none" stroke-width="0" fill="#d8d8d8" />
<ellipse cx="645.8" cy="450.4" rx="1" ry="0.85" stroke="none" stroke-width="0" fill="#d8d8d8" />
<ellipse cx="647" cy="453.2" rx="1" ry="0.85" stroke="none" stroke-width="0" fill="#d8d8d8" />
<ellipse cx="648.2" cy="456" rx="1" ry="0.85" stroke="none" stroke-width="0" fill="#d8d8d8" />
<ellipse cx="649.4" cy="458.8" rx="1" ry="0.85" stroke="none" stroke-width="0" fill="#d8d8d8" />
<ellipse cx="650.6" cy="461.6" rx="1" ry="0.85" stroke="none" stroke-width="0" fill="#d8d8d8" />
<ellipse cx="651.8" cy="464.4" rx="1" ry="0.85" stroke="none" stroke-width="0" fill="#d8d8d8" />
<ellipse cx="653" cy="467.2" rx="1" ry="0.85" stroke="none" stroke-width="0" fill="#d8d8d8" />
<ellipse cx="654.2" cy="470" rx="1" ry="0.85" stroke="none" stroke-width="0" fill="#d8d8d8" />
<ellipse cx="655.4" cy="472.8" rx="1" ry="0.85" stroke="none" stroke-width="0" fill="#d8d8d8" />
<ellipse cx="656.6" cy="475.6" rx="1" ry="0.85" stroke="none" stroke-width="0" fill="#d8d8d8" />
<ellipse cx="657.8" cy="478.4" rx="1" ry="0.85" stroke="none" stroke-width="0" fill="#d8d8d8" />
<ellipse cx="659" cy="481.2" rx="1" ry="0.85" stroke="none" stroke-width="0" fill="#d8d8d8" />
<ellipse cx="660.2" cy="484" rx="1" ry="0.85" stroke="none" stroke-width="0" fill="#d8d8d8" />
<ellipse cx="661.4" cy="486.8" rx="1" ry="0.85" stroke="none" stroke-width="0" fill="#d8d8d8" />
<ellipse cx="640.3" cy="431.8" rx="1" ry="0.85" stroke="none" stroke-width="0" fill="#d8d8d8" />
<ellipse cx="641.5" cy="434.6" rx="1" ry="0.85" stroke="none" stroke-width="0" fill="#d8d8d8" />
<ellipse cx="642.7" cy="437.4" rx="1" ry="0.85" stroke="none" stroke-width="0" fill="#d8d8d8" />
<ellipse cx="643.9" cy="440.2" rx="1" ry="0.85" stroke="none" stroke-width="0" fill="#d8d8d8" />
<ellipse cx="645.1" cy="443" rx="1" ry="0.85" stroke="none" stroke-width="0" fill="#d8d8d8" />
<ellipse cx="646.3" cy="445.8" rx="1" ry="0.85" stroke="none" stroke-width="0" fill="#d8d8d8" />
<ellipse cx="647.5" cy="448.6" rx="1" ry="0.85" stroke="none" stroke-width="0" fill="#d8d8d8" />
<ellipse cx="648.7" cy="451.4" rx="1" ry="0.85" stroke="none" stroke-width="0" fill="#d8d8d8" />
<ellipse cx="649.9" cy="454.2" rx="1" ry="0.85" stroke="none" stroke-width="0" fill="#d8d8d8" />
<ellipse cx="651.1" cy="457" rx="1" ry="0.85" stroke="none" stroke-width="0" fill="#d8d8d8" />
<ellipse cx="652.3" cy="459.8" rx="1" ry="0.85" stroke="none" stroke-width="0" fill="#d8d8d8" />
<ellipse cx="653.5" cy="462.6" rx="1" ry="0.85" stroke="none" stroke-width="0" fill="#d8d8d8" />
<ellipse cx="654.7" cy="465.4" rx="1" ry="0.85" stroke="none" stroke-width="0" fill="#d8d8d8" />
<ellipse cx="655.9" cy="468.2" rx="1" ry="0.85" stroke="none" stroke-width="0" fill="#d8d8d8" />
<ellipse cx="657.1" cy="471" rx="1" ry="0.85" stroke="none" stroke-width="0" fill="#d8d8d8" />
<ellipse cx="658.3" cy="473.8" rx="1" ry="0.85" stroke="none" stroke-width="0" fill="#d8d8d8" />
<ellipse cx="659.5" cy="476.6" rx="1" ry="0.85" stroke="none" stroke-width="0" fill="#d8d8d8" />
<ellipse cx="660.7" cy="479.4" rx="1" ry="0.85" stroke="none" stroke-width="0" fill="#d8d8d8" />
<ellipse cx="661.9" cy="482.2" rx="1" ry="0.85" stroke="none" stroke-width="0" fill="#d8d8d8" />
<ellipse cx="663.1" cy="485" rx="1" ry="0.85" stroke="none" stroke-width="0" fill="#d8d8d8" />
<ellipse cx="664.3" cy="487.8" rx="1" ry="0.85" stroke="none" stroke-width="0" fill="#d8d8d8" />
<ellipse cx="643.2" cy="432.8" rx="1" ry="0.85" stroke="none" stroke-width="0" fill="#d8d8d8" />
<ellipse cx="644.4" cy="435.6" rx="1" ry="0.85" stroke="none" stroke-width="0" fill="#d8d8d8" />
<ellipse cx="645.6" cy="438.4" rx="1" ry="0.85" stroke="none" stroke-width="0" fill="#d8d8d8" />
<ellipse cx="646.8" cy="441.2" rx="1" ry="0.85" stroke="none" stroke-width="0" fill="#d8d8d8" />
<ellipse cx="648" cy="444" rx="1" ry="0.85" stroke="none" stroke-width="0" fill="#d8d8d8" />
<ellipse cx="649.2" cy="446.8" rx="1" ry="0.85" stroke="none" stroke-width="0" fill="#d8d8d8" />
<ellipse cx="650.4" cy="449.6" rx="1" ry="0.85" stroke="none" stroke-width="0" fill="#d8d8d8" />
<ellipse cx="651.6" cy="452.4" rx="1" ry="0.85" stroke="none" stroke-width="0" fill="#d8d8d8" />
<ellipse cx="652.8" cy="455.2" rx="1" ry="0.85" stroke="none" stroke-width="0" fill="#d8d8d8" />
<ellipse cx="654" cy="458" rx="1" ry="0.85" stroke="none" stroke-width="0" fill="#d8d8d8" />
<ellipse cx="655.2" cy="460.8" rx="1" ry="0.85" stroke="none" stroke-width="0" fill="#d8d8d8" />
<ellipse cx="656.4" cy="463.6" rx="1" ry="0.85" stroke="none" stroke-width="0" fill="#d8d8d8" />
<ellipse cx="657.6" cy="466.4" rx="1" ry="0.85" stroke="none" stroke-width="0" fill="#d8d8d8" />
<ellipse cx="658.8" cy="469.2" rx="1" ry="0.85" stroke="none" stroke-width="0" fill="#d8d8d8" />
<ellipse cx="660" cy="472" rx="1" ry="0.85" stroke="none" stroke-width="0" fill="#d8d8d8" />
<ellipse cx="661.2" cy="474.8" rx="1" ry="0.85" stroke="none" stroke-width="0" fill="#d8d8d8" />
<ellipse cx="662.4" cy="477.6" rx="1" ry="0.85" stroke="none" stroke-width="0" fill="#d8d8d8" />
<ellipse cx="663.6" cy="480.4" rx="1" ry="0.85" stroke="none" stroke-width="0" fill="#d8d8d8" />
<ellipse cx="664.8" cy="483.2" rx="1" ry="0.85" stroke="none" stroke-width="0" fill="#d8d8d8" />
<ellipse cx="666" cy="486" rx="1" ry="0.85" stroke="none" stroke-width="0" fill="#d8d8d8" />
<ellipse cx="667.2" cy="488.8" rx="1" ry="0.85" stroke="none" stroke-width="0" fill="#d8d8d8" />
<ellipse cx="646.1" cy="433.8" rx="1" ry="0.85" stroke="none" stroke-width="0" fill="#d8d8d8" />
<ellipse cx="647.3" cy="436.6" rx="1" ry="0.85" stroke="none" stroke-width="0" fill="#d8d8d8" />
<ellipse cx="648.5" cy="439.4" rx="1" ry="0.85" stroke="none" stroke-width="0" fill="#d8d8d8" />
<ellipse cx="649.7" cy="442.2" rx="1" ry="0.85" stroke="none" stroke-width="0" fill="#d8d8d8" />
<ellipse cx="650.9" cy="445" rx="1" ry="0.85" stroke="none" stroke-width="0" fill="#d8d8d8" />
<ellipse cx="652.1" cy="447.8" rx="1" ry="0.85" stroke="none" stroke-width="0" fill="#d8d8d8" />
<ellipse cx="653.3" cy="450.6" rx="1" ry="0.85" stroke="none" stroke-width="0" fill="#d8d8d8" />
<ellipse cx="654.5" cy="453.4" rx="1" ry="0.85" stroke="none" stroke-width="0" fill="#d8d8d8" />
<ellipse cx="655.7" cy="456.2" rx="1" ry="0.85" stroke="none" stroke-width="0" fill="#d8d8d8" />
<ellipse cx="656.9" cy="459" rx="1" ry="0.85" stroke="none" stroke-width="0" fill="#d8d8d8" />
<ellipse cx="658.1" cy="461.8" rx="1" ry="0.85" stroke="none" stroke-width="0" fill="#d8d8d8" />
<ellipse cx="659.3" cy="464.6" rx="1" ry="0.85" stroke="none" stroke-width="0" fill="#d8d8d8" />
<ellipse cx="660.5" cy="467.4" rx="1" ry="0.85" stroke="none" stroke-width="0" fill="#d8d8d8" />
<ellipse cx="661.7" cy="470.2" rx="1" ry="0.85" stroke="none" stroke-width="0" fill="#d8d8d8" />
<ellipse cx="662.9" cy="473" rx="1" ry="0.85" stroke="none" stroke-width="0" fill="#d8d8d8" />
<ellipse cx="664.1" cy="475.8" rx="1" ry="0.85" stroke="none" stroke-width="0" fill="#d8d8d8" />
<ellipse cx="665.3" cy="478.6" rx="1" ry="0.85" stroke="none" stroke-width="0" fill="#d8d8d8" />
<ellipse cx="666.5" cy="481.4" rx="1" ry="0.85" stroke="none" stroke-width="0" fill="#d8d8d8" />
<ellipse cx="667.7" cy="484.2" rx="1" ry="0.85" stroke="none" stroke-width="0" fill="#d8d8d8" />
<ellipse cx="668.9" cy="487" rx="1" ry="0.85" stroke="none" stroke-width="0" fill="#d8d8d8" />
<ellipse cx="670.1" cy="489.8" rx="1" ry="0.85" stroke="none" stroke-width="0" fill="#d8d8d8" />
<ellipse cx="649" cy="434.8" rx="1" ry="0.85" stroke="none" stroke-width="0" fill="#d8d8d8" />
<ellipse cx="650.2" cy="437.6" rx="1" ry="0.85" stroke="none" stroke-width="0" fill="#d8d8d8" />
<ellipse cx="651.4" cy="440.4" rx="1" ry="0.85" stroke="none" stroke-width="0" fill="#d8d8d8" />
<ellipse cx="652.6" cy="443.2" rx="1" ry="0.85" stroke="none" stroke-width="0" fill="#d8d8d8" />
<ellipse cx="653.8" cy="446" rx="1" ry="0.85" stroke="none" stroke-width="0" fill="#d8d8d8" />
<ellipse cx="655" cy="448.8" rx="1" ry="0.85" stroke="none" stroke-width="0" fill="#d8d8d8" />
<ellipse cx="656.2" cy="451.6" rx="1" ry="0.85" stroke="none" stroke-width="0" fill="#d8d8d8" />
<ellipse cx="657.4" cy="454.4" rx="1" ry="0.85" stroke="none" stroke-width="0" fill="#d8d8d8" />
<ellipse cx="658.6" cy="457.2" rx="1" ry="0.85" stroke="none" stroke-width="0" fill="#d8d8d8" />
<ellipse cx="659.8" cy="460" rx="1" ry="0.85" stroke="none" stroke-width="0" fill="#d8d8d8" />
<ellipse cx="661" cy="462.8" rx="1" ry="0.85" stroke="none" stroke-width="0" fill="#d8d8d8" />
<ellipse cx="662.2" cy="465.6" rx="1" ry="0.85" stroke="none" stroke-width="0" fill="#d8d8d8" />
<ellipse cx="663.4" cy="468.4" rx="1" ry="0.85" stroke="none" stroke-width="0" fill="#d8d8d8" />
<ellipse cx="664.6" cy="471.2" rx="1" ry="0.85" stroke="none" stroke-width="0" fill="#d8d8d8" />
<ellipse cx="665.8" cy="474" rx="1" ry="0.85" stroke="none" stroke-width="0" fill="#d8d8d8" />
<ellipse cx="667" cy="476.8" rx="1" ry="0.85" stroke="none" stroke-width="0" fill="#d8d8d8" />
<ellipse cx="668.2" cy="479.6" rx="1" ry="0.85" stroke="none" stroke-width="0" fill="#d8d8d8" />
<ellipse cx="669.4" cy="482.4" rx="1" ry="0.85" stroke="none" stroke-width="0" fill="#d8d8d8" />
<ellipse cx="670.6" cy="485.2" rx="1" ry="0.85" stroke="none" stroke-width="0" fill="#d8d8d8" />
<ellipse cx="671.8" cy="488" rx="1" ry="0.85" stroke="none" stroke-width="0" fill="#d8d8d8" />
<ellipse cx="673" cy="490.8" rx="1" ry="0.85" stroke="none" stroke-width="0" fill="#d8d8d8" />
<ellipse cx="651.9" cy="435.8" rx="1" ry="0.85" stroke="none" stroke-width="0" fill="#d8d8d8" />
<ellipse cx="653.1" cy="438.6" rx="1" ry="0.85" stroke="none" stroke-width="0" fill="#d8d8d8" />
<ellipse cx="654.3" cy="441.4" rx="1" ry="0.85" stroke="none" stroke-width="0" fill="#d8d8d8" />
<ellipse cx="655.5" cy="444.2" rx="1" ry="0.85" stroke="none" stroke-width="0" fill="#d8d8d8" />
<ellipse cx="656.7" cy="447" rx="1" ry="0.85" stroke="none" stroke-width="0" fill="#d8d8d8" />
<ellipse cx="657.9" cy="449.8" rx="1" ry="0.85" stroke="none" stroke-width="0" fill="#d8d8d8" />
<ellipse cx="659.1" cy="452.6" rx="1" ry="0.85" stroke="none" stroke-width="0" fill="#d8d8d8" />
<ellipse cx="660.3" cy="455.4" rx="1" ry="0.85" stroke="none" stroke-width="0" fill="#d8d8d8" />
<ellipse cx="661.5" cy="458.2" rx="1" ry="0.85" stroke="none" stroke-width="0" fill="#d8d8d8" />
<ellipse cx="662.7" cy="461" rx="1" ry="0.85" stroke="none" stroke-width="0" fill="#d8d8d8" />
<ellipse cx="663.9" cy="463.8" rx="1" ry="0.85" stroke="none" stroke-width="0" fill="#d8d8d8" />
<ellipse cx="665.1" cy="466.6" rx="1" ry="0.85" stroke="none" stroke-width="0" fill="#d8d8d8" />
<ellipse cx="666.3" cy="469.4" rx="1" ry="0.85" stroke="none" stroke-width="0" fill="#d8d8d8" />
<ellipse cx="667.5" cy="472.2" rx="1" ry="0.85" stroke="none" stroke-width="0" fill="#d8d8d8" />
<ellipse cx="668.7" cy="475" rx="1" ry="0.85" stroke="none" stroke-width="0" fill="#d8d8d8" />
<ellipse cx="669.9" cy="477.8" rx="1" ry="0.85" stroke="none" stroke-width="0" fill="#d8d8d8" />
<ellipse cx="671.1" cy="480.6" rx="1" ry="0.85" stroke="none" stroke-width="0" fill="#d8d8d8" />
<ellipse cx="672.3" cy="483.4" rx="1" ry="0.85" stroke="none" stroke-width="0" fill="#d8d8d8" />
<ellipse cx="673.5" cy="486.2" rx="1" ry="0.85" stroke="none" stroke-width="0" fill="#d8d8d8" />
<ellipse cx="674.7" cy="489" rx="1" ry="0.85" stroke="none" stroke-width="0" fill="#d8d8d8" />
<ellipse cx="675.9" cy="491.8" rx="1" ry="0.85" stroke="none" stroke-width="0" fill="#d8d8d8" />
<ellipse cx="654.8" cy="436.8" rx="1" ry="0.85" stroke="none" stroke-width="0" fill="#d8d8d8" />
<ellipse cx="656" cy="439.6" rx="1" ry="0.85" stroke="none" stroke-width="0" fill="#d8d8d8" />
<ellipse cx="657.2" cy="442.4" rx="1" ry="0.85" stroke="none" stroke-width="0" fill="#d8d8d8" />
<ellipse cx="658.4" cy="445.2" rx="1" ry="0.85" stroke="none" stroke-width="0" fill="#d8d8d8" />
<ellipse cx="659.6" cy="448" rx="1" ry="0.85" stroke="none" stroke-width="0" fill="#d8d8d8" />
<ellipse cx="660.8" cy="450.8" rx="1" ry="0.85" stroke="none" stroke-width="0" fill="#d8d8d8" />
<ellipse cx="662" cy="453.6" rx="1" ry="0.85" stroke="none" stroke-width="0" fill="#d8d8d8" />
<ellipse cx="663.2" cy="456.4" rx="1" ry="0.85" stroke="none" stroke-width="0" fill="#d8d8d8" />
<ellipse cx="664.4" cy="459.2" rx="1" ry="0.85" stroke="none" stroke-width="0" fill="#d8d8d8" />
<ellipse cx="665.6" cy="462" rx="1" ry="0.85" stroke="none" stroke-width="0" fill="#d8d8d8" />
<ellipse cx="666.8" cy="464.8" rx="1" ry="0.85" stroke="none" stroke-width="0" fill="#d8d8d8" />
<ellipse cx="668" cy="467.6" rx="1" ry="0.85" stroke="none" stroke-width="0" fill="#d8d8d8" />
<ellipse cx="669.2" cy="470.4" rx="1" ry="0.85" stroke="none" stroke-width="0" fill="#d8d8d8" />
<ellipse cx="670.4" cy="473.2" rx="1" ry="0.85" stroke="none" stroke-width="0" fill="#d8d8d8" />
<ellipse cx="671.6" cy="476" rx="1" ry="0.85" stroke="none" stroke-width="0" fill="#d8d8d8" />
<ellipse cx="672.8" cy="478.8" rx="1" ry="0.85" stroke="none" stroke-width="0" fill="#d8d8d8" />
<ellipse cx="674" cy="481.6" rx="1" ry="0.85" stroke="none" stroke-width="0" fill="#d8d8d8" />
<ellipse cx="675.2" cy="484.4" rx="1" ry="0.85" stroke="none" stroke-width="0" fill="#d8d8d8" />
<ellipse cx="676.4" cy="487.2" rx="1" ry="0.85" stroke="none" stroke-width="0" fill="#d8d8d8" />
<ellipse cx="677.6" cy="490" rx="1" ry="0.85" stroke="none" stroke-width="0" fill="#d8d8d8" />
<ellipse cx="678.8" cy="492.8" rx="1" ry="0.85" stroke="none" stroke-width="0" fill="#d8d8d8" />
<ellipse cx="657.7" cy="437.8" rx="1" ry="0.85" stroke="none" stroke-width="0" fill="#d8d8d8" />
<ellipse cx="658.9" cy="440.6" rx="1" ry="0.85" stroke="none" stroke-width="0" fill="#d8d8d8" />
<ellipse cx="660.1" cy="443.4" rx="1" ry="0.85" stroke="none" stroke-width="0" fill="#d8d8d8" />
<ellipse cx="661.3" cy="446.2" rx="1" ry="0.85" stroke="none" stroke-width="0" fill="#d8d8d8" />
<ellipse cx="662.5" cy="449" rx="1" ry="0.85" stroke="none" stroke-width="0" fill="#d8d8d8" />
<ellipse cx="663.7" cy="451.8" rx="1" ry="0.85" stroke="none" stroke-width="0" fill="#d8d8d8" />
<ellipse cx="664.9" cy="454.6" rx="1" ry="0.85" stroke="none" stroke-width="0" fill="#d8d8d8" />
<ellipse cx="666.1" cy="457.4" rx="1" ry="0.85" stroke="none" stroke-width="0" fill="#d8d8d8" />
<ellipse cx="667.3" cy="460.2" rx="1" ry="0.85" stroke="none" stroke-width="0" fill="#d8d8d8" />
<ellipse cx="668.5" cy="463" rx="1" ry="0.85" stroke="none" stroke-width="0" fill="#d8d8d8" />
<ellipse cx="669.7" cy="465.8" rx="1" ry="0.85" stroke="none" stroke-width="0" fill="#d8d8d8" />
<ellipse cx="670.9" cy="468.6" rx="1" ry="0.85" stroke="none" stroke-width="0" fill="#d8d8d8" />
<ellipse cx="672.1" cy="471.4" rx="1" ry="0.85" stroke="none" stroke-width="0" fill="#d8d8d8" />
<ellipse cx="673.3" cy="474.2" rx="1" ry="0.85" stroke="none" stroke-width="0" fill="#d8d8d8" />
<ellipse cx="674.5" cy="477" rx="1" ry="0.85" stroke="none" stroke-width="0" fill="#d8d8d8" />
<ellipse cx="675.7" cy="479.8" rx="1" ry="0.85" stroke="none" stroke-width="0" fill="#d8d8d8" />
<ellipse cx="676.9" cy="482.6" rx="1" ry="0.85" stroke="none" stroke-width="0" fill="#d8d8d8" />
<ellipse cx="678.1" cy="485.4" rx="1" ry="0.85" stroke="none" stroke-width="0" fill="#d8d8d8" />
<ellipse cx="679.3" cy="488.2" rx="1" ry="0.85" stroke="none" stroke-width="0" fill="#d8d8d8" />
<ellipse cx="680.5" cy="491" rx="1" ry="0.85" stroke="none" stroke-width="0" fill="#d8d8d8" />
<ellipse cx="681.7" cy="493.8" rx="1" ry="0.85" stroke="none" stroke-width="0" fill="#d8d8d8" />
<ellipse cx="660.6" cy="438.8" rx="1" ry="0.85" stroke="none" stroke-width="0" fill="#d8d8d8" />
<ellipse cx="661.8" cy="441.6" rx="1" ry="0.85" stroke="none" stroke-width="0" fill="#d8d8d8" />
<ellipse cx="663" cy="444.4" rx="1" ry="0.85" stroke="none" stroke-width="0" fill="#d8d8d8" />
<ellipse cx="664.2" cy="447.2" rx="1" ry="0.85" stroke="none" stroke-width="0" fill="#d8d8d8" />
<ellipse cx="665.4" cy="450" rx="1" ry="0.85" stroke="none" stroke-width="0" fill="#d8d8d8" />
<ellipse cx="666.6" cy="452.8" rx="1" ry="0.85" stroke="none" stroke-width="0" fill="#d8d8d8" />
<ellipse cx="667.8" cy="455.6" rx="1" ry="0.85" stroke="none" stroke-width="0" fill="#d8d8d8" />
<ellipse cx="669" cy="458.4" rx="1" ry="0.85" stroke="none" stroke-width="0" fill="#d8d8d8" />
<ellipse cx="670.2" cy="461.2" rx="1" ry="0.85" stroke="none" stroke-width="0" fill="#d8d8d8" />
<ellipse cx="671.4" cy="464" rx="1" ry="0.85" stroke="none" stroke-width="0" fill="#d8d8d8" />
<ellipse cx="672.6" cy="466.8" rx="1" ry="0.85" stroke="none" stroke-width="0" fill="#d8d8d8" />
<ellipse cx="673.8" cy="469.6" rx="1" ry="0.85" stroke="none" stroke-width="0" fill="#d8d8d8" />
<ellipse cx="675" cy="472.4" rx="1" ry="0.85" stroke="none" stroke-width="0" fill="#d8d8d8" />
<ellipse cx="676.2" cy="475.2" rx="1" ry="0.85" stroke="none" stroke-width="0" fill="#d8d8d8" />
<ellipse cx="677.4" cy="478" rx="1" ry="0.85" stroke="none" stroke-width="0" fill="#d8d8d8" />
<ellipse cx="678.6" cy="480.8" rx="1" ry="0.85" stroke="none" stroke-width="0" fill="#d8d8d8" />
<ellipse cx="679.8" cy="483.6" rx="1" ry="0.85" stroke="none" stroke-width="0" fill="#d8d8d8" />
<ellipse cx="681" cy="486.4" rx="1" ry="0.85" stroke="none" stroke-width="0" fill="#d8d8d8" />
<ellipse cx="682.2" cy="489.2" rx="1" ry="0.85" stroke="none" stroke-width="0" fill="#d8d8d8" />
<ellipse cx="683.4" cy="492" rx="1" ry="0.85" stroke="none" stroke-width="0" fill="#d8d8d8" />
<ellipse cx="684.6" cy="494.8" rx="1" ry="0.85" stroke="none" stroke-width="0" fill="#d8d8d8" />
<ellipse cx="663.5" cy="439.8" rx="1" ry="0.85" stroke="none" stroke-width="0" fill="#d8d8d8" />
<ellipse cx="664.7" cy="442.6" rx="1" ry="0.85" stroke="none" stroke-width="0" fill="#d8d8d8" />
<ellipse cx="665.9" cy="445.4" rx="1" ry="0.85" stroke="none" stroke-width="0" fill="#d8d8d8" />
<ellipse cx="667.1" cy="448.2" rx="1" ry="0.85" stroke="none" stroke-width="0" fill="#d8d8d8" />
<ellipse cx="668.3" cy="451" rx="1" ry="0.85" stroke="none" stroke-width="0" fill="#d8d8d8" />
<ellipse cx="669.5" cy="453.8" rx="1" ry="0.85" stroke="none" stroke-width="0" fill="#d8d8d8" />
<ellipse cx="670.7" cy="456.6" rx="1" ry="0.85" stroke="none" stroke-width="0" fill="#d8d8d8" />
<ellipse cx="671.9" cy="459.4" rx="1" ry="0.85" stroke="none" stroke-width="0" fill="#d8d8d8" />
<ellipse cx="673.1" cy="462.2" rx="1" ry="0.85" stroke="none" stroke-width="0" fill="#d8d8d8" />
<ellipse cx="674.3" cy="465" rx="1" ry="0.85" stroke="none" stroke-width="0" fill="#d8d8d8" />
<ellipse cx="675.5" cy="467.8" rx="1" ry="0.85" stroke="none" stroke-width="0" fill="#d8d8d8" />
<ellipse cx="676.7" cy="470.6" rx="1" ry="0.85" stroke="none" stroke-width="0" fill="#d8d8d8" />
<ellipse cx="677.9" cy="473.4" rx="1" ry="0.85" stroke="none" stroke-width="0" fill="#d8d8d8" />
<ellipse cx="679.1" cy="476.2" rx="1" ry="0.85" stroke="none" stroke-width="0" fill="#d8d8d8" />
<ellipse cx="680.3" cy="479" rx="1" ry="0.85" stroke="none" stroke-width="0" fill="#d8d8d8" />
<ellipse cx="681.5" cy="481.8" rx="1" ry="0.85" stroke="none" stroke-width="0" fill="#d8d8d8" />
<ellipse cx="682.7" cy="484.6" rx="1" ry="0.85" stroke="none" stroke-width="0" fill="#d8d8d8" />
<ellipse cx="683.9" cy="487.4" rx="1" ry="0.85" stroke="none" stroke-width="0" fill="#d8d8d8" />
<ellipse cx="685.1" cy="490.2" rx="1" ry="0.85" stroke="none" stroke-width="0" fill="#d8d8d8" />
<ellipse cx="686.3" cy="493" rx="1" ry="0.85" stroke="none" stroke-width="0" fill="#d8d8d8" />
<ellipse cx="687.5" cy="495.8" rx="1" ry="0.85" stroke="none" stroke-width="0" fill="#d8d8d8" />
<ellipse cx="666.4" cy="440.8" rx="1" ry="0.85" stroke="none" stroke-width="0" fill="#d8d8d8" />
<ellipse cx="667.6" cy="443.6" rx="1" ry="0.85" stroke="none" stroke-width="0" fill="#d8d8d8" />
<ellipse cx="668.8" cy="446.4" rx="1" ry="0.85" stroke="none" stroke-width="0" fill="#d8d8d8" />
<ellipse cx="670" cy="449.2" rx="1" ry="0.85" stroke="none" stroke-width="0" fill="#d8d8d8" />
<ellipse cx="671.2" cy="452" rx="1" ry="0.85" stroke="none" stroke-width="0" fill="#d8d8d8" />
<ellipse cx="672.4" cy="454.8" rx="1" ry="0.85" stroke="none" stroke-width="0" fill="#d8d8d8" />
<ellipse cx="673.6" cy="457.6" rx="1" ry="0.85" stroke="none" stroke-width="0" fill="#d8d8d8" />
<ellipse cx="674.8" cy="460.4" rx="1" ry="0.85" stroke="none" stroke-width="0" fill="#d8d8d8" />
<ellipse cx="676" cy="463.2" rx="1" ry="0.85" stroke="none" stroke-width="0" fill="#d8d8d8" />
<ellipse cx="677.2" cy="466" rx="1" ry="0.85" stroke="none" stroke-width="0" fill="#d8d8d8" />
<ellipse cx="678.4" cy="468.8" rx="1" ry="0.85" stroke="none" stroke-width="0" fill="#d8d8d8" />
<ellipse cx="679.6" cy="471.6" rx="1" ry="0.85" stroke="none" stroke-width="0" fill="#d8d8d8" />
<ellipse cx="680.8" cy="474.4" rx="1" ry="0.85" stroke="none" stroke-width="0" fill="#d8d8d8" />
<ellipse cx="682" cy="477.2" rx="1" ry="0.85" stroke="none" stroke-width="0" fill="#d8d8d8" />
<ellipse cx="683.2" cy="480" rx="1" ry="0.85" stroke="none" stroke-width="0" fill="#d8d8d8" />
<ellipse cx="684.4" cy="482.8" rx="1" ry="0.85" stroke="none" stroke-width="0" fill="#d8d8d8" />
<ellipse cx="685.6" cy="485.6" rx="1" ry="0.85" stroke="none" stroke-width="0" fill="#d8d8d8" />
<ellipse cx="686.8" cy="488.4" rx="1" ry="0.85" stroke="none" stroke-width="0" fill="#d8d8d8" />
<ellipse cx="688" cy="491.2" rx="1" ry="0.85" stroke="none" stroke-width="0" fill="#d8d8d8" />
<ellipse cx="689.2" cy="494" rx="1" ry="0.85" stroke="none" stroke-width="0" fill="#d8d8d8" />
<ellipse cx="690.4" cy="496.8" rx="1" ry="0.85" stroke="none" stroke-width="0" fill="#d8d8d8" />
<ellipse cx="669.3" cy="441.8" rx="1" ry="0.85" stroke="none" stroke-width="0" fill="#d8d8d8" />
<ellipse cx="670.5" cy="444.6" rx="1" ry="0.85" stroke="none" stroke-width="0" fill="#d8d8d8" />
<ellipse cx="671.7" cy="447.4" rx="1" ry="0.85" stroke="none" stroke-width="0" fill="#d8d8d8" />
<ellipse cx="672.9" cy="450.2" rx="1" ry="0.85" stroke="none" stroke-width="0" fill="#d8d8d8" />
<ellipse cx="674.1" cy="453" rx="1" ry="0.85" stroke="none" stroke-width="0" fill="#d8d8d8" />
<ellipse cx="675.3" cy="455.8" rx="1" ry="0.85" stroke="none" stroke-width="0" fill="#d8d8d8" />
<ellipse cx="676.5" cy="458.6" rx="1" ry="0.85" stroke="none" stroke-width="0" fill="#d8d8d8" />
<ellipse cx="677.7" cy="461.4" rx="1" ry="0.85" stroke="none" stroke-width="0" fill="#d8d8d8" />
<ellipse cx="678.9" cy="464.2" rx="1" ry="0.85" stroke="none" stroke-width="0" fill="#d8d8d8" />
<ellipse cx="680.1" cy="467" rx="1" ry="0.85" stroke="none" stroke-width="0" fill="#d8d8d8" />
<ellipse cx="681.3" cy="469.8" rx="1" ry="0.85" stroke="none" stroke-width="0" fill="#d8d8d8" />
<ellipse cx="682.5" cy="472.6" rx="1" ry="0.85" stroke="none" stroke-width="0" fill="#d8d8d8" />
<ellipse cx="683.7" cy="475.4" rx="1" ry="0.85" stroke="none" stroke-width="0" fill="#d8d8d8" />
<ellipse cx="684.9" cy="478.2" rx="1" ry="0.85" stroke="none" stroke-width="0" fill="#d8d8d8" />
<ellipse cx="686.1" cy="481" rx="1" ry="0.85" stroke="none" stroke-width="0" fill="#d8d8d8" />
<ellipse cx="687.3" cy="483.8" rx="1" ry="0.85" stroke="none" stroke-width="0" fill="#d8d8d8" />
<ellipse cx="688.5" cy="486.6" rx="1" ry="0.85" stroke="none" stroke-width="0" fill="#d8d8d8" />
<ellipse cx="689.7" cy="489.4" rx="1" ry="0.85" stroke="none" stroke-width="0" fill="#d8d8d8" />
<ellipse cx="690.9" cy="492.2" rx="1" ry="0.85" stroke="none" stroke-width="0" fill="#d8d8d8" />
<ellipse cx="692.1" cy="495" rx="1" ry="0.85" stroke="none" stroke-width="0" fill="#d8d8d8" />
<ellipse cx="693.3" cy="497.8" rx="1" ry="0.85" stroke="none" stroke-width="0" fill="#d8d8d8" />
<ellipse cx="672.2" cy="442.8" rx="1" ry="0.85" stroke="none" stroke-width="0" fill="#d8d8d8" />
<ellipse cx="673.4" cy="445.6" rx="1" ry="0.85" stroke="none" stroke-width="0" fill="#d8d8d8" />
<ellipse cx="674.6" cy="448.4" rx="1" ry="0.85" stroke="none" stroke-width="0" fill="#d8d8d8" />
<ellipse cx="675.8" cy="451.2" rx="1" ry="0.85" stroke="none" stroke-width="0" fill="#d8d8d8" />
<ellipse cx="677" cy="454" rx="1" ry="0.85" stroke="none" stroke-width="0" fill="#d8d8d8" />
<ellipse cx="678.2" cy="456.8" rx="1" ry="0.85" stroke="none" stroke-width="0" fill="#d8d8d8" />
<ellipse cx="679.4" cy="459.6" rx="1" ry="0.85" stroke="none" stroke-width="0" fill="#d8d8d8" />
<ellipse cx="680.6" cy="462.4" rx="1" ry="0.85" stroke="none" stroke-width="0" fill="#d8d8d8" />
<ellipse cx="681.8" cy="465.2" rx="1" ry="0.85" stroke="none" stroke-width="0" fill="#d8d8d8" />
<ellipse cx="683" cy="468" rx="1" ry="0.85" stroke="none" stroke-width="0" fill="#d8d8d8" />
<ellipse cx="684.2" cy="470.8" rx="1" ry="0.85" stroke="none" stroke-width="0" fill="#d8d8d8" />
<ellipse cx="685.4" cy="473.6" rx="1" ry="0.85" stroke="none" stroke-width="0" fill="#d8d8d8" />
<ellipse cx="686.6" cy="476.4" rx="1" ry="0.85" stroke="none" stroke-width="0" fill="#d8d8d8" />
<ellipse cx="687.8" cy="479.2" rx="1" ry="0.85" stroke="none" stroke-width="0" fill="#d8d8d8" />
<ellipse cx="689" cy="482" rx="1" ry="0.85" stroke="none" stroke-width="0" fill="#d8d8d8" />
<ellipse cx="690.2" cy="484.8" rx="1" ry="0.85" stroke="none" stroke-width="0" fill="#d8d8d8" />
<ellipse cx="691.4" cy="487.6" rx="1" ry="0.85" stroke="none" stroke-width="0" fill="#d8d8d8" />
<ellipse cx="692.6" cy="490.4" rx="1" ry="0.85" stroke="none" stroke-width="0" fill="#d8d8d8" />
<ellipse cx="693.8" cy="493.2" rx="1" ry="0.85" stroke="none" stroke-width="0" fill="#d8d8d8" />
<ellipse cx="695" cy="496" rx="1" ry="0.85" stroke="none" stroke-width="0" fill="#d8d8d8" />
<ellipse cx="696.2" cy="498.8" rx="1" ry="0.85" stroke="none" stroke-width="0" fill="#d8d8d8" />
<ellipse cx="675.1" cy="443.8" rx="1" ry="0.85" stroke="none" stroke-width="0" fill="#d8d8d8" />
<ellipse cx="676.3" cy="446.6" rx="1" ry="0.85" stroke="none" stroke-width="0" fill="#d8d8d8" />
<ellipse cx="677.5" cy="449.4" rx="1" ry="0.85" stroke="none" stroke-width="0" fill="#d8d8d8" />
<ellipse cx="678.7" cy="452.2" rx="1" ry="0.85" stroke="none" stroke-width="0" fill="#d8d8d8" />
<ellipse cx="679.9" cy="455" rx="1" ry="0.85" stroke="none" stroke-width="0" fill="#d8d8d8" />
<ellipse cx="681.1" cy="457.8" rx="1" ry="0.85" stroke="none" stroke-width="0" fill="#d8d8d8" />
<ellipse cx="682.3" cy="460.6" rx="1" ry="0.85" stroke="none" stroke-width="0" fill="#d8d8d8" />
<ellipse cx="683.5" cy="463.4" rx="1" ry="0.85" stroke="none" stroke-width="0" fill="#d8d8d8" />
<ellipse cx="684.7" cy="466.2" rx="1" ry="0.85" stroke="none" stroke-width="0" fill="#d8d8d8" />
<ellipse cx="685.9" cy="469" rx="1" ry="0.85" stroke="none" stroke-width="0" fill="#d8d8d8" />
<ellipse cx="687.1" cy="471.8" rx="1" ry="0.85" stroke="none" stroke-width="0" fill="#d8d8d8" />
<ellipse cx="688.3" cy="474.6" rx="1" ry="0.85" stroke="none" stroke-width="0" fill="#d8d8d8" />
<ellipse cx="689.5" cy="477.4" rx="1" ry="0.85" stroke="none" stroke-width="0" fill="#d8d8d8" />
<ellipse cx="690.7" cy="480.2" rx="1" ry="0.85" stroke="none" stroke-width="0" fill="#d8d8d8" />
<ellipse cx="691.9" cy="483" rx="1" ry="0.85" stroke="none" stroke-width="0" fill="#d8d8d8" />
<ellipse cx="693.1" cy="485.8" rx="1" ry="0.85" stroke="none" stroke-width="0" fill="#d8d8d8" />
<ellipse cx="694.3" cy="488.6" rx="1" ry="0.85" stroke="none" stroke-width="0" fill="#d8d8d8" />
<ellipse cx="695.5" cy="491.4" rx="1" ry="0.85" stroke="none" stroke-width="0" fill="#d8d8d8" />
<ellipse cx="696.7" cy="494.2" rx="1" ry="0.85" stroke="none" stroke-width="0" fill="#d8d8d8" />
<ellipse cx="697.9" cy="497" rx="1" ry="0.85" stroke="none" stroke-width="0" fill="#d8d8d8" />
<ellipse cx="699.1" cy="499.8" rx="1" ry="0.85" stroke="none" stroke-width="0" fill="#d8d8d8" />
<ellipse cx="678" cy="444.8" rx="1" ry="0.85" stroke="none" stroke-width="0" fill="#d8d8d8" />
<ellipse cx="679.2" cy="447.6" rx="1" ry="0.85" stroke="none" stroke-width="0" fill="#d8d8d8" />
<ellipse cx="680.4" cy="450.4" rx="1" ry="0.85" stroke="none" stroke-width="0" fill="#d8d8d8" />
<ellipse cx="681.6" cy="453.2" rx="1" ry="0.85" stroke="none" stroke-width="0" fill="#d8d8d8" />
<ellipse cx="682.8" cy="456" rx="1" ry="0.85" stroke="none" stroke-width="0" fill="#d8d8d8" />
<ellipse cx="684" cy="458.8" rx="1" ry="0.85" stroke="none" stroke-width="0" fill="#d8d8d8" />
<ellipse cx="685.2" cy="461.6" rx="1" ry="0.85" stroke="none" stroke-width="0" fill="#d8d8d8" />
<ellipse cx="686.4" cy="464.4" rx="1" ry="0.85" stroke="none" stroke-width="0" fill="#d8d8d8" />
<ellipse cx="687.6" cy="467.2" rx="1" ry="0.85" stroke="none" stroke-width="0" fill="#d8d8d8" />
<ellipse cx="688.8" cy="470" rx="1" ry="0.85" stroke="none" stroke-width="0" fill="#d8d8d8" />
<ellipse cx="690" cy="472.8" rx="1" ry="0.85" stroke="none" stroke-width="0" fill="#d8d8d8" />
<ellipse cx="691.2" cy="475.6" rx="1" ry="0.85" stroke="none" stroke-width="0" fill="#d8d8d8" />
<ellipse cx="692.4" cy="478.4" rx="1" ry="0.85" stroke="none" stroke-width="0" fill="#d8d8d8" />
<ellipse cx="693.6" cy="481.2" rx="1" ry="0.85" stroke="none" stroke-width="0" fill="#d8d8d8" />
<ellipse cx="694.8" cy="484" rx="1" ry="0.85" stroke="none" stroke-width="0" fill="#d8d8d8" />
<ellipse cx="696" cy="486.8" rx="1" ry="0.85" stroke="none" stroke-width="0" fill="#d8d8d8" />
<ellipse cx="697.2" cy="489.6" rx="1" ry="0.85" stroke="none" stroke-width="0" fill="#d8d8d8" />
<ellipse cx="698.4" cy="492.4" rx="1" ry="0.85" stroke="none" stroke-width="0" fill="#d8d8d8" />
<ellipse cx="699.6" cy="495.2" rx="1" ry="0.85" stroke="none" stroke-width="0" fill="#d8d8d8" />
<ellipse cx="700.8" cy="498" rx="1" ry="0.85" stroke="none" stroke-width="0" fill="#d8d8d8" />
<ellipse cx="702" cy="500.8" rx="1" ry="0.85" stroke="none" stroke-width="0" fill="#d8d8d8" />
<ellipse cx="680.9" cy="445.8" rx="1" ry="0.85" stroke="none" stroke-width="0" fill="#d8d8d8" />
<ellipse cx="682.1" cy="448.6" rx="1" ry="0.85" stroke="none" stroke-width="0" fill="#d8d8d8" />
<ellipse cx="683.3" cy="451.4" rx="1" ry="0.85" stroke="none" stroke-width="0" fill="#d8d8d8" />
<ellipse cx="684.5" cy="454.2" rx="1" ry="0.85" stroke="none" stroke-width="0" fill="#d8d8d8" />
<ellipse cx="685.7" cy="457" rx="1" ry="0.85" stroke="none" stroke-width="0" fill="#d8d8d8" />
<ellipse cx="686.9" cy="459.8" rx="1" ry="0.85" stroke="none" stroke-width="0" fill="#d8d8d8" />
<ellipse cx="688.1" cy="462.6" rx="1" ry="0.85" stroke="none" stroke-width="0" fill="#d8d8d8" />
<ellipse cx="689.3" cy="465.4" rx="1" ry="0.85" stroke="none" stroke-width="0" fill="#d8d8d8" />
<ellipse cx="690.5" cy="468.2" rx="1" ry="0.85" stroke="none" stroke-width="0" fill="#d8d8d8" />
<ellipse cx="691.7" cy="471" rx="1" ry="0.85" stroke="none" stroke-width="0" fill="#d8d8d8" />
<ellipse cx="692.9" cy="473.8" rx="1" ry="0.85" stroke="none" stroke-width="0" fill="#d8d8d8" />
<ellipse cx="694.1" cy="476.6" rx="1" ry="0.85" stroke="none" stroke-width="0" fill="#d8d8d8" />
<ellipse cx="695.3" cy="479.4" rx="1" ry="0.85" stroke="none" stroke-width="0" fill="#d8d8d8" />
<ellipse cx="696.5" cy="482.2" rx="1" ry="0.85" stroke="none" stroke-width="0" fill="#d8d8d8" />
<ellipse cx="697.7" cy="485" rx="1" ry="0.85" stroke="none" stroke-width="0" fill="#d8d8d8" />
<ellipse cx="698.9" cy="487.8" rx="1" ry="0.85" stroke="none" stroke-width="0" fill="#d8d8d8" />
<ellipse cx="700.1" cy="490.6" rx="1" ry="0.85" stroke="none" stroke-width="0" fill="#d8d8d8" />
<ellipse cx="701.3" cy="493.4" rx="1" ry="0.85" stroke="none" stroke-width="0" fill="#d8d8d8" />
<ellipse cx="702.5" cy="496.2" rx="1" ry="0.85" stroke="none" stroke-width="0" fill="#d8d8d8" />
<ellipse cx="703.7" cy="499" rx="1" ry="0.85" stroke="none" stroke-width="0" fill="#d8d8d8" />
<ellipse cx="704.9" cy="501.8" rx="1" ry="0.85" stroke="none" stroke-width="0" fill="#d8d8d8" />
<ellipse cx="683.8" cy="446.8" rx="1" ry="0.85" stroke="none" stroke-width="0" fill="#d8d8d8" />
<ellipse cx="685" cy="449.6" rx="1" ry="0.85" stroke="none" stroke-width="0" fill="#d8d8d8" />
<ellipse cx="686.2" cy="452.4" rx="1" ry="0.85" stroke="none" stroke-width="0" fill="#d8d8d8" />
<ellipse cx="687.4" cy="455.2" rx="1" ry="0.85" stroke="none" stroke-width="0" fill="#d8d8d8" />
<ellipse cx="688.6" cy="458" rx="1" ry="0.85" stroke="none" stroke-width="0" fill="#d8d8d8" />
<ellipse cx="689.8" cy="460.8" rx="1" ry="0.85" stroke="none" stroke-width="0" fill="#d8d8d8" />
<ellipse cx="691" cy="463.6" rx="1" ry="0.85" stroke="none" stroke-width="0" fill="#d8d8d8" />
<ellipse cx="692.2" cy="466.4" rx="1" ry="0.85" stroke="none" stroke-width="0" fill="#d8d8d8" />
<ellipse cx="693.4" cy="469.2" rx="1" ry="0.85" stroke="none" stroke-width="0" fill="#d8d8d8" />
<ellipse cx="694.6" cy="472" rx="1" ry="0.85" stroke="none" stroke-width="0" fill="#d8d8d8" />
<ellipse cx="695.8" cy="474.8" rx="1" ry="0.85" stroke="none" stroke-width="0" fill="#d8d8d8" />
<ellipse cx="697" cy="477.6" rx="1" ry="0.85" stroke="none" stroke-width="0" fill="#d8d8d8" />
<ellipse cx="698.2" cy="480.4" rx="1" ry="0.85" stroke="none" stroke-width="0" fill="#d8d8d8" />
<ellipse cx="699.4" cy="483.2" rx="1" ry="0.85" stroke="none" stroke-width="0" fill="#d8d8d8" />
<ellipse cx="700.6" cy="486" rx="1" ry="0.85" stroke="none" stroke-width="0" fill="#d8d8d8" />
<ellipse cx="701.8" cy="488.8" rx="1" ry="0.85" stroke="none" stroke-width="0" fill="#d8d8d8" />
<ellipse cx="703" cy="491.6" rx="1" ry="0.85" stroke="none" stroke-width="0" fill="#d8d8d8" />
<ellipse cx="704.2" cy="494.4" rx="1" ry="0.85" stroke="none" stroke-width="0" fill="#d8d8d8" />
<ellipse cx="705.4" cy="497.2" rx="1" ry="0.85" stroke="none" stroke-width="0" fill="#d8d8d8" />
<ellipse cx="706.6" cy="500" rx="1" ry="0.85" stroke="none" stroke-width="0" fill="#d8d8d8" />
<ellipse cx="707.8" cy="502.8" rx="1" ry="0.85" stroke="none" stroke-width="0" fill="#d8d8d8" />
<ellipse cx="686.7" cy="447.8" rx="1" ry="0.85" stroke="none" stroke-width="0" fill="#d8d8d8" />
<ellipse cx="687.9" cy="450.6" rx="1" ry="0.85" stroke="none" stroke-width="0" fill="#d8d8d8" />
<ellipse cx="689.1" cy="453.4" rx="1" ry="0.85" stroke="none" stroke-width="0" fill="#d8d8d8" />
<ellipse cx="690.3" cy="456.2" rx="1" ry="0.85" stroke="none" stroke-width="0" fill="#d8d8d8" />
<ellipse cx="691.5" cy="459" rx="1" ry="0.85" stroke="none" stroke-width="0" fill="#d8d8d8" />
<ellipse cx="692.7" cy="461.8" rx="1" ry="0.85" stroke="none" stroke-width="0" fill="#d8d8d8" />
<ellipse cx="693.9" cy="464.6" rx="1" ry="0.85" stroke="none" stroke-width="0" fill="#d8d8d8" />
<ellipse cx="695.1" cy="467.4" rx="1" ry="0.85" stroke="none" stroke-width="0" fill="#d8d8d8" />
<ellipse cx="696.3" cy="470.2" rx="1" ry="0.85" stroke="none" stroke-width="0" fill="#d8d8d8" />
<ellipse cx="697.5" cy="473" rx="1" ry="0.85" stroke="none" stroke-width="0" fill="#d8d8d8" />
<ellipse cx="698.7" cy="475.8" rx="1" ry="0.85" stroke="none" stroke-width="0" fill="#d8d8d8" />
<ellipse cx="699.9" cy="478.6" rx="1" ry="0.85" stroke="none" stroke-width="0" fill="#d8d8d8" />
<ellipse cx="701.1" cy="481.4" rx="1" ry="0.85" stroke="none" stroke-width="0" fill="#d8d8d8" />
<ellipse cx="702.3" cy="484.2" rx="1" ry="0.85" stroke="none" stroke-width="0" fill="#d8d8d8" />
<ellipse cx="703.5" cy="487" rx="1" ry="0.85" stroke="none" stroke-width="0" fill="#d8d8d8" />
<ellipse cx="704.7" cy="489.8" rx="1" ry="0.85" stroke="none" stroke-width="0" fill="#d8d8d8" />
<ellipse cx="705.9" cy="492.6" rx="1" ry="0.85" stroke="none" stroke-width="0" fill="#d8d8d8" />
<ellipse cx="707.1" cy="495.4" rx="1" ry="0.85" stroke="none" stroke-width="0" fill="#d8d8d8" />
<ellipse cx="708.3" cy="498.2" rx="1" ry="0.85" stroke="none" stroke-width="0" fill="#d8d8d8" />
<ellipse cx="709.5" cy="501" rx="1" ry="0.85" stroke="none" stroke-width="0" fill="#d8d8d8" />
<ellipse cx="710.7" cy="503.8" rx="1" ry="0.85" stroke="none" stroke-width="0" fill="#d8d8d8" />
<ellipse cx="689.6" cy="448.8" rx="1" ry="0.85" stroke="none" stroke-width="0" fill="#d8d8d8" />
<ellipse cx="690.8" cy="451.6" rx="1" ry="0.85" stroke="none" stroke-width="0" fill="#d8d8d8" />
<ellipse cx="692" cy="454.4" rx="1" ry="0.85" stroke="none" stroke-width="0" fill="#d8d8d8" />
<ellipse cx="693.2" cy="457.2" rx="1" ry="0.85" stroke="none" stroke-width="0" fill="#d8d8d8" />
<ellipse cx="694.4" cy="460" rx="1" ry="0.85" stroke="none" stroke-width="0" fill="#d8d8d8" />
<ellipse cx="695.6" cy="462.8" rx="1" ry="0.85" stroke="none" stroke-width="0" fill="#d8d8d8" />
<ellipse cx="696.8" cy="465.6" rx="1" ry="0.85" stroke="none" stroke-width="0" fill="#d8d8d8" />
<ellipse cx="698" cy="468.4" rx="1" ry="0.85" stroke="none" stroke-width="0" fill="#d8d8d8" />
<ellipse cx="699.2" cy="471.2" rx="1" ry="0.85" stroke="none" stroke-width="0" fill="#d8d8d8" />
<ellipse cx="700.4" cy="474" rx="1" ry="0.85" stroke="none" stroke-width="0" fill="#d8d8d8" />
<ellipse cx="701.6" cy="476.8" rx="1" ry="0.85" stroke="none" stroke-width="0" fill="#d8d8d8" />
<ellipse cx="702.8" cy="479.6" rx="1" ry="0.85" stroke="none" stroke-width="0" fill="#d8d8d8" />
<ellipse cx="704" cy="482.4" rx="1" ry="0.85" stroke="none" stroke-width="0" fill="#d8d8d8" />
<ellipse cx="705.2" cy="485.2" rx="1" ry="0.85" stroke="none" stroke-width="0" fill="#d8d8d8" />
<ellipse cx="706.4" cy="488" rx="1" ry="0.85" stroke="none" stroke-width="0" fill="#d8d8d8" />
<ellipse cx="707.6" cy="490.8" rx="1" ry="0.85" stroke="none" stroke-width="0" fill="#d8d8d8" />
<ellipse cx="708.8" cy="493.6" rx="1" ry="0.85" stroke="none" stroke-width="0" fill="#d8d8d8" />
<ellipse cx="710" cy="496.4" rx="1" ry="0.85" stroke="none" stroke-width="0" fill="#d8d8d8" />
<ellipse cx="711.2" cy="499.2" rx="1" ry="0.85" stroke="none" stroke-width="0" fill="#d8d8d8" />
<ellipse cx="712.4" cy="502" rx="1" ry="0.85" stroke="none" stroke-width="0" fill="#d8d8d8" />
<ellipse cx="713.6" cy="504.8" rx="1" ry="0.85" stroke="none" stroke-width="0" fill="#d8d8d8" />
<ellipse cx="692.5" cy="449.8" rx="1" ry="0.85" stroke="none" stroke-width="0" fill="#d8d8d8" />
<ellipse cx="693.7" cy="452.6" rx="1" ry="0.85" stroke="none" stroke-width="0" fill="#d8d8d8" />
<ellipse cx="694.9" cy="455.4" rx="1" ry="0.85" stroke="none" stroke-width="0" fill="#d8d8d8" />
<ellipse cx="696.1" cy="458.2" rx="1" ry="0.85" stroke="none" stroke-width="0" fill="#d8d8d8" />
<ellipse cx="697.3" cy="461" rx="1" ry="0.85" stroke="none" stroke-width="0" fill="#d8d8d8" />
<ellipse cx="698.5" cy="463.8" rx="1" ry="0.85" stroke="none" stroke-width="0" fill="#d8d8d8" />
<ellipse cx="699.7" cy="466.6" rx="1" ry="0.85" stroke="none" stroke-width="0" fill="#d8d8d8" />
<ellipse cx="700.9" cy="469.4" rx="1" ry="0.85" stroke="none" stroke-width="0" fill="#d8d8d8" />
<ellipse cx="702.1" cy="472.2" rx="1" ry="0.85" stroke="none" stroke-width="0" fill="#d8d8d8" />
<ellipse cx="703.3" cy="475" rx="1" ry="0.85" stroke="none" stroke-width="0" fill="#d8d8d8" />
<ellipse cx="704.5" cy="477.8" rx="1" ry="0.85" stroke="none" stroke-width="0" fill="#d8d8d8" />
<ellipse cx="705.7" cy="480.6" rx="1" ry="0.85" stroke="none" stroke-width="0" fill="#d8d8d8" />
<ellipse cx="706.9" cy="483.4" rx="1" ry="0.85" stroke="none" stroke-width="0" fill="#d8d8d8" />
<ellipse cx="708.1" cy="486.2" rx="1" ry="0.85" stroke="none" stroke-width="0" fill="#d8d8d8" />
<ellipse cx="709.3" cy="489" rx="1" ry="0.85" stroke="none" stroke-width="0" fill="#d8d8d8" />
<ellipse cx="710.5" cy="491.8" rx="1" ry="0.85" stroke="none" stroke-width="0" fill="#d8d8d8" />
<ellipse cx="711.7" cy="494.6" rx="1" ry="0.85" stroke="none" stroke-width="0" fill="#d8d8d8" />
<ellipse cx="712.9" cy="497.4" rx="1" ry="0.85" stroke="none" stroke-width="0" fill="#d8d8d8" />
<ellipse cx="714.1" cy="500.2" rx="1" ry="0.85" stroke="none" stroke-width="0" fill="#d8d8d8" />
<ellipse cx="715.3" cy="503" rx="1" ry="0.85" stroke="none" stroke-width="0" fill="#d8d8d8" />
<ellipse cx="716.5" cy="505.8" rx="1" ry="0.85" stroke="none" stroke-width="0" fill="#d8d8d8" />
<ellipse cx="695.4" cy="450.8" rx="1" ry="0.85" stroke="none" stroke-width="0" fill="#d8d8d8" />
<ellipse cx="696.6" cy="453.6" rx="1" ry="0.85" stroke="none" stroke-width="0" fill="#d8d8d8" />
<ellipse cx="697.8" cy="456.4" rx="1" ry="0.85" stroke="none" stroke-width="0" fill="#d8d8d8" />
<ellipse cx="699" cy="459.2" rx="1" ry="0.85" stroke="none" stroke-width="0" fill="#d8d8d8" />
<ellipse cx="700.2" cy="462" rx="1" ry="0.85" stroke="none" stroke-width="0" fill="#d8d8d8" />
<ellipse cx="701.4" cy="464.8" rx="1" ry="0.85" stroke="none" stroke-width="0" fill="#d8d8d8" />
<ellipse cx="702.6" cy="467.6" rx="1" ry="0.85" stroke="none" stroke-width="0" fill="#d8d8d8" />
<ellipse cx="703.8" cy="470.4" rx="1" ry="0.85" stroke="none" stroke-width="0" fill="#d8d8d8" />
<ellipse cx="705" cy="473.2" rx="1" ry="0.85" stroke="none" stroke-width="0" fill="#d8d8d8" />
<ellipse cx="706.2" cy="476" rx="1" ry="0.85" stroke="none" stroke-width="0" fill="#d8d8d8" />
<ellipse cx="707.4" cy="478.8" rx="1" ry="0.85" stroke="none" stroke-width="0" fill="#d8d8d8" />
<ellipse cx="708.6" cy="481.6" rx="1" ry="0.85" stroke="none" stroke-width="0" fill="#d8d8d8" />
<ellipse cx="709.8" cy="484.4" rx="1" ry="0.85" stroke="none" stroke-width="0" fill="#d8d8d8" />
<ellipse cx="711" cy="487.2" rx="1" ry="0.85" stroke="none" stroke-width="0" fill="#d8d8d8" />
<ellipse cx="712.2" cy="490" rx="1" ry="0.85" stroke="none" stroke-width="0" fill="#d8d8d8" />
<ellipse cx="713.4" cy="492.8" rx="1" ry="0.85" stroke="none" stroke-width="0" fill="#d8d8d8" />
<ellipse cx="714.6" cy="495.6" rx="1" ry="0.85" stroke="none" stroke-width="0" fill="#d8d8d8" />
<ellipse cx="715.8" cy="498.4" rx="1" ry="0.85" stroke="none" stroke-width="0" fill="#d8d8d8" />
<ellipse cx="717" cy="501.2" rx="1" ry="0.85" stroke="none" stroke-width="0" fill="#d8d8d8" />
<ellipse cx="718.2" cy="504" rx="1" ry="0.85" stroke="none" stroke-width="0" fill="#d8d8d8" />
<ellipse cx="719.4" cy="506.8" rx="1" ry="0.85" stroke="none" stroke-width="0" fill="#d8d8d8" />
<ellipse cx="698.3" cy="451.8" rx="1" ry="0.85" stroke="none" stroke-width="0" fill="#d8d8d8" />
<ellipse cx="699.5" cy="454.6" rx="1" ry="0.85" stroke="none" stroke-width="0" fill="#d8d8d8" />
<ellipse cx="700.7" cy="457.4" rx="1" ry="0.85" stroke="none" stroke-width="0" fill="#d8d8d8" />
<ellipse cx="701.9" cy="460.2" rx="1" ry="0.85" stroke="none" stroke-width="0" fill="#d8d8d8" />
<ellipse cx="703.1" cy="463" rx="1" ry="0.85" stroke="none" stroke-width="0" fill="#d8d8d8" />
<ellipse cx="704.3" cy="465.8" rx="1" ry="0.85" stroke="none" stroke-width="0" fill="#d8d8d8" />
<ellipse cx="705.5" cy="468.6" rx="1" ry="0.85" stroke="none" stroke-width="0" fill="#d8d8d8" />
<ellipse cx="706.7" cy="471.4" rx="1" ry="0.85" stroke="none" stroke-width="0" fill="#d8d8d8" />
<ellipse cx="707.9" cy="474.2" rx="1" ry="0.85" stroke="none" stroke-width="0" fill="#d8d8d8" />
<ellipse cx="709.1" cy="477" rx="1" ry="0.85" stroke="none" stroke-width="0" fill="#d8d8d8" />
<ellipse cx="710.3" cy="479.8" rx="1" ry="0.85" stroke="none" stroke-width="0" fill="#d8d8d8" />
<ellipse cx="711.5" cy="482.6" rx="1" ry="0.85" stroke="none" stroke-width="0" fill="#d8d8d8" />
<ellipse cx="712.7" cy="485.4" rx="1" ry="0.85" stroke="none" stroke-width="0" fill="#d8d8d8" />
<ellipse cx="713.9" cy="488.2" rx="1" ry="0.85" stroke="none" stroke-width="0" fill="#d8d8d8" />
<ellipse cx="715.1" cy="491" rx="1" ry="0.85" stroke="none" stroke-width="0" fill="#d8d8d8" />
<ellipse cx="716.3" cy="493.8" rx="1" ry="0.85" stroke="none" stroke-width="0" fill="#d8d8d8" />
<ellipse cx="717.5" cy="496.6" rx="1" ry="0.85" stroke="none" stroke-width="0" fill="#d8d8d8" />
<ellipse cx="718.7" cy="499.4" rx="1" ry="0.85" stroke="none" stroke-width="0" fill="#d8d8d8" />
<ellipse cx="719.9" cy="502.2" rx="1" ry="0.85" stroke="none" stroke-width="0" fill="#d8d8d8" />
<ellipse cx="721.1" cy="505" rx="1" ry="0.85" stroke="none" stroke-width="0" fill="#d8d8d8" />
<ellipse cx="722.3" cy="507.8" rx="1" ry="0.85" stroke="none" stroke-width="0" fill="#d8d8d8" />
<ellipse cx="701.2" cy="452.8" rx="1" ry="0.85" stroke="none" stroke-width="0" fill="#d8d8d8" />
<ellipse cx="702.4" cy="455.6" rx="1" ry="0.85" stroke="none" stroke-width="0" fill="#d8d8d8" />
<ellipse cx="703.6" cy="458.4" rx="1" ry="0.85" stroke="none" stroke-width="0" fill="#d8d8d8" />
<ellipse cx="704.8" cy="461.2" rx="1" ry="0.85" stroke="none" stroke-width="0" fill="#d8d8d8" />
<ellipse cx="706" cy="464" rx="1" ry="0.85" stroke="none" stroke-width="0" fill="#d8d8d8" />
<ellipse cx="707.2" cy="466.8" rx="1" ry="0.85" stroke="none" stroke-width="0" fill="#d8d8d8" />
<ellipse cx="708.4" cy="469.6" rx="1" ry="0.85" stroke="none" stroke-width="0" fill="#d8d8d8" />
<ellipse cx="709.6" cy="472.4" rx="1" ry="0.85" stroke="none" stroke-width="0" fill="#d8d8d8" />
<ellipse cx="710.8" cy="475.2" rx="1" ry="0.85" stroke="none" stroke-width="0" fill="#d8d8d8" />
<ellipse cx="712" cy="478" rx="1" ry="0.85" stroke="none" stroke-width="0" fill="#d8d8d8" />
<ellipse cx="713.2" cy="480.8" rx="1" ry="0.85" stroke="none" stroke-width="0" fill="#d8d8d8" />
<ellipse cx="714.4" cy="483.6" rx="1" ry="0.85" stroke="none" stroke-width="0" fill="#d8d8d8" />
<ellipse cx="715.6" cy="486.4" rx="1" ry="0.85" stroke="none" stroke-width="0" fill="#d8d8d8" />
<ellipse cx="716.8" cy="489.2" rx="1" ry="0.85" stroke="none" stroke-width="0" fill="#d8d8d8" />
<ellipse cx="718" cy="492" rx="1" ry="0.85" stroke="none" stroke-width="0" fill="#d8d8d8" />
<ellipse cx="719.2" cy="494.8" rx="1" ry="0.85" stroke="none" stroke-width="0" fill="#d8d8d8" />
<ellipse cx="720.4" cy="497.6" rx="1" ry="0.85" stroke="none" stroke-width="0" fill="#d8d8d8" />
<ellipse cx="721.6" cy="500.4" rx="1" ry="0.85" stroke="none" stroke-width="0" fill="#d8d8d8" />
<ellipse cx="722.8" cy="503.2" rx="1" ry="0.85" stroke="none" stroke-width="0" fill="#d8d8d8" />
<ellipse cx="724" cy="506" rx="1" ry="0.85" stroke="none" stroke-width="0" fill="#d8d8d8" />
<ellipse cx="725.2" cy="508.8" rx="1" ry="0.85" stroke="none" stroke-width="0" fill="#d8d8d8" />
<ellipse cx="704.1" cy="453.8" rx="1" ry="0.85" stroke="none" stroke-width="0" fill="#d8d8d8" />
<ellipse cx="705.3" cy="456.6" rx="1" ry="0.85" stroke="none" stroke-width="0" fill="#d8d8d8" />
<ellipse cx="706.5" cy="459.4" rx="1" ry="0.85" stroke="none" stroke-width="0" fill="#d8d8d8" />
<ellipse cx="707.7" cy="462.2" rx="1" ry="0.85" stroke="none" stroke-width="0" fill="#d8d8d8" />
<ellipse cx="708.9" cy="465" rx="1" ry="0.85" stroke="none" stroke-width="0" fill="#d8d8d8" />
<ellipse cx="710.1" cy="467.8" rx="1" ry="0.85" stroke="none" stroke-width="0" fill="#d8d8d8" />
<ellipse cx="711.3" cy="470.6" rx="1" ry="0.85" stroke="none" stroke-width="0" fill="#d8d8d8" />
<ellipse cx="712.5" cy="473.4" rx="1" ry="0.85" stroke="none" stroke-width="0" fill="#d8d8d8" />
<ellipse cx="713.7" cy="476.2" rx="1" ry="0.85" stroke="none" stroke-width="0" fill="#d8d8d8" />
<ellipse cx="714.9" cy="479" rx="1" ry="0.85" stroke="none" stroke-width="0" fill="#d8d8d8" />
<ellipse cx="716.1" cy="481.8" rx="1" ry="0.85" stroke="none" stroke-width="0" fill="#d8d8d8" />
<ellipse cx="717.3" cy="484.6" rx="1" ry="0.85" stroke="none" stroke-width="0" fill="#d8d8d8" />
<ellipse cx="718.5" cy="487.4" rx="1" ry="0.85" stroke="none" stroke-width="0" fill="#d8d8d8" />
<ellipse cx="719.7" cy="490.2" rx="1" ry="0.85" stroke="none" stroke-width="0" fill="#d8d8d8" />
<ellipse cx="720.9" cy="493" rx="1" ry="0.85" stroke="none" stroke-width="0" fill="#d8d8d8" />
<ellipse cx="722.1" cy="495.8" rx="1" ry="0.85" stroke="none" stroke-width="0" fill="#d8d8d8" />
<ellipse cx="723.3" cy="498.6" rx="1" ry="0.85" stroke="none" stroke-width="0" fill="#d8d8d8" />
<ellipse cx="724.5" cy="501.4" rx="1" ry="0.85" stroke="none" stroke-width="0" fill="#d8d8d8" />
<ellipse cx="725.7" cy="504.2" rx="1" ry="0.85" stroke="none" stroke-width="0" fill="#d8d8d8" />
<ellipse cx="726.9" cy="507" rx="1" ry="0.85" stroke="none" stroke-width="0" fill="#d8d8d8" />
<ellipse cx="728.1" cy="509.8" rx="1" ry="0.85" stroke="none" stroke-width="0" fill="#d8d8d8" />
<ellipse cx="707" cy="454.8" rx="1" ry="0.85" stroke="none" stroke-width="0" fill="#d8d8d8" />
<ellipse cx="708.2" cy="457.6" rx="1" ry="0.85" stroke="none" stroke-width="0" fill="#d8d8d8" />
<ellipse cx="709.4" cy="460.4" rx="1" ry="0.85" stroke="none" stroke-width="0" fill="#d8d8d8" />
<ellipse cx="710.6" cy="463.2" rx="1" ry="0.85" stroke="none" stroke-width="0" fill="#d8d8d8" />
<ellipse cx="711.8" cy="466" rx="1" ry="0.85" stroke="none" stroke-width="0" fill="#d8d8d8" />
<ellipse cx="713" cy="468.8" rx="1" ry="0.85" stroke="none" stroke-width="0" fill="#d8d8d8" />
<ellipse cx="714.2" cy="471.6" rx="1" ry="0.85" stroke="none" stroke-width="0" fill="#d8d8d8" />
<ellipse cx="715.4" cy="474.4" rx="1" ry="0.85" stroke="none" stroke-width="0" fill="#d8d8d8" />
<ellipse cx="716.6" cy="477.2" rx="1" ry="0.85" stroke="none" stroke-width="0" fill="#d8d8d8" />
<ellipse cx="717.8" cy="480" rx="1" ry="0.85" stroke="none" stroke-width="0" fill="#d8d8d8" />
<ellipse cx="719" cy="482.8" rx="1" ry="0.85" stroke="none" stroke-width="0" fill="#d8d8d8" />
<ellipse cx="720.2" cy="485.6" rx="1" ry="0.85" stroke="none" stroke-width="0" fill="#d8d8d8" />
<ellipse cx="721.4" cy="488.4" rx="1" ry="0.85" stroke="none" stroke-width="0" fill="#d8d8d8" />
<ellipse cx="722.6" cy="491.2" rx="1" ry="0.85" stroke="none" stroke-width="0" fill="#d8d8d8" />
<ellipse cx="723.8" cy="494" rx="1" ry="0.85" stroke="none" stroke-width="0" fill="#d8d8d8" />
<ellipse cx="725" cy="496.8" rx="1" ry="0.85" stroke="none" stroke-width="0" fill="#d8d8d8" />
<ellipse cx="726.2" cy="499.6" rx="1" ry="0.85" stroke="none" stroke-width="0" fill="#d8d8d8" />
<ellipse cx="727.4" cy="502.4" rx="1" ry="0.85" stroke="none" stroke-width="0" fill="#d8d8d8" />
<ellipse cx="728.6" cy="505.2" rx="1" ry="0.85" stroke="none" stroke-width="0" fill="#d8d8d8" />
<ellipse cx="729.8" cy="508" rx="1" ry="0.85" stroke="none" stroke-width="0" fill="#d8d8d8" />
<ellipse cx="731" cy="510.8" rx="1" ry="0.85" stroke="none" stroke-width="0" fill="#d8d8d8" />
<ellipse cx="709.9" cy="455.8" rx="1" ry="0.85" stroke="none" stroke-width="0" fill="#d8d8d8" />
<ellipse cx="711.1" cy="458.6" rx="1" ry="0.85" stroke="none" stroke-width="0" fill="#d8d8d8" />
<ellipse cx="712.3" cy="461.4" rx="1" ry="0.85" stroke="none" stroke-width="0" fill="#d8d8d8" />
<ellipse cx="713.5" cy="464.2" rx="1" ry="0.85" stroke="none" stroke-width="0" fill="#d8d8d8" />
<ellipse cx="714.7" cy="467" rx="1" ry="0.85" stroke="none" stroke-width="0" fill="#d8d8d8" />
<ellipse cx="715.9" cy="469.8" rx="1" ry="0.85" stroke="none" stroke-width="0" fill="#d8d8d8" />
<ellipse cx="717.1" cy="472.6" rx="1" ry="0.85" stroke="none" stroke-width="0" fill="#d8d8d8" />
<ellipse cx="718.3" cy="475.4" rx="1" ry="0.85" stroke="none" stroke-width="0" fill="#d8d8d8" />
<ellipse cx="719.5" cy="478.2" rx="1" ry="0.85" stroke="none" stroke-width="0" fill="#d8d8d8" />
<ellipse cx="720.7" cy="481" rx="1" ry="0.85" stroke="none" stroke-width="0" fill="#d8d8d8" />
<ellipse cx="721.9" cy="483.8" rx="1" ry="0.85" stroke="none" stroke-width="0" fill="#d8d8d8" />
<ellipse cx="723.1" cy="486.6" rx="1" ry="0.85" stroke="none" stroke-width="0" fill="#d8d8d8" />
<ellipse cx="724.3" cy="489.4" rx="1" ry="0.85" stroke="none" stroke-width="0" fill="#d8d8d8" />
<ellipse cx="725.5" cy="492.2" rx="1" ry="0.85" stroke="none" stroke-width="0" fill="#d8d8d8" />
<ellipse cx="726.7" cy="495" rx="1" ry="0.85" stroke="none" stroke-width="0" fill="#d8d8d8" />
<ellipse cx="727.9" cy="497.8" rx="1" ry="0.85" stroke="none" stroke-width="0" fill="#d8d8d8" />
<ellipse cx="729.1" cy="500.6" rx="1" ry="0.85" stroke="none" stroke-width="0" fill="#d8d8d8" />
<ellipse cx="730.3" cy="503.4" rx="1" ry="0.85" stroke="none" stroke-width="0" fill="#d8d8d8" />
<ellipse cx="731.5" cy="506.2" rx="1" ry="0.85" stroke="none" stroke-width="0" fill="#d8d8d8" />
<ellipse cx="732.7" cy="509" rx="1" ry="0.85" stroke="none" stroke-width="0" fill="#d8d8d8" />
<ellipse cx="733.9" cy="511.8" rx="1" ry="0.85" stroke="none" stroke-width="0" fill="#d8d8d8" />
<ellipse cx="712.8" cy="456.8" rx="1" ry="0.85" stroke="none" stroke-width="0" fill="#d8d8d8" />
<ellipse cx="714" cy="459.6" rx="1" ry="0.85" stroke="none" stroke-width="0" fill="#d8d8d8" />
<ellipse cx="715.2" cy="462.4" rx="1" ry="0.85" stroke="none" stroke-width="0" fill="#d8d8d8" />
<ellipse cx="716.4" cy="465.2" rx="1" ry="0.85" stroke="none" stroke-width="0" fill="#d8d8d8" />
<ellipse cx="717.6" cy="468" rx="1" ry="0.85" stroke="none" stroke-width="0" fill="#d8d8d8" />
<ellipse cx="718.8" cy="470.8" rx="1" ry="0.85" stroke="none" stroke-width="0" fill="#d8d8d8" />
<ellipse cx="720" cy="473.6" rx="1" ry="0.85" stroke="none" stroke-width="0" fill="#d8d8d8" />
<ellipse cx="721.2" cy="476.4" rx="1" ry="0.85" stroke="none" stroke-width="0" fill="#d8d8d8" />
<ellipse cx="722.4" cy="479.2" rx="1" ry="0.85" stroke="none" stroke-width="0" fill="#d8d8d8" />
<ellipse cx="723.6" cy="482" rx="1" ry="0.85" stroke="none" stroke-width="0" fill="#d8d8d8" />
<ellipse cx="724.8" cy="484.8" rx="1" ry="0.85" stroke="none" stroke-width="0" fill="#d8d8d8" />
<ellipse cx="726" cy="487.6" rx="1" ry="0.85" stroke="none" stroke-width="0" fill="#d8d8d8" />
<ellipse cx="727.2" cy="490.4" rx="1" ry="0.85" stroke="none" stroke-width="0" fill="#d8d8d8" />
<ellipse cx="728.4" cy="493.2" rx="1" ry="0.85" stroke="none" stroke-width="0" fill="#d8d8d8" />
<ellipse cx="729.6" cy="496" rx="1" ry="0.85" stroke="none" stroke-width="0" fill="#d8d8d8" />
<ellipse cx="730.8" cy="498.8" rx="1" ry="0.85" stroke="none" stroke-width="0" fill="#d8d8d8" />
<ellipse cx="732" cy="501.6" rx="1" ry="0.85" stroke="none" stroke-width="0" fill="#d8d8d8" />
<ellipse cx="733.2" cy="504.4" rx="1" ry="0.85" stroke="none" stroke-width="0" fill="#d8d8d8" />
<ellipse cx="734.4" cy="507.2" rx="1" ry="0.85" stroke="none" stroke-width="0" fill="#d8d8d8" />
<ellipse cx="735.6" cy="510" rx="1" ry="0.85" stroke="none" stroke-width="0" fill="#d8d8d8" />
<ellipse cx="736.8" cy="512.8" rx="1" ry="0.85" stroke="none" stroke-width="0" fill="#d8d8d8" />
<ellipse cx="715.7" cy="457.8" rx="1" ry="0.85" stroke="none" stroke-width="0" fill="#d8d8d8" />
<ellipse cx="716.9" cy="460.6" rx="1" ry="0.85" stroke="none" stroke-width="0" fill="#d8d8d8" />
<ellipse cx="718.1" cy="463.4" rx="1" ry="0.85" stroke="none" stroke-width="0" fill="#d8d8d8" />
<ellipse cx="719.3" cy="466.2" rx="1" ry="0.85" stroke="none" stroke-width="0" fill="#d8d8d8" />
<ellipse cx="720.5" cy="469" rx="1" ry="0.85" stroke="none" stroke-width="0" fill="#d8d8d8" />
<ellipse cx="721.7" cy="471.8" rx="1" ry="0.85" stroke="none" stroke-width="0" fill="#d8d8d8" />
<ellipse cx="722.9" cy="474.6" rx="1" ry="0.85" stroke="none" stroke-width="0" fill="#d8d8d8" />
<ellipse cx="724.1" cy="477.4" rx="1" ry="0.85" stroke="none" stroke-width="0" fill="#d8d8d8" />
<ellipse cx="725.3" cy="480.2" rx="1" ry="0.85" stroke="none" stroke-width="0" fill="#d8d8d8" />
<ellipse cx="726.5" cy="483" rx="1" ry="0.85" stroke="none" stroke-width="0" fill="#d8d8d8" />
<ellipse cx="727.7" cy="485.8" rx="1" ry="0.85" stroke="none" stroke-width="0" fill="#d8d8d8" />
<ellipse cx="728.9" cy="488.6" rx="1" ry="0.85" stroke="none" stroke-width="0" fill="#d8d8d8" />
<ellipse cx="730.1" cy="491.4" rx="1" ry="0.85" stroke="none" stroke-width="0" fill="#d8d8d8" />
<ellipse cx="731.3" cy="494.2" rx="1" ry="0.85" stroke="none" stroke-width="0" fill="#d8d8d8" />
<ellipse cx="732.5" cy="497" rx="1" ry="0.85" stroke="none" stroke-width="0" fill="#d8d8d8" />
<ellipse cx="733.7" cy="499.8" rx="1" ry="0.85" stroke="none" stroke-width="0" fill="#d8d8d8" />
<ellipse cx="734.9" cy="502.6" rx="1" ry="0.85" stroke="none" stroke-width="0" fill="#d8d8d8" />
<ellipse cx="736.1" cy="505.4" rx="1" ry="0.85" stroke="none" stroke-width="0" fill="#d8d8d8" />
<ellipse cx="737.3" cy="508.2" rx="1" ry="0.85" stroke="none" stroke-width="0" fill="#d8d8d8" />
<ellipse cx="738.5" cy="511" rx="1" ry="0.85" stroke="none" stroke-width="0" fill="#d8d8d8" />
<ellipse cx="739.7" cy="513.8" rx="1" ry="0.85" stroke="none" stroke-width="0" fill="#d8d8d8" />
</g>
<polyline points="665.5,460 667,478" stroke="#333" stroke-width="0.6" fill="none" stroke-linejoin="round" />
<polyline points="686,468 687,490" stroke="#333" stroke-width="0.6" fill="none" stroke-linejoin="round" />
<path d="M665.9,459 L665.9,441 Q666.5,436.5 671.4,436.4 L713.6,462.5 Q716,464.5 716,468 L716,485" stroke="#2e2e2e" stroke-width="0.9" fill="none" stroke-linejoin="round" stroke-linecap="round" />
<path d="M671.4,459 L671.4,443.5 Q671.6,441.8 673.5,442.3 L709.5,465 Q710.5,466 710.5,468.5 L710.5,484" stroke="#2e2e2e" stroke-width="0.8" fill="none" stroke-linejoin="round" stroke-linecap="round" />
<polygon points="666.4,459 666.4,441 668,437.5 671.4,437 713.3,463 715.5,466.5 715.5,484.5 711,484.5 711,468.5 709.2,465.5 673.5,442.8 670.9,444 670.9,459" stroke="none" stroke-width="0" fill="#fff" stroke-linejoin="round" />
<path d="M665.9,459 L665.9,441 Q666.5,436.5 671.4,436.4 L713.6,462.5 Q716,464.5 716,468 L716,485" stroke="#2e2e2e" stroke-width="0.9" fill="none" stroke-linejoin="round" stroke-linecap="round" />
<path d="M671.4,459 L671.4,443.5 Q671.6,441.8 673.5,442.3 L709.5,465 Q710.5,466 710.5,468.5 L710.5,484" stroke="#2e2e2e" stroke-width="0.8" fill="none" stroke-linejoin="round" stroke-linecap="round" />
<line x1="668.6" y1="441" x2="668.6" y2="458" stroke="#999" stroke-width="0.5" />
<line x1="672" y1="439.5" x2="711.5" y2="464" stroke="#999" stroke-width="0.5" />
<polyline points="316.2,457.69 324.15,462.13 332.09,465.99 340.04,470.04 347.99,474.77 355.93,479.75 363.88,484.19 371.82,488.05 379.77,492.09 387.72,496.83 395.66,501.81" stroke="#3a3a3a" stroke-width="1.05" fill="none" stroke-linejoin="round" />
<polyline points="338.44,445.04 346.46,448.84 354.48,453.34 362.5,458.48 370.52,463.35 378.54,467.38 386.56,471.18 394.59,475.68 402.61,480.82 410.63,485.69 418.65,489.72" stroke="#3a3a3a" stroke-width="1.05" fill="none" stroke-linejoin="round" />
<polyline points="354.96,433.61 363.04,438.72 371.11,445.81 379.19,451.31 387.27,453.85 395.35,456.16 403.42,461.27 411.5,468.36 419.58,473.86 427.65,476.4 435.73,478.71" stroke="#3a3a3a" stroke-width="1.05" fill="none" stroke-linejoin="round" />
<polyline points="377.4,423.11 385.55,428.24 393.71,432.58 401.86,436.44 410.01,440.8 418.16,445.94 426.32,451.07 434.47,455.41 442.62,459.27 450.78,463.63 458.93,468.78" stroke="#3a3a3a" stroke-width="1.05" fill="none" stroke-linejoin="round" />
<polyline points="393.72,415.97 401.93,419.42 410.14,421.72 418.34,426.06 426.55,432.81 434.76,439.01 442.97,442.46 451.17,444.76 459.38,449.1 467.59,455.85 475.8,462.05" stroke="#3a3a3a" stroke-width="1.05" fill="none" stroke-linejoin="round" />
<polyline points="332.64,474.37 342.64,469.24 352.63,463.84 362.62,458.13 372.62,452.32 382.61,446.7 392.6,441.41 402.6,436.31 412.59,431.11 422.58,425.6 432.58,419.82" stroke="#3a3a3a" stroke-width="1.05" fill="none" stroke-linejoin="round" />
<polyline points="348.67,483.26 358.73,478.18 368.79,472.83 378.85,467.17 388.91,461.41 398.98,455.84 409.04,450.6 419.1,445.56 429.16,440.41 439.22,434.95 449.28,429.22" stroke="#3a3a3a" stroke-width="1.05" fill="none" stroke-linejoin="round" />
<polyline points="365.25,492.45 375.38,487.43 385.51,482.13 395.65,476.52 405.78,470.81 415.91,465.3 426.04,460.11 436.17,455.12 446.3,450.02 456.43,444.62 466.56,438.94" stroke="#3a3a3a" stroke-width="1.05" fill="none" stroke-linejoin="round" />
<polyline points="391.05,506.76 401.29,501.81 411.53,496.6 421.76,491.07 432,485.44 442.24,480.01 452.48,474.9 462.72,469.99 472.96,464.98 483.2,459.65 493.44,454.06" stroke="#3a3a3a" stroke-width="1.05" fill="none" stroke-linejoin="round" />
<polyline points="303.5,437.5 331,421.5 336,421 341,417.5 370,401 375,399.5 380,395.5 406.5,378" stroke="#3a3a3a" stroke-width="1.15" fill="none" stroke-linejoin="round" />
<polyline points="303.5,439.3 331,423.3 336,422.8 341,419.3 370,402.8 375,401.3 380,397.3 406.5,379.8" stroke="#3a3a3a" stroke-width="0.9199999999999999" fill="none" stroke-linejoin="round" />
<polyline points="305.6,450.3 331,435.5 336,435 341,431.5 370,415 375,413.5 380,409.5 408,391.2" stroke="#3a3a3a" stroke-width="1.15" fill="none" stroke-linejoin="round" />
<polyline points="316.2,430.16 316.2,457.3" stroke="#3a3a3a" stroke-width="1.15" fill="none" stroke-linejoin="round" />
<polyline points="338.44,417.32 338.44,444.87" stroke="#3a3a3a" stroke-width="1.15" fill="none" stroke-linejoin="round" />
<polyline points="354.96,407.77 354.96,435.64" stroke="#3a3a3a" stroke-width="1.15" fill="none" stroke-linejoin="round" />
<polyline points="377.4,394.81 377.4,423.1" stroke="#3a3a3a" stroke-width="1.15" fill="none" stroke-linejoin="round" />
<polyline points="393.72,385.38 393.72,413.98" stroke="#3a3a3a" stroke-width="1.15" fill="none" stroke-linejoin="round" />
<polyline points="406.5,378 490,426 494,427.5 499,430 503,438" stroke="#3a3a3a" stroke-width="1.15" fill="none" stroke-linejoin="round" />
<polyline points="406.5,379.8 490,427.8 494,429.3 499,431.8 503,439.8" stroke="#3a3a3a" stroke-width="0.9199999999999999" fill="none" stroke-linejoin="round" />
<polyline points="407,391.2 500.6,447.7" stroke="#3a3a3a" stroke-width="1.15" fill="none" stroke-linejoin="round" />
<polyline points="413.76,382.51 413.76,403.24 412.26,406.24 411.26,409.24" stroke="#3a3a3a" stroke-width="1.15" fill="none" stroke-linejoin="round" />
<polyline points="421.44,387.29 421.44,407.56 419.94,410.56 418.94,413.56" stroke="#3a3a3a" stroke-width="1.15" fill="none" stroke-linejoin="round" />
<polyline points="432.58,394.21 432.58,413.82 431.08,416.82 430.08,419.82" stroke="#3a3a3a" stroke-width="1.15" fill="none" stroke-linejoin="round" />
<polyline points="449.28,404.6 449.28,423.22 447.78,426.22 446.78,429.22" stroke="#3a3a3a" stroke-width="1.15" fill="none" stroke-linejoin="round" />
<polyline points="466.56,415.34 466.56,432.94 465.06,435.94 464.06,438.94" stroke="#3a3a3a" stroke-width="1.15" fill="none" stroke-linejoin="round" />
<polyline points="473.28,419.52 473.28,436.72 471.78,439.72 470.78,442.72" stroke="#3a3a3a" stroke-width="1.15" fill="none" stroke-linejoin="round" />
<polyline points="493.44,432.06 493.44,448.06 491.94,451.06 490.94,454.06" stroke="#3a3a3a" stroke-width="1.15" fill="none" stroke-linejoin="round" />
<polyline points="413,394 411,398 413,402 417,404" stroke="#3a3a3a" stroke-width="0.8" fill="none" stroke-linejoin="round" />
<polyline points="432,397 430,401 432,404 436,405" stroke="#3a3a3a" stroke-width="0.8" fill="none" stroke-linejoin="round" />
<polyline points="461,413 459,417 461,420 465,421" stroke="#3a3a3a" stroke-width="0.8" fill="none" stroke-linejoin="round" />
<polyline points="503,438 505,444 504,457 501,460" stroke="#3a3a3a" stroke-width="1.0" fill="none" stroke-linejoin="round" />
<line x1="383.4" y1="484" x2="381.9" y2="471" stroke="#3a3a3a" stroke-width="1.25" stroke-linecap="round"/>
<line x1="388.43" y1="481.67" x2="386.93" y2="468.67" stroke="#3a3a3a" stroke-width="1.25" stroke-linecap="round"/>
<line x1="393.47" y1="479.33" x2="391.97" y2="466.33" stroke="#3a3a3a" stroke-width="1.25" stroke-linecap="round"/>
<line x1="398.5" y1="477" x2="397" y2="464" stroke="#3a3a3a" stroke-width="1.25" stroke-linecap="round"/>
<line x1="403.53" y1="474.67" x2="402.03" y2="461.67" stroke="#3a3a3a" stroke-width="1.25" stroke-linecap="round"/>
<line x1="408.57" y1="472.33" x2="407.07" y2="459.33" stroke="#3a3a3a" stroke-width="1.25" stroke-linecap="round"/>
<line x1="413.6" y1="470" x2="412.1" y2="457" stroke="#3a3a3a" stroke-width="1.25" stroke-linecap="round"/>
<line x1="418.63" y1="467.67" x2="417.13" y2="454.67" stroke="#3a3a3a" stroke-width="1.25" stroke-linecap="round"/>
<line x1="423.67" y1="465.33" x2="422.17" y2="452.33" stroke="#3a3a3a" stroke-width="1.25" stroke-linecap="round"/>
<line x1="428.7" y1="463" x2="427.2" y2="450" stroke="#3a3a3a" stroke-width="1.25" stroke-linecap="round"/>
<line x1="433.73" y1="460.67" x2="432.23" y2="447.67" stroke="#3a3a3a" stroke-width="1.25" stroke-linecap="round"/>
<line x1="438.77" y1="458.33" x2="437.27" y2="445.33" stroke="#3a3a3a" stroke-width="1.25" stroke-linecap="round"/>
<line x1="443.8" y1="456" x2="442.3" y2="443" stroke="#3a3a3a" stroke-width="1.25" stroke-linecap="round"/>
<line x1="448.83" y1="453.67" x2="447.33" y2="440.67" stroke="#3a3a3a" stroke-width="1.25" stroke-linecap="round"/>
<line x1="453.87" y1="451.33" x2="452.37" y2="438.33" stroke="#3a3a3a" stroke-width="1.25" stroke-linecap="round"/>
<line x1="458.9" y1="449" x2="457.4" y2="436" stroke="#3a3a3a" stroke-width="1.25" stroke-linecap="round"/>
<line x1="463.93" y1="446.67" x2="462.43" y2="433.67" stroke="#3a3a3a" stroke-width="1.25" stroke-linecap="round"/>
<line x1="468.97" y1="444.33" x2="467.47" y2="431.33" stroke="#3a3a3a" stroke-width="1.25" stroke-linecap="round"/>
<line x1="474" y1="442" x2="472.5" y2="429" stroke="#3a3a3a" stroke-width="1.25" stroke-linecap="round"/>
<polyline points="383.4,484 474,442" stroke="#3a3a3a" stroke-width="1.0" fill="none" stroke-linejoin="round" />
<line x1="444" y1="456" x2="442" y2="434" stroke="#3a3a3a" stroke-width="1.25" stroke-linecap="round"/>
<line x1="448.33" y1="454" x2="446.33" y2="432" stroke="#3a3a3a" stroke-width="1.25" stroke-linecap="round"/>
<line x1="452.67" y1="452" x2="450.67" y2="430" stroke="#3a3a3a" stroke-width="1.25" stroke-linecap="round"/>
<line x1="457" y1="450" x2="455" y2="428" stroke="#3a3a3a" stroke-width="1.25" stroke-linecap="round"/>
<line x1="461.33" y1="448" x2="459.33" y2="426" stroke="#3a3a3a" stroke-width="1.25" stroke-linecap="round"/>
<line x1="465.67" y1="446" x2="463.67" y2="424" stroke="#3a3a3a" stroke-width="1.25" stroke-linecap="round"/>
<line x1="470" y1="444" x2="468" y2="422" stroke="#3a3a3a" stroke-width="1.25" stroke-linecap="round"/>
<line x1="383" y1="500" x2="381.5" y2="487" stroke="#3a3a3a" stroke-width="1.25" stroke-linecap="round"/>
<line x1="388.61" y1="497.5" x2="387.11" y2="484.5" stroke="#3a3a3a" stroke-width="1.25" stroke-linecap="round"/>
<line x1="394.22" y1="495" x2="392.72" y2="482" stroke="#3a3a3a" stroke-width="1.25" stroke-linecap="round"/>
<line x1="399.83" y1="492.5" x2="398.33" y2="479.5" stroke="#3a3a3a" stroke-width="1.25" stroke-linecap="round"/>
<line x1="405.44" y1="490" x2="403.94" y2="477" stroke="#3a3a3a" stroke-width="1.25" stroke-linecap="round"/>
<line x1="411.06" y1="487.5" x2="409.56" y2="474.5" stroke="#3a3a3a" stroke-width="1.25" stroke-linecap="round"/>
<line x1="416.67" y1="485" x2="415.17" y2="472" stroke="#3a3a3a" stroke-width="1.25" stroke-linecap="round"/>
<line x1="422.28" y1="482.5" x2="420.78" y2="469.5" stroke="#3a3a3a" stroke-width="1.25" stroke-linecap="round"/>
<line x1="427.89" y1="480" x2="426.39" y2="467" stroke="#3a3a3a" stroke-width="1.25" stroke-linecap="round"/>
<line x1="433.5" y1="477.5" x2="432" y2="464.5" stroke="#3a3a3a" stroke-width="1.25" stroke-linecap="round"/>
<line x1="439.11" y1="475" x2="437.61" y2="462" stroke="#3a3a3a" stroke-width="1.25" stroke-linecap="round"/>
<line x1="444.72" y1="472.5" x2="443.22" y2="459.5" stroke="#3a3a3a" stroke-width="1.25" stroke-linecap="round"/>
<line x1="450.33" y1="470" x2="448.83" y2="457" stroke="#3a3a3a" stroke-width="1.25" stroke-linecap="round"/>
<line x1="455.94" y1="467.5" x2="454.44" y2="454.5" stroke="#3a3a3a" stroke-width="1.25" stroke-linecap="round"/>
<line x1="461.56" y1="465" x2="460.06" y2="452" stroke="#3a3a3a" stroke-width="1.25" stroke-linecap="round"/>
<line x1="467.17" y1="462.5" x2="465.67" y2="449.5" stroke="#3a3a3a" stroke-width="1.25" stroke-linecap="round"/>
<line x1="472.78" y1="460" x2="471.28" y2="447" stroke="#3a3a3a" stroke-width="1.25" stroke-linecap="round"/>
<line x1="478.39" y1="457.5" x2="476.89" y2="444.5" stroke="#3a3a3a" stroke-width="1.25" stroke-linecap="round"/>
<line x1="484" y1="455" x2="482.5" y2="442" stroke="#3a3a3a" stroke-width="1.25" stroke-linecap="round"/>
<polyline points="383,500 484,455" stroke="#3a3a3a" stroke-width="1.0" fill="none" stroke-linejoin="round" />
<polyline points="303.5,437.5 388,490" stroke="#3a3a3a" stroke-width="1.15" fill="none" stroke-linejoin="round" />
<polyline points="303.5,439.3 388,491.8" stroke="#3a3a3a" stroke-width="0.9199999999999999" fill="none" stroke-linejoin="round" />
<polyline points="303.4,448.5 389,498" stroke="#3a3a3a" stroke-width="1.15" fill="none" stroke-linejoin="round" />
<polyline points="308.4,463.6 396,512" stroke="#3a3a3a" stroke-width="1.15" fill="none" stroke-linejoin="round" />
<polyline points="316.8,445.76 316.8,472.76" stroke="#3a3a3a" stroke-width="1.15" fill="none" stroke-linejoin="round" />
<polyline points="329.4,453.59 329.4,480.59" stroke="#3a3a3a" stroke-width="1.15" fill="none" stroke-linejoin="round" />
<polyline points="345.3,463.47 345.3,490.47" stroke="#3a3a3a" stroke-width="1.15" fill="none" stroke-linejoin="round" />
<polyline points="363,474.47 363,501.47" stroke="#3a3a3a" stroke-width="1.15" fill="none" stroke-linejoin="round" />
<polyline points="370.5,479.13 370.5,506.13" stroke="#3a3a3a" stroke-width="1.15" fill="none" stroke-linejoin="round" />
<polyline points="383,486.89 383,513.89" stroke="#3a3a3a" stroke-width="1.15" fill="none" stroke-linejoin="round" />
<polyline points="303.5,437.5 303.5,447 306,450 306,462 308.4,464" stroke="#3a3a3a" stroke-width="1.15" fill="none" stroke-linejoin="round" />
<polyline points="312.9,464.54 308.4,469.04" stroke="#3a3a3a" stroke-width="1.6" fill="none" stroke-linejoin="round" />
<polyline points="312.9,464.54 308.4,469.04" stroke="#bbb" stroke-width="0.5" fill="none" stroke-linejoin="round" />
<polyline points="333.05,475.67 328.55,480.17" stroke="#3a3a3a" stroke-width="1.6" fill="none" stroke-linejoin="round" />
<polyline points="333.05,475.67 328.55,480.17" stroke="#bbb" stroke-width="0.5" fill="none" stroke-linejoin="round" />
<polyline points="353.2,486.8 348.7,491.3" stroke="#3a3a3a" stroke-width="1.6" fill="none" stroke-linejoin="round" />
<polyline points="353.2,486.8 348.7,491.3" stroke="#bbb" stroke-width="0.5" fill="none" stroke-linejoin="round" />
<polyline points="373.35,497.93 368.85,502.43" stroke="#3a3a3a" stroke-width="1.6" fill="none" stroke-linejoin="round" />
<polyline points="373.35,497.93 368.85,502.43" stroke="#bbb" stroke-width="0.5" fill="none" stroke-linejoin="round" />
<polyline points="390.87,507.61 386.37,512.11" stroke="#3a3a3a" stroke-width="1.6" fill="none" stroke-linejoin="round" />
<polyline points="390.87,507.61 386.37,512.11" stroke="#bbb" stroke-width="0.5" fill="none" stroke-linejoin="round" />
<polyline points="306,456 394,504" stroke="#3a3a3a" stroke-width="0.9" fill="none" stroke-linejoin="round" />
<polyline points="384,488 388,491 503.5,443 505,438 503,438" stroke="#3a3a3a" stroke-width="1.15" fill="none" stroke-linejoin="round" />
<polyline points="384,489.8 388,492.8 503.5,444.8 505,439.8 503,439.8" stroke="#3a3a3a" stroke-width="0.9199999999999999" fill="none" stroke-linejoin="round" />
<polyline points="389,499 503.5,451" stroke="#3a3a3a" stroke-width="1.15" fill="none" stroke-linejoin="round" />
<polyline points="389,500.6 503.5,452.6" stroke="#3a3a3a" stroke-width="0.9199999999999999" fill="none" stroke-linejoin="round" />
<polyline points="395.5,495.23 395.5,511.23 398,514.23 400.5,511.23 400.5,495.23" stroke="#3a3a3a" stroke-width="1.15" fill="none" stroke-linejoin="round" />
<polyline points="414.9,487.09 414.9,503.09 417.4,506.09 419.9,503.09 419.9,487.09" stroke="#3a3a3a" stroke-width="1.15" fill="none" stroke-linejoin="round" />
<polyline points="434.4,478.92 434.4,494.92 436.9,497.92 439.4,494.92 439.4,478.92" stroke="#3a3a3a" stroke-width="1.15" fill="none" stroke-linejoin="round" />
<polyline points="454.5,470.49 454.5,486.49 457,489.49 459.5,486.49 459.5,470.49" stroke="#3a3a3a" stroke-width="1.15" fill="none" stroke-linejoin="round" />
<polyline points="475,461.9 475,477.9 477.5,480.9 480,477.9 480,461.9" stroke="#3a3a3a" stroke-width="1.15" fill="none" stroke-linejoin="round" />
<polyline points="494.5,453.72 494.5,469.72 497,472.72 499.5,469.72 499.5,453.72" stroke="#3a3a3a" stroke-width="1.15" fill="none" stroke-linejoin="round" />
<polyline points="388,491 389,500 393,512 398,514" stroke="#3a3a3a" stroke-width="1.1" fill="none" stroke-linejoin="round" />
<polyline points="398,514 410,510" stroke="#3a3a3a" stroke-width="1.0" fill="none" stroke-linejoin="round" />
<ellipse cx="283.5" cy="480" rx="4.3" ry="5.1" stroke="#2a2a2a" stroke-width="1.0" fill="#8a8a8a" transform="rotate(-35 283.5 480)" />
<ellipse cx="284.6" cy="479.2" rx="3.4" ry="4.3" stroke="#555" stroke-width="0.5" fill="#f2f2f2" transform="rotate(-35 284.6 479.2)" />
<ellipse cx="282" cy="481.2" rx="0.9" ry="1.6" stroke="none" stroke-width="0" fill="#444" transform="rotate(-35 282 481.2)" />
<polygon points="289,477 289.3,474.5 291,472.3 293,471.3 294,472.7 293,475 291,477" stroke="#333" stroke-width="0.8" fill="#e6e6e6" stroke-linejoin="round" />
<polyline points="289,477 290.5,477.7" stroke="#333" stroke-width="1.0" fill="none" stroke-linejoin="round" />
<ellipse cx="309.5" cy="495" rx="4.3" ry="5.1" stroke="#2a2a2a" stroke-width="1.0" fill="#8a8a8a" transform="rotate(-35 309.5 495)" />
<ellipse cx="310.6" cy="494.2" rx="3.4" ry="4.3" stroke="#555" stroke-width="0.5" fill="#f2f2f2" transform="rotate(-35 310.6 494.2)" />
<ellipse cx="308" cy="496.2" rx="0.9" ry="1.6" stroke="none" stroke-width="0" fill="#444" transform="rotate(-35 308 496.2)" />
<polygon points="315,491.5 315.3,489 317,486.8 319,485.8 320,487.2 319,489.5 317,491.5" stroke="#333" stroke-width="0.8" fill="#e6e6e6" stroke-linejoin="round" />
<polyline points="315,491.5 316.5,492.2" stroke="#333" stroke-width="1.0" fill="none" stroke-linejoin="round" />
<ellipse cx="338.2" cy="512" rx="4.3" ry="5.1" stroke="#2a2a2a" stroke-width="1.0" fill="#8a8a8a" transform="rotate(-35 338.2 512)" />
<ellipse cx="339.3" cy="511.2" rx="3.4" ry="4.3" stroke="#555" stroke-width="0.5" fill="#f2f2f2" transform="rotate(-35 339.3 511.2)" />
<ellipse cx="336.7" cy="513.2" rx="0.9" ry="1.6" stroke="none" stroke-width="0" fill="#444" transform="rotate(-35 336.7 513.2)" />
<polygon points="344.5,509.5 344.8,507 346.5,504.8 348.5,503.8 349.5,505.2 348.5,507.5 346.5,509.5" stroke="#333" stroke-width="0.8" fill="#e6e6e6" stroke-linejoin="round" />
<polyline points="344.5,509.5 346,510.2" stroke="#333" stroke-width="1.0" fill="none" stroke-linejoin="round" />
<ellipse cx="358.5" cy="523" rx="4.3" ry="5.1" stroke="#2a2a2a" stroke-width="1.0" fill="#8a8a8a" transform="rotate(-35 358.5 523)" />
<ellipse cx="359.6" cy="522.2" rx="3.4" ry="4.3" stroke="#555" stroke-width="0.5" fill="#f2f2f2" transform="rotate(-35 359.6 522.2)" />
<ellipse cx="357" cy="524.2" rx="0.9" ry="1.6" stroke="none" stroke-width="0" fill="#444" transform="rotate(-35 357 524.2)" />
<polygon points="364,520 364.3,517.5 366,515.3 368,514.3 369,515.7 368,518 366,520" stroke="#333" stroke-width="0.8" fill="#e6e6e6" stroke-linejoin="round" />
<polyline points="364,520 365.5,520.7" stroke="#333" stroke-width="1.0" fill="none" stroke-linejoin="round" />
<path d="M457.3,513.75 L497.25,491.25 L499.5,492.4 L499.5,501.4 Q480,514 459,525 L457.3,523.3 Z" stroke="#333" stroke-width="0.9" fill="#fff" stroke-linejoin="round" stroke-linecap="round" />
<polyline points="459.5,522.5 477,512.5 498.5,500.5" stroke="#aaa" stroke-width="1.2" fill="none" stroke-linejoin="round" />
<polyline points="458,515.5 498.5,493" stroke="#666" stroke-width="0.5" fill="none" stroke-linejoin="round" />
<polyline points="459,524 459,515" stroke="#666" stroke-width="0.5" fill="none" stroke-linejoin="round" />
<polyline points="471,513.5 488,504" stroke="#888" stroke-width="0.6" fill="none" stroke-linejoin="round" stroke-dasharray="1,1"/>
<polyline points="129,94.7 116.5,94.7 116.5,112" stroke="#8a8a8a" stroke-width="0.9" fill="none" stroke-linejoin="round" />
<polyline points="146.6,101 146.6,154 159.5,154" stroke="#8a8a8a" stroke-width="0.9" fill="none" stroke-linejoin="round" />
<polyline points="191.5,147.2 191.5,157.8 177.5,157.8" stroke="#8a8a8a" stroke-width="0.9" fill="none" stroke-linejoin="round" />
<polyline points="190.1,211.1 202.8,211.1 202.8,217.2" stroke="#8a8a8a" stroke-width="0.9" fill="none" stroke-linejoin="round" />
<polyline points="202.8,230.5 202.8,254 193.6,254" stroke="#8a8a8a" stroke-width="0.9" fill="none" stroke-linejoin="round" />
<polyline points="197.6,222.8 190.7,222.8 190.7,225.9" stroke="#8a8a8a" stroke-width="0.9" fill="none" stroke-linejoin="round" />
<polyline points="191.25,354.4 197.8,354.4 197.8,338.4" stroke="#8a8a8a" stroke-width="0.9" fill="none" stroke-linejoin="round" />
<polyline points="116,359.3 123.1,359.3 123.1,370" stroke="#8a8a8a" stroke-width="0.9" fill="none" stroke-linejoin="round" />
<polyline points="283,286.8 299.8,286.8 299.8,292.5" stroke="#8a8a8a" stroke-width="0.9" fill="none" stroke-linejoin="round" />
<polyline points="148.1,426.3 107.4,426.3 107.4,448" stroke="#8a8a8a" stroke-width="0.9" fill="none" stroke-linejoin="round" />
<polyline points="107.4,462 107.4,487.6 148.1,487.6" stroke="#8a8a8a" stroke-width="0.9" fill="none" stroke-linejoin="round" />
<polyline points="182.6,455.5 182.6,461.2 190.6,461.2" stroke="#8a8a8a" stroke-width="0.9" fill="none" stroke-linejoin="round" />
<polyline points="364.9,109.2 358.7,109.2 358.7,125.3" stroke="#8a8a8a" stroke-width="0.9" fill="none" stroke-linejoin="round" />
<polyline points="428.5,143 422.6,143 422.6,158.2" stroke="#8a8a8a" stroke-width="0.9" fill="none" stroke-linejoin="round" />
<polyline points="304.4,150.2 299.3,150.2 299.3,164.9" stroke="#8a8a8a" stroke-width="0.9" fill="none" stroke-linejoin="round" />
<polyline points="407.5,294 407.5,311.6" stroke="#8a8a8a" stroke-width="0.9" fill="none" stroke-linejoin="round" />
<polyline points="422.1,319.2 444.2,319.2 444.2,312.5" stroke="#8a8a8a" stroke-width="0.9" fill="none" stroke-linejoin="round" />
<polyline points="548,159.4 541.6,159.4 541.6,179" stroke="#8a8a8a" stroke-width="0.9" fill="none" stroke-linejoin="round" />
<polyline points="557.6,165.6 557.6,171" stroke="#8a8a8a" stroke-width="0.9" fill="none" stroke-linejoin="round" />
<polyline points="617,201 624,201" stroke="#8a8a8a" stroke-width="0.9" fill="none" stroke-linejoin="round" />
<polyline points="609,215.6 635,215.6 635,209" stroke="#8a8a8a" stroke-width="0.9" fill="none" stroke-linejoin="round" />
<polyline points="576.25,321.25 590,321.25 590,317" stroke="#8a8a8a" stroke-width="0.9" fill="none" stroke-linejoin="round" />
<polyline points="655,321 655,311.75 667.5,311.75" stroke="#8a8a8a" stroke-width="0.9" fill="none" stroke-linejoin="round" />
<polyline points="680,333.75 688.75,333.75 688.75,321.25" stroke="#8a8a8a" stroke-width="0.9" fill="none" stroke-linejoin="round" />
<polyline points="687.5,381.2 687.5,389.8 684,389.8" stroke="#8a8a8a" stroke-width="0.9" fill="none" stroke-linejoin="round" />
<polyline points="551.7,393 544.5,393 544.5,406.6" stroke="#8a8a8a" stroke-width="0.9" fill="none" stroke-linejoin="round" />
<polyline points="561.25,414.25 575.5,414.25 575.5,407.5" stroke="#8a8a8a" stroke-width="0.9" fill="none" stroke-linejoin="round" />
<polyline points="633.2,480.7 633.2,484.2 651.1,484.2" stroke="#8a8a8a" stroke-width="0.9" fill="none" stroke-linejoin="round" />
<polyline points="261,454 261,441.75 301.25,441.75" stroke="#8a8a8a" stroke-width="0.9" fill="none" stroke-linejoin="round" />
<polyline points="276.5,463.6 290.7,463.6 290.7,472.2" stroke="#8a8a8a" stroke-width="0.9" fill="none" stroke-linejoin="round" />
<polyline points="276.5,466.3 282,466.3 282,475" stroke="#8a8a8a" stroke-width="0.9" fill="none" stroke-linejoin="round" />
<polyline points="307.9,508.8 311.4,508.8 311.4,494" stroke="#8a8a8a" stroke-width="0.9" fill="none" stroke-linejoin="round" />
<polyline points="307.9,511.3 317.7,511.3 317.7,493" stroke="#8a8a8a" stroke-width="0.9" fill="none" stroke-linejoin="round" />
<polyline points="492.2,509 515.8,509 515.8,504.75" stroke="#8a8a8a" stroke-width="0.9" fill="none" stroke-linejoin="round" />
<text x="133.3" y="98.5">0601</text>
<text x="182" y="142.7">0602</text>
<text x="200.1" y="226.8">0603</text>
<text x="162.2" y="357.8">0604</text>
<text x="87.5" y="362.5">0605</text>
<text x="287" y="302.5">0606</text>
<text x="88.8" y="458.9">0611</text>
<text x="196.8" y="463.5">0610</text>
<text x="369.1" y="113.5">0650</text>
<text x="432.5" y="145.1">0650</text>
<text x="308.7" y="154.2">0651</text>
<text x="394.3" y="323.2">0640</text>
<text x="550" y="163.6">0644</text>
<text x="627" y="205">0645</text>
<text x="582" y="315">0622</text>
<text x="671.25" y="316.25">0626</text>
<text x="680.5" y="379.1">0624</text>
<text x="534.5" y="418">0628</text>
<text x="622.9" y="477.4">0660</text>
<text x="250.5" y="468.5">0620</text>
<text x="282" y="514.2">0621</text>
<text x="507.9" y="501.9">0622</text>
<text class="ft" x="8.5" y="554">58300000177814 aet 000 a 6/6</text>
</svg>
</body></html>
